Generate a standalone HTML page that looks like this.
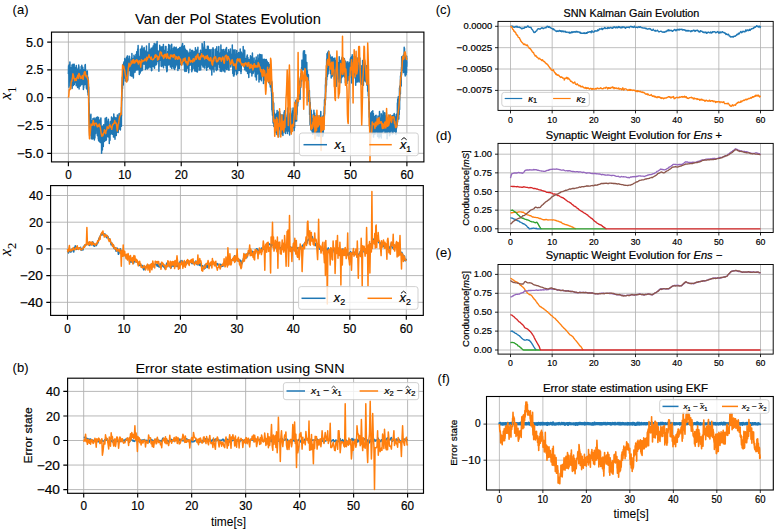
<!DOCTYPE html>
<html><head><meta charset="utf-8"><style>
html,body{margin:0;padding:0;background:#fff;}
svg{display:block;font-family:"Liberation Sans", sans-serif;}
text{stroke:#000;stroke-width:0.2px;}
text.t{stroke-width:0.06px;}
</style></head><body>
<svg width="777" height="531" viewBox="0 0 777 531">
<defs><clipPath id="ca1"><rect x="51.50" y="32.10" width="372.40" height="129.80"/></clipPath><clipPath id="ca2"><rect x="50.60" y="185.60" width="372.70" height="129.80"/></clipPath><clipPath id="cb"><rect x="67.60" y="378.20" width="355.90" height="115.10"/></clipPath><clipPath id="cc"><rect x="498.00" y="21.40" width="275.20" height="89.00"/></clipPath><clipPath id="cd"><rect x="498.00" y="143.40" width="275.20" height="89.10"/></clipPath><clipPath id="ce"><rect x="498.00" y="264.50" width="275.20" height="89.60"/></clipPath><clipPath id="cf"><rect x="486.50" y="396.50" width="286.80" height="93.50"/></clipPath></defs>
<rect width="777" height="531" fill="#fff"/>
<path d="M68.40 32.10V161.90M124.82 32.10V161.90M181.23 32.10V161.90M237.65 32.10V161.90M294.07 32.10V161.90M350.48 32.10V161.90M406.90 32.10V161.90M51.50 42.06H423.90M51.50 69.87H423.90M51.50 97.68H423.90M51.50 125.49H423.90M51.50 153.30H423.90" stroke="#b0b0b0" stroke-width="0.9" fill="none"/>
<polyline clip-path="url(#ca1)" points="68.4,74.1 68.5,70.1 68.6,65.8 68.7,73.3 68.8,72.4 68.9,75.0 69.0,87.2 69.1,71.5 69.2,64.8 69.2,74.9 69.3,76.7 69.4,81.6 69.5,72.1 69.6,80.8 69.7,73.9 69.8,71.1 69.9,61.9 70.0,65.6 70.1,74.4 70.2,71.0 70.3,71.4 70.4,78.2 70.5,76.1 70.6,86.1 70.7,77.0 70.8,68.4 70.8,73.3 70.9,69.9 71.0,70.8 71.1,67.8 71.2,74.1 71.3,75.0 71.4,76.7 71.5,76.7 71.6,73.1 71.7,85.0 71.8,75.7 71.9,78.8 72.0,65.0 72.1,88.5 72.2,87.4 72.3,70.1 72.4,72.0 72.4,78.3 72.5,72.2 72.6,75.0 72.7,73.1 72.8,75.2 72.9,79.8 73.0,64.2 73.1,78.8 73.2,73.1 73.3,85.5 73.4,77.9 73.5,82.8 73.6,83.2 73.7,68.2 73.8,79.8 73.9,65.2 73.9,67.1 74.0,71.9 74.1,79.2 74.2,64.2 74.3,84.5 74.4,78.2 74.5,78.2 74.6,73.8 74.7,81.9 74.8,68.5 74.9,77.1 75.0,72.4 75.1,80.0 75.2,68.6 75.3,72.9 75.4,82.6 75.5,68.0 75.5,67.4 75.6,70.3 75.7,70.2 75.8,74.5 75.9,76.1 76.0,71.1 76.1,68.1 76.2,85.7 76.3,65.5 76.4,74.9 76.5,76.4 76.6,72.0 76.7,74.1 76.8,71.7 76.9,76.4 77.0,75.3 77.1,75.7 77.1,70.1 77.2,83.9 77.3,69.9 77.4,75.1 77.5,80.5 77.6,87.6 77.7,83.0 77.8,69.6 77.9,74.7 78.0,75.2 78.1,68.3 78.2,67.9 78.3,75.0 78.4,78.5 78.5,78.8 78.6,70.5 78.7,77.3 78.7,65.0 78.8,72.1 78.9,79.8 79.0,66.7 79.1,88.9 79.2,76.9 79.3,71.1 79.4,86.6 79.5,79.7 79.6,76.1 79.7,86.2 79.8,75.1 79.9,74.9 80.0,78.5 80.1,72.9 80.2,76.3 80.3,86.0 80.3,70.0 80.4,80.7 80.5,71.6 80.6,76.2 80.7,81.8 80.8,85.1 80.9,73.0 81.0,70.6 81.1,72.0 81.2,66.4 81.3,82.6 81.4,77.4 81.5,72.9 81.6,74.0 81.7,71.4 81.8,84.6 81.8,65.2 81.9,78.1 82.0,72.0 82.1,80.0 82.2,81.2 82.3,73.7 82.4,71.9 82.5,81.2 82.6,76.3 82.7,77.4 82.8,67.2 82.9,73.2 83.0,69.9 83.1,75.2 83.2,72.3 83.3,86.6 83.4,76.7 83.4,89.5 83.5,69.5 83.6,76.6 83.7,88.0 83.8,77.1 83.9,76.9 84.0,78.3 84.1,72.2 84.2,73.9 84.3,75.7 84.4,82.1 84.5,74.3 84.6,77.5 84.7,84.8 84.8,83.5 84.9,75.3 85.0,66.2 85.0,65.3 85.1,67.9 85.2,84.2 85.3,64.6 85.4,68.4 85.5,76.1 85.6,69.3 85.7,74.4 85.8,80.6 85.9,79.8 86.0,76.4 86.1,77.0 86.2,72.3 86.3,87.3 86.4,82.6 86.5,88.7 86.6,74.6 86.6,82.8 86.7,81.2 86.8,89.1 86.9,78.7 87.0,71.7 87.1,73.4 87.2,73.7 87.3,71.0 87.4,73.7 87.5,83.6 87.6,81.7 87.7,92.2 87.8,80.0 87.9,77.1 88.0,79.6 88.1,95.1 88.2,87.7 88.2,93.9 88.3,85.8 88.4,83.7 88.5,89.0 88.6,93.5 88.7,87.1 88.8,93.8 88.9,103.4 89.0,102.5 89.1,106.4 89.2,114.2 89.3,116.5 89.4,115.2 89.5,123.8 89.6,135.4 89.7,129.4 89.8,127.3 89.8,123.1 89.9,124.7 90.0,124.6 90.1,127.1 90.2,125.1 90.3,123.1 90.4,126.8 90.5,127.6 90.6,122.0 90.7,132.0 90.8,121.9 90.9,114.3 91.0,131.4 91.1,128.5 91.2,125.3 91.3,126.5 91.3,138.8 91.4,127.4 91.5,137.9 91.6,126.6 91.7,121.0 91.8,121.5 91.9,133.6 92.0,132.0 92.1,129.1 92.2,122.5 92.3,135.6 92.4,124.9 92.5,139.0 92.6,120.8 92.7,130.2 92.8,126.0 92.9,133.8 92.9,118.8 93.0,135.3 93.1,138.5 93.2,136.5 93.3,136.0 93.4,125.0 93.5,132.9 93.6,127.4 93.7,121.1 93.8,118.8 93.9,130.7 94.0,126.4 94.1,118.0 94.2,124.6 94.3,122.6 94.4,140.1 94.5,123.5 94.5,129.2 94.6,119.7 94.7,129.8 94.8,126.8 94.9,138.1 95.0,120.0 95.1,128.5 95.2,128.4 95.3,125.2 95.4,127.7 95.5,119.0 95.6,121.1 95.7,133.6 95.8,132.9 95.9,127.3 96.0,120.5 96.1,129.0 96.1,122.9 96.2,126.4 96.3,117.5 96.4,122.2 96.5,129.3 96.6,124.3 96.7,128.3 96.8,122.2 96.9,124.0 97.0,127.3 97.1,128.5 97.2,121.2 97.3,127.1 97.4,135.4 97.5,116.9 97.6,133.9 97.7,135.9 97.7,123.4 97.8,117.7 97.9,136.2 98.0,129.8 98.1,129.5 98.2,128.6 98.3,138.9 98.4,122.3 98.5,117.5 98.6,140.6 98.7,119.2 98.8,127.2 98.9,120.9 99.0,136.4 99.1,137.0 99.2,122.6 99.2,141.6 99.3,134.5 99.4,131.3 99.5,131.9 99.6,130.6 99.7,136.4 99.8,120.2 99.9,127.7 100.0,131.2 100.1,130.9 100.2,128.4 100.3,142.5 100.4,139.4 100.5,126.8 100.6,131.3 100.7,136.8 100.8,134.1 100.8,119.1 100.9,117.9 101.0,123.4 101.1,136.5 101.2,134.3 101.3,138.8 101.4,133.9 101.5,131.5 101.6,153.3 101.7,138.9 101.8,139.0 101.9,134.3 102.0,132.2 102.1,132.3 102.2,134.4 102.3,133.4 102.4,126.4 102.4,150.0 102.5,127.2 102.6,128.1 102.7,130.9 102.8,140.1 102.9,132.6 103.0,133.5 103.1,131.6 103.2,134.1 103.3,146.4 103.4,126.5 103.5,132.0 103.6,134.0 103.7,124.7 103.8,129.6 103.9,128.2 104.0,137.2 104.0,126.0 104.1,136.2 104.2,127.1 104.3,130.6 104.4,141.6 104.5,138.1 104.6,135.7 104.7,130.9 104.8,130.3 104.9,130.2 105.0,127.6 105.1,121.8 105.2,118.2 105.3,133.5 105.4,126.0 105.5,131.3 105.6,140.5 105.6,125.8 105.7,139.9 105.8,125.8 105.9,131.8 106.0,128.3 106.1,127.8 106.2,135.2 106.3,129.0 106.4,139.9 106.5,117.5 106.6,133.0 106.7,129.3 106.8,131.4 106.9,126.4 107.0,124.7 107.1,132.5 107.2,128.3 107.2,127.3 107.3,133.4 107.4,121.5 107.5,129.1 107.6,136.1 107.7,122.4 107.8,136.8 107.9,135.7 108.0,130.2 108.1,132.8 108.2,130.9 108.3,136.9 108.4,119.2 108.5,130.4 108.6,128.6 108.7,121.5 108.7,134.0 108.8,122.3 108.9,137.3 109.0,135.0 109.1,135.6 109.2,127.2 109.3,143.4 109.4,127.1 109.5,127.1 109.6,136.0 109.7,131.0 109.8,127.8 109.9,135.9 110.0,140.2 110.1,124.6 110.2,127.8 110.3,128.1 110.3,125.7 110.4,124.3 110.5,127.7 110.6,121.6 110.7,134.3 110.8,132.5 110.9,131.2 111.0,120.9 111.1,132.6 111.2,131.7 111.3,124.2 111.4,128.6 111.5,117.1 111.6,133.2 111.7,133.4 111.8,128.3 111.9,127.3 111.9,132.6 112.0,121.9 112.1,124.6 112.2,123.2 112.3,120.1 112.4,134.3 112.5,121.9 112.6,126.8 112.7,121.4 112.8,119.5 112.9,118.0 113.0,129.1 113.1,127.2 113.2,125.3 113.3,125.7 113.4,124.1 113.5,133.1 113.5,137.0 113.6,127.9 113.7,132.3 113.8,114.1 113.9,133.5 114.0,130.6 114.1,134.3 114.2,128.9 114.3,119.7 114.4,125.8 114.5,137.0 114.6,129.4 114.7,117.2 114.8,133.1 114.9,125.0 115.0,139.3 115.1,128.3 115.1,130.9 115.2,129.0 115.3,124.9 115.4,134.6 115.5,118.8 115.6,118.0 115.7,127.9 115.8,122.2 115.9,130.9 116.0,132.5 116.1,132.5 116.2,124.3 116.3,135.5 116.4,128.4 116.5,118.0 116.6,132.5 116.6,121.1 116.7,122.3 116.8,130.3 116.9,126.5 117.0,127.5 117.1,131.8 117.2,117.7 117.3,127.9 117.4,115.1 117.5,132.0 117.6,123.6 117.7,122.0 117.8,120.8 117.9,123.1 118.0,122.4 118.1,124.7 118.2,120.7 118.2,132.6 118.3,127.9 118.4,123.8 118.5,119.6 118.6,118.4 118.7,124.7 118.8,124.5 118.9,118.2 119.0,115.6 119.1,114.7 119.2,113.4 119.3,122.7 119.4,125.0 119.5,123.6 119.6,120.4 119.7,129.3 119.8,121.5 119.8,118.8 119.9,118.9 120.0,127.3 120.1,120.8 120.2,120.2 120.3,116.6 120.4,129.9 120.5,124.9 120.6,119.6 120.7,114.7 120.8,117.6 120.9,120.5 121.0,122.7 121.1,122.4 121.2,125.7 121.3,114.3 121.4,123.6 121.4,126.2 121.5,107.0 121.6,116.1 121.7,97.7 121.8,100.9 121.9,96.6 122.0,85.4 122.1,91.6 122.2,83.7 122.3,77.6 122.4,81.5 122.5,88.5 122.6,75.8 122.7,77.9 122.8,73.8 122.9,81.8 123.0,64.4 123.0,70.7 123.1,85.1 123.2,76.8 123.3,85.0 123.4,64.5 123.5,69.2 123.6,63.5 123.7,73.8 123.8,68.1 123.9,62.1 124.0,72.1 124.1,63.0 124.2,68.5 124.3,78.0 124.4,76.9 124.5,70.7 124.6,67.0 124.6,62.8 124.7,71.1 124.8,58.6 124.9,69.7 125.0,71.4 125.1,74.2 125.2,70.0 125.3,81.1 125.4,73.8 125.5,70.0 125.6,59.9 125.7,76.9 125.8,61.2 125.9,62.3 126.0,59.6 126.1,73.3 126.1,76.1 126.2,67.0 126.3,74.0 126.4,75.4 126.5,57.6 126.6,72.5 126.7,65.3 126.8,78.5 126.9,67.0 127.0,74.4 127.1,66.6 127.2,66.7 127.3,55.9 127.4,64.5 127.5,67.5 127.6,80.7 127.7,64.2 127.7,55.9 127.8,80.1 127.9,65.9 128.0,70.9 128.1,62.2 128.2,69.4 128.3,58.8 128.4,61.9 128.5,68.1 128.6,70.1 128.7,67.0 128.8,65.4 128.9,69.4 129.0,69.6 129.1,64.2 129.2,70.5 129.3,68.9 129.3,67.9 129.4,66.7 129.5,56.2 129.6,70.2 129.7,66.2 129.8,60.6 129.9,64.5 130.0,58.9 130.1,66.5 130.2,62.2 130.3,73.2 130.4,75.6 130.5,72.7 130.6,75.4 130.7,65.9 130.8,72.0 130.9,64.8 130.9,64.6 131.0,62.1 131.1,63.4 131.2,68.6 131.3,64.0 131.4,68.1 131.5,76.1 131.6,73.5 131.7,57.3 131.8,71.0 131.9,53.4 132.0,76.2 132.1,68.0 132.2,65.7 132.3,60.6 132.4,74.5 132.5,62.3 132.5,62.1 132.6,65.4 132.7,67.0 132.8,70.2 132.9,60.5 133.0,70.1 133.1,59.2 133.2,58.6 133.3,64.3 133.4,78.1 133.5,62.5 133.6,73.4 133.7,71.4 133.8,60.1 133.9,60.7 134.0,61.3 134.0,55.3 134.1,69.3 134.2,61.5 134.3,63.2 134.4,67.0 134.5,58.6 134.6,62.9 134.7,65.5 134.8,56.9 134.9,61.3 135.0,72.3 135.1,63.5 135.2,57.1 135.3,64.9 135.4,61.3 135.5,60.5 135.6,70.5 135.6,61.7 135.7,69.1 135.8,64.1 135.9,54.4 136.0,66.8 136.1,62.7 136.2,62.2 136.3,61.9 136.4,68.3 136.5,61.2 136.6,68.0 136.7,51.7 136.8,56.8 136.9,63.0 137.0,70.0 137.1,68.4 137.2,67.3 137.2,51.7 137.3,68.7 137.4,63.8 137.5,65.0 137.6,57.0 137.7,49.0 137.8,67.2 137.9,67.3 138.0,54.4 138.1,45.4 138.2,50.3 138.3,69.8 138.4,55.0 138.5,69.5 138.6,57.2 138.7,67.2 138.8,59.6 138.8,67.8 138.9,64.2 139.0,66.6 139.1,68.3 139.2,62.5 139.3,74.4 139.4,57.1 139.5,62.3 139.6,58.3 139.7,61.9 139.8,67.9 139.9,67.5 140.0,61.1 140.1,68.2 140.2,72.9 140.3,55.2 140.4,49.2 140.4,60.1 140.5,65.9 140.6,52.5 140.7,57.3 140.8,57.2 140.9,60.0 141.0,68.9 141.1,56.8 141.2,56.9 141.3,70.8 141.4,61.0 141.5,60.3 141.6,48.1 141.7,70.7 141.8,53.1 141.9,60.7 142.0,61.1 142.0,46.1 142.1,50.1 142.2,57.7 142.3,55.3 142.4,68.7 142.5,69.9 142.6,64.2 142.7,56.2 142.8,59.8 142.9,56.8 143.0,59.7 143.1,58.8 143.2,50.8 143.3,49.0 143.4,56.7 143.5,58.9 143.5,48.9 143.6,52.9 143.7,58.0 143.8,58.7 143.9,64.1 144.0,51.0 144.1,47.6 144.2,47.7 144.3,59.5 144.4,57.2 144.5,56.2 144.6,56.6 144.7,60.7 144.8,50.3 144.9,63.6 145.0,64.4 145.1,54.1 145.1,58.7 145.2,61.3 145.3,52.1 145.4,51.5 145.5,69.5 145.6,64.7 145.7,57.6 145.8,59.2 145.9,61.5 146.0,58.4 146.1,68.1 146.2,65.6 146.3,57.8 146.4,65.7 146.5,46.1 146.6,52.5 146.7,62.7 146.7,51.0 146.8,53.2 146.9,66.2 147.0,52.2 147.1,53.1 147.2,62.4 147.3,57.9 147.4,69.1 147.5,55.6 147.6,59.0 147.7,60.3 147.8,52.3 147.9,57.6 148.0,58.7 148.1,55.8 148.2,52.2 148.3,61.9 148.3,53.2 148.4,59.4 148.5,64.3 148.6,62.7 148.7,52.5 148.8,67.9 148.9,51.6 149.0,48.1 149.1,43.4 149.2,66.9 149.3,60.5 149.4,61.9 149.5,56.5 149.6,61.8 149.7,63.7 149.8,66.7 149.9,65.3 149.9,49.8 150.0,62.6 150.1,54.8 150.2,64.2 150.3,65.7 150.4,55.4 150.5,55.7 150.6,63.3 150.7,59.7 150.8,56.0 150.9,67.8 151.0,58.8 151.1,48.2 151.2,55.7 151.3,54.4 151.4,63.7 151.4,54.6 151.5,70.8 151.6,66.6 151.7,63.7 151.8,70.5 151.9,50.8 152.0,57.3 152.1,65.4 152.2,47.9 152.3,64.0 152.4,52.8 152.5,66.6 152.6,58.4 152.7,59.1 152.8,56.1 152.9,60.6 153.0,53.7 153.0,56.3 153.1,52.2 153.2,46.0 153.3,51.7 153.4,46.9 153.5,50.8 153.6,63.5 153.7,52.2 153.8,66.8 153.9,63.0 154.0,54.1 154.1,56.0 154.2,43.4 154.3,58.2 154.4,59.2 154.5,68.2 154.6,48.9 154.6,46.5 154.7,65.7 154.8,43.9 154.9,62.6 155.0,61.6 155.1,52.1 155.2,65.2 155.3,50.5 155.4,63.5 155.5,55.7 155.6,52.9 155.7,45.0 155.8,43.9 155.9,61.7 156.0,58.2 156.1,50.1 156.2,52.5 156.2,64.8 156.3,56.5 156.4,43.9 156.5,58.3 156.6,64.1 156.7,57.5 156.8,48.4 156.9,56.1 157.0,46.3 157.1,41.4 157.2,61.8 157.3,54.1 157.4,60.1 157.5,57.3 157.6,59.6 157.7,50.4 157.8,57.3 157.8,56.5 157.9,50.8 158.0,60.7 158.1,55.6 158.2,60.1 158.3,54.2 158.4,51.9 158.5,57.3 158.6,59.2 158.7,52.8 158.8,57.2 158.9,71.2 159.0,56.6 159.1,66.4 159.2,51.4 159.3,55.8 159.4,61.0 159.4,55.9 159.5,55.7 159.6,60.3 159.7,45.3 159.8,50.3 159.9,52.5 160.0,60.3 160.1,54.5 160.2,59.3 160.3,55.1 160.4,58.8 160.5,54.7 160.6,56.4 160.7,51.3 160.8,50.2 160.9,57.4 160.9,47.0 161.0,50.3 161.1,65.3 161.2,66.2 161.3,61.6 161.4,63.5 161.5,50.3 161.6,66.4 161.7,53.5 161.8,56.8 161.9,50.4 162.0,46.8 162.1,48.8 162.2,65.7 162.3,51.5 162.4,61.7 162.5,54.6 162.5,52.4 162.6,47.9 162.7,50.9 162.8,64.6 162.9,55.2 163.0,54.3 163.1,65.7 163.2,57.2 163.3,48.1 163.4,44.5 163.5,67.8 163.6,56.4 163.7,52.7 163.8,64.9 163.9,58.4 164.0,60.9 164.1,55.9 164.1,54.6 164.2,57.6 164.3,50.5 164.4,64.2 164.5,65.1 164.6,54.1 164.7,59.3 164.8,64.7 164.9,57.4 165.0,55.7 165.1,51.0 165.2,53.2 165.3,54.2 165.4,46.4 165.5,50.5 165.6,57.3 165.7,65.5 165.7,52.0 165.8,62.4 165.9,59.0 166.0,46.4 166.1,60.1 166.2,65.9 166.3,68.3 166.4,60.8 166.5,56.3 166.6,60.3 166.7,67.7 166.8,71.8 166.9,58.1 167.0,57.9 167.1,62.5 167.2,71.0 167.3,63.1 167.3,59.5 167.4,65.4 167.5,56.5 167.6,60.1 167.7,51.6 167.8,57.0 167.9,57.5 168.0,58.6 168.1,55.6 168.2,56.2 168.3,48.8 168.4,51.0 168.5,52.8 168.6,53.0 168.7,44.6 168.8,65.0 168.8,54.5 168.9,57.3 169.0,52.5 169.1,46.1 169.2,57.7 169.3,61.5 169.4,56.9 169.5,52.1 169.6,61.1 169.7,52.2 169.8,48.7 169.9,49.9 170.0,45.2 170.1,64.3 170.2,49.8 170.3,59.5 170.4,67.1 170.4,52.4 170.5,64.5 170.6,59.4 170.7,54.6 170.8,53.1 170.9,62.9 171.0,55.9 171.1,51.4 171.2,55.5 171.3,61.5 171.4,59.9 171.5,60.4 171.6,66.0 171.7,44.2 171.8,68.5 171.9,54.5 172.0,61.8 172.0,54.7 172.1,48.2 172.2,66.7 172.3,50.2 172.4,65.3 172.5,62.2 172.6,54.8 172.7,50.2 172.8,66.2 172.9,51.7 173.0,62.8 173.1,54.1 173.2,54.4 173.3,51.3 173.4,63.1 173.5,53.5 173.6,56.4 173.6,65.0 173.7,48.0 173.8,68.2 173.9,55.8 174.0,62.0 174.1,50.3 174.2,46.9 174.3,54.0 174.4,67.5 174.5,56.8 174.6,69.5 174.7,67.8 174.8,66.8 174.9,58.8 175.0,49.2 175.1,57.4 175.2,64.8 175.2,67.8 175.3,67.3 175.4,48.0 175.5,61.5 175.6,62.5 175.7,48.2 175.8,59.5 175.9,65.9 176.0,57.7 176.1,63.1 176.2,47.3 176.3,59.5 176.4,64.1 176.5,62.4 176.6,62.6 176.7,50.4 176.8,50.3 176.8,55.3 176.9,55.7 177.0,64.6 177.1,59.5 177.2,58.9 177.3,53.3 177.4,55.1 177.5,49.2 177.6,53.9 177.7,52.4 177.8,65.2 177.9,70.5 178.0,53.6 178.1,53.8 178.2,52.7 178.3,53.1 178.3,50.0 178.4,57.0 178.5,48.8 178.6,62.6 178.7,54.6 178.8,49.7 178.9,63.0 179.0,60.7 179.1,56.6 179.2,52.0 179.3,68.4 179.4,53.5 179.5,55.3 179.6,62.9 179.7,48.5 179.8,47.4 179.9,49.7 179.9,64.7 180.0,59.0 180.1,60.4 180.2,49.4 180.3,61.0 180.4,53.8 180.5,47.8 180.6,61.6 180.7,63.9 180.8,53.6 180.9,53.7 181.0,55.5 181.1,64.5 181.2,64.6 181.3,56.6 181.4,61.5 181.5,54.5 181.5,46.6 181.6,54.7 181.7,48.7 181.8,64.7 181.9,64.1 182.0,61.2 182.1,45.0 182.2,54.4 182.3,59.6 182.4,54.0 182.5,53.7 182.6,43.5 182.7,59.0 182.8,46.2 182.9,46.3 183.0,54.9 183.1,62.8 183.1,53.6 183.2,58.2 183.3,62.4 183.4,47.4 183.5,54.0 183.6,52.9 183.7,52.0 183.8,58.1 183.9,56.5 184.0,58.0 184.1,65.0 184.2,55.1 184.3,64.9 184.4,45.8 184.5,69.1 184.6,70.6 184.7,48.1 184.7,58.6 184.8,61.0 184.9,52.9 185.0,71.4 185.1,59.4 185.2,63.3 185.3,60.7 185.4,59.5 185.5,49.4 185.6,60.5 185.7,52.6 185.8,70.6 185.9,64.9 186.0,51.8 186.1,63.5 186.2,55.8 186.2,63.7 186.3,56.3 186.4,71.2 186.5,57.6 186.6,58.4 186.7,56.2 186.8,53.5 186.9,50.6 187.0,66.0 187.1,61.2 187.2,63.5 187.3,52.2 187.4,62.5 187.5,63.0 187.6,62.9 187.7,67.3 187.8,68.3 187.8,61.7 187.9,51.9 188.0,63.1 188.1,57.0 188.2,67.1 188.3,66.5 188.4,66.1 188.5,65.6 188.6,65.2 188.7,72.8 188.8,70.5 188.9,69.7 189.0,60.0 189.1,66.3 189.2,53.2 189.3,57.0 189.4,65.6 189.4,64.1 189.5,58.6 189.6,56.5 189.7,60.6 189.8,64.5 189.9,63.7 190.0,49.3 190.1,64.5 190.2,52.2 190.3,54.5 190.4,60.7 190.5,55.4 190.6,61.2 190.7,61.8 190.8,60.9 190.9,62.4 191.0,65.3 191.0,61.4 191.1,63.5 191.2,60.8 191.3,58.3 191.4,60.7 191.5,63.2 191.6,59.8 191.7,50.5 191.8,71.8 191.9,58.4 192.0,62.5 192.1,50.2 192.2,65.2 192.3,70.0 192.4,51.7 192.5,52.8 192.6,52.5 192.6,68.0 192.7,68.1 192.8,59.7 192.9,54.0 193.0,51.1 193.1,62.0 193.2,68.6 193.3,52.6 193.4,63.7 193.5,55.7 193.6,54.8 193.7,55.8 193.8,54.9 193.9,57.3 194.0,59.3 194.1,62.4 194.2,62.3 194.2,59.1 194.3,52.9 194.4,57.3 194.5,51.8 194.6,63.0 194.7,61.4 194.8,71.0 194.9,58.6 195.0,55.3 195.1,55.0 195.2,65.1 195.3,60.9 195.4,47.8 195.5,55.1 195.6,60.9 195.7,60.0 195.7,66.1 195.8,52.6 195.9,59.6 196.0,65.4 196.1,60.2 196.2,71.4 196.3,69.4 196.4,66.7 196.5,51.6 196.6,50.5 196.7,62.3 196.8,57.3 196.9,69.1 197.0,56.3 197.1,62.4 197.2,70.0 197.3,54.8 197.3,49.4 197.4,72.1 197.5,56.2 197.6,62.6 197.7,56.1 197.8,51.5 197.9,47.3 198.0,57.5 198.1,53.6 198.2,56.0 198.3,66.1 198.4,57.4 198.5,56.8 198.6,58.7 198.7,64.7 198.8,59.0 198.9,66.8 198.9,58.2 199.0,58.4 199.1,61.8 199.2,70.2 199.3,62.9 199.4,53.5 199.5,59.1 199.6,58.4 199.7,53.6 199.8,61.4 199.9,65.8 200.0,67.3 200.1,60.2 200.2,58.4 200.3,53.7 200.4,57.5 200.5,50.2 200.5,56.9 200.6,56.0 200.7,70.1 200.8,53.5 200.9,57.0 201.0,53.6 201.1,54.8 201.2,52.4 201.3,57.6 201.4,60.7 201.5,52.6 201.6,57.2 201.7,57.2 201.8,64.7 201.9,63.9 202.0,52.5 202.1,52.7 202.1,43.6 202.2,53.9 202.3,48.5 202.4,44.5 202.5,61.8 202.6,52.2 202.7,60.3 202.8,66.2 202.9,57.3 203.0,67.0 203.1,54.4 203.2,50.3 203.3,57.6 203.4,48.2 203.5,54.1 203.6,65.9 203.6,59.4 203.7,55.7 203.8,55.3 203.9,66.4 204.0,47.1 204.1,64.2 204.2,59.8 204.3,41.7 204.4,67.9 204.5,44.7 204.6,51.8 204.7,47.8 204.8,52.7 204.9,68.0 205.0,60.7 205.1,57.5 205.2,62.5 205.2,54.3 205.3,52.8 205.4,59.8 205.5,51.0 205.6,55.9 205.7,54.7 205.8,59.7 205.9,63.2 206.0,64.9 206.1,49.5 206.2,54.1 206.3,60.9 206.4,59.0 206.5,61.2 206.6,56.3 206.7,70.2 206.8,49.5 206.8,60.6 206.9,59.6 207.0,54.5 207.1,58.3 207.2,60.0 207.3,64.0 207.4,46.2 207.5,54.8 207.6,60.2 207.7,65.3 207.8,60.2 207.9,67.3 208.0,63.5 208.1,61.5 208.2,46.3 208.3,47.0 208.4,57.1 208.4,49.3 208.5,66.0 208.6,66.2 208.7,61.5 208.8,64.6 208.9,54.2 209.0,51.6 209.1,65.6 209.2,57.6 209.3,52.8 209.4,54.0 209.5,53.9 209.6,49.7 209.7,68.4 209.8,56.5 209.9,66.4 210.0,68.7 210.0,50.2 210.1,55.9 210.2,58.2 210.3,65.9 210.4,67.8 210.5,56.2 210.6,54.7 210.7,63.3 210.8,59.8 210.9,61.8 211.0,61.2 211.1,49.6 211.2,63.1 211.3,70.1 211.4,60.9 211.5,66.0 211.6,60.8 211.6,61.1 211.7,57.3 211.8,75.0 211.9,66.2 212.0,61.8 212.1,62.7 212.2,64.2 212.3,66.1 212.4,64.1 212.5,60.5 212.6,62.9 212.7,68.9 212.8,48.8 212.9,50.9 213.0,47.7 213.1,55.7 213.1,57.5 213.2,55.6 213.3,59.7 213.4,55.9 213.5,62.4 213.6,52.7 213.7,59.0 213.8,55.2 213.9,49.6 214.0,72.1 214.1,59.4 214.2,61.1 214.3,59.2 214.4,58.7 214.5,57.8 214.6,65.8 214.7,61.6 214.7,57.6 214.8,62.1 214.9,65.9 215.0,65.2 215.1,60.7 215.2,58.1 215.3,64.0 215.4,57.9 215.5,58.5 215.6,61.1 215.7,55.3 215.8,48.9 215.9,55.6 216.0,69.7 216.1,56.6 216.2,66.1 216.3,59.0 216.3,52.1 216.4,70.3 216.5,70.4 216.6,53.6 216.7,61.6 216.8,46.8 216.9,52.7 217.0,57.3 217.1,55.3 217.2,61.4 217.3,69.0 217.4,68.9 217.5,69.5 217.6,59.1 217.7,65.1 217.8,57.6 217.9,56.2 217.9,57.8 218.0,58.5 218.1,60.9 218.2,58.3 218.3,51.2 218.4,56.5 218.5,59.8 218.6,56.3 218.7,64.1 218.8,46.5 218.9,54.1 219.0,54.8 219.1,56.8 219.2,59.5 219.3,64.0 219.4,63.3 219.5,59.4 219.5,67.4 219.6,64.7 219.7,60.9 219.8,56.5 219.9,57.8 220.0,59.2 220.1,55.9 220.2,62.7 220.3,71.3 220.4,52.7 220.5,65.4 220.6,55.8 220.7,60.7 220.8,61.5 220.9,45.1 221.0,57.8 221.0,52.9 221.1,59.5 221.2,54.0 221.3,60.1 221.4,57.4 221.5,55.6 221.6,66.0 221.7,66.2 221.8,71.5 221.9,61.5 222.0,49.8 222.1,53.1 222.2,58.3 222.3,54.0 222.4,51.3 222.5,69.8 222.6,66.8 222.6,54.1 222.7,51.5 222.8,64.7 222.9,54.5 223.0,58.7 223.1,59.6 223.2,63.1 223.3,52.6 223.4,56.5 223.5,49.4 223.6,58.0 223.7,63.6 223.8,71.0 223.9,60.8 224.0,52.3 224.1,67.1 224.2,55.7 224.2,62.7 224.3,53.1 224.4,64.1 224.5,57.8 224.6,60.1 224.7,51.3 224.8,66.2 224.9,72.0 225.0,62.3 225.1,58.5 225.2,61.5 225.3,49.4 225.4,62.1 225.5,65.9 225.6,56.1 225.7,64.4 225.8,53.0 225.8,49.0 225.9,68.4 226.0,58.3 226.1,57.2 226.2,59.2 226.3,61.6 226.4,50.2 226.5,47.6 226.6,53.3 226.7,69.5 226.8,55.0 226.9,62.4 227.0,57.6 227.1,52.8 227.2,56.5 227.3,54.8 227.4,61.0 227.4,59.9 227.5,67.6 227.6,54.9 227.7,58.5 227.8,59.4 227.9,65.1 228.0,54.4 228.1,58.6 228.2,55.8 228.3,69.7 228.4,56.0 228.5,57.9 228.6,49.8 228.7,68.4 228.8,51.2 228.9,52.1 229.0,67.6 229.0,70.2 229.1,64.5 229.2,62.7 229.3,63.1 229.4,57.6 229.5,53.5 229.6,54.5 229.7,58.9 229.8,53.0 229.9,58.0 230.0,56.7 230.1,56.7 230.2,59.7 230.3,59.5 230.4,48.9 230.5,60.6 230.5,57.3 230.6,60.4 230.7,63.4 230.8,67.1 230.9,55.8 231.0,54.4 231.1,58.7 231.2,55.6 231.3,62.1 231.4,55.4 231.5,59.0 231.6,55.5 231.7,63.6 231.8,55.1 231.9,63.3 232.0,59.0 232.1,52.9 232.1,61.0 232.2,62.0 232.3,45.1 232.4,60.7 232.5,53.7 232.6,65.8 232.7,49.5 232.8,73.6 232.9,70.5 233.0,62.4 233.1,56.0 233.2,57.6 233.3,50.6 233.4,59.8 233.5,75.9 233.6,58.5 233.7,68.7 233.7,50.2 233.8,73.4 233.9,62.6 234.0,76.1 234.1,71.9 234.2,67.1 234.3,74.5 234.4,61.5 234.5,61.0 234.6,64.1 234.7,56.6 234.8,54.0 234.9,59.7 235.0,49.7 235.1,53.0 235.2,63.8 235.3,62.3 235.3,55.7 235.4,58.0 235.5,64.7 235.6,70.2 235.7,54.5 235.8,65.7 235.9,65.4 236.0,62.3 236.1,72.0 236.2,58.1 236.3,56.7 236.4,65.2 236.5,74.7 236.6,61.8 236.7,50.5 236.8,70.5 236.9,62.1 236.9,57.2 237.0,66.9 237.1,59.7 237.2,59.7 237.3,71.8 237.4,59.3 237.5,53.9 237.6,73.3 237.7,59.7 237.8,56.0 237.9,53.9 238.0,61.9 238.1,69.8 238.2,65.7 238.3,67.1 238.4,65.4 238.4,59.8 238.5,59.6 238.6,55.3 238.7,52.4 238.8,67.4 238.9,59.3 239.0,70.5 239.1,58.0 239.2,57.2 239.3,54.9 239.4,56.0 239.5,62.8 239.6,60.8 239.7,64.4 239.8,62.0 239.9,62.9 240.0,63.2 240.0,53.5 240.1,59.0 240.2,49.0 240.3,70.6 240.4,56.7 240.5,60.2 240.6,66.0 240.7,71.5 240.8,66.5 240.9,66.4 241.0,73.4 241.1,52.0 241.2,71.7 241.3,66.5 241.4,64.0 241.5,52.6 241.6,64.1 241.6,59.4 241.7,60.3 241.8,61.2 241.9,60.2 242.0,59.2 242.1,57.5 242.2,61.3 242.3,59.1 242.4,64.7 242.5,53.7 242.6,53.8 242.7,58.9 242.8,59.6 242.9,53.7 243.0,64.9 243.1,58.0 243.2,58.5 243.2,46.4 243.3,62.1 243.4,55.1 243.5,53.8 243.6,57.8 243.7,59.3 243.8,57.3 243.9,63.9 244.0,53.0 244.1,66.8 244.2,65.8 244.3,64.6 244.4,61.2 244.5,50.2 244.6,67.9 244.7,50.2 244.8,56.5 244.8,69.7 244.9,57.1 245.0,69.8 245.1,68.8 245.2,60.0 245.3,58.7 245.4,68.2 245.5,64.0 245.6,65.1 245.7,66.6 245.8,70.1 245.9,68.6 246.0,64.2 246.1,71.0 246.2,58.6 246.3,71.1 246.3,61.8 246.4,59.1 246.5,64.1 246.6,61.4 246.7,60.8 246.8,65.5 246.9,56.2 247.0,59.0 247.1,67.5 247.2,56.2 247.3,54.9 247.4,59.3 247.5,62.7 247.6,73.4 247.7,72.5 247.8,59.2 247.9,57.5 247.9,58.7 248.0,69.7 248.1,71.7 248.2,60.2 248.3,59.2 248.4,63.5 248.5,66.4 248.6,63.5 248.7,61.2 248.8,77.5 248.9,65.0 249.0,67.9 249.1,67.3 249.2,72.3 249.3,71.7 249.4,61.1 249.5,66.7 249.5,63.8 249.6,63.4 249.7,59.2 249.8,72.5 249.9,66.7 250.0,72.5 250.1,60.5 250.2,59.6 250.3,62.5 250.4,58.4 250.5,55.8 250.6,63.2 250.7,64.7 250.8,58.3 250.9,63.4 251.0,63.5 251.1,60.8 251.1,68.9 251.2,56.7 251.3,62.5 251.4,64.6 251.5,65.4 251.6,73.5 251.7,67.0 251.8,70.5 251.9,76.0 252.0,58.0 252.1,64.6 252.2,69.9 252.3,72.1 252.4,52.9 252.5,57.3 252.6,65.1 252.7,61.3 252.7,70.3 252.8,66.8 252.9,73.5 253.0,65.9 253.1,72.5 253.2,73.2 253.3,72.1 253.4,65.9 253.5,71.7 253.6,68.6 253.7,66.7 253.8,65.4 253.9,64.3 254.0,65.3 254.1,58.1 254.2,65.7 254.3,63.0 254.3,67.1 254.4,62.9 254.5,63.6 254.6,69.1 254.7,63.7 254.8,63.0 254.9,63.7 255.0,68.1 255.1,72.9 255.2,73.5 255.3,76.8 255.4,66.5 255.5,66.0 255.6,71.1 255.7,66.0 255.8,60.1 255.8,70.5 255.9,69.3 256.0,75.6 256.1,75.4 256.2,56.9 256.3,71.4 256.4,80.0 256.5,79.0 256.6,64.8 256.7,60.2 256.8,72.1 256.9,65.3 257.0,71.8 257.1,67.7 257.2,71.0 257.3,61.8 257.4,74.0 257.4,69.9 257.5,67.1 257.6,66.6 257.7,60.1 257.8,70.0 257.9,54.9 258.0,73.1 258.1,65.9 258.2,67.7 258.3,70.2 258.4,58.2 258.5,68.7 258.6,67.7 258.7,74.0 258.8,64.5 258.9,72.0 259.0,82.0 259.0,69.6 259.1,73.1 259.2,66.5 259.3,67.9 259.4,76.9 259.5,75.1 259.6,54.3 259.7,72.8 259.8,68.9 259.9,74.5 260.0,79.2 260.1,74.4 260.2,57.7 260.3,68.8 260.4,67.5 260.5,54.7 260.6,74.8 260.6,66.4 260.7,79.0 260.8,73.6 260.9,71.7 261.0,63.4 261.1,68.7 261.2,65.9 261.3,71.8 261.4,80.7 261.5,70.8 261.6,70.4 261.7,72.1 261.8,75.3 261.9,54.8 262.0,73.5 262.1,74.6 262.2,71.8 262.2,68.3 262.3,74.0 262.4,67.1 262.5,62.5 262.6,68.9 262.7,60.3 262.8,66.6 262.9,68.3 263.0,68.7 263.1,59.2 263.2,71.7 263.3,75.2 263.4,72.4 263.5,83.5 263.6,79.3 263.7,62.6 263.7,66.0 263.8,65.5 263.9,68.2 264.0,72.9 264.1,64.4 264.2,68.7 264.3,61.7 264.4,77.0 264.5,67.0 264.6,59.2 264.7,80.1 264.8,60.7 264.9,59.4 265.0,64.1 265.1,76.1 265.2,71.2 265.3,67.9 265.3,78.9 265.4,76.7 265.5,74.2 265.6,60.9 265.7,67.3 265.8,73.5 265.9,71.1 266.0,62.9 266.1,68.3 266.2,66.4 266.3,59.5 266.4,67.7 266.5,66.5 266.6,62.3 266.7,74.2 266.8,75.8 266.9,71.3 266.9,80.2 267.0,61.1 267.1,71.7 267.2,61.4 267.3,62.7 267.4,68.1 267.5,78.7 267.6,64.6 267.7,74.5 267.8,66.8 267.9,78.8 268.0,74.4 268.1,70.6 268.2,74.7 268.3,72.9 268.4,77.1 268.5,64.6 268.5,62.7 268.6,66.0 268.7,79.1 268.8,82.8 268.9,80.5 269.0,72.9 269.1,79.8 269.2,72.6 269.3,73.1 269.4,73.2 269.5,73.1 269.6,78.4 269.7,69.7 269.8,71.6 269.9,64.4 270.0,85.0 270.1,74.0 270.1,79.2 270.2,74.9 270.3,87.0 270.4,75.0 270.5,74.7 270.6,86.5 270.7,83.0 270.8,85.4 270.9,86.7 271.0,85.8 271.1,85.9 271.2,84.0 271.3,90.8 271.4,91.5 271.5,86.5 271.6,92.4 271.7,96.2 271.7,81.8 271.8,94.8 271.9,110.1 272.0,101.4 272.1,102.6 272.2,91.3 272.3,112.0 272.4,93.4 272.5,115.2 272.6,102.8 272.7,108.5 272.8,103.2 272.9,109.3 273.0,113.7 273.1,123.1 273.2,111.7 273.2,101.8 273.3,105.0 273.4,112.4 273.5,107.9 273.6,121.6 273.7,103.0 273.8,113.4 273.9,126.6 274.0,109.9 274.1,121.7 274.2,112.9 274.3,112.8 274.4,122.4 274.5,120.5 274.6,123.0 274.7,121.3 274.8,120.7 274.8,128.5 274.9,123.7 275.0,127.9 275.1,127.2 275.2,122.2 275.3,118.1 275.4,127.8 275.5,118.7 275.6,122.1 275.7,121.7 275.8,114.2 275.9,132.2 276.0,117.1 276.1,118.3 276.2,132.5 276.3,122.1 276.4,114.1 276.4,113.2 276.5,115.9 276.6,122.9 276.7,114.4 276.8,121.5 276.9,134.6 277.0,127.4 277.1,110.4 277.2,119.9 277.3,122.6 277.4,134.7 277.5,115.1 277.6,112.9 277.7,117.6 277.8,118.4 277.9,122.1 278.0,122.2 278.0,127.3 278.1,127.1 278.2,127.3 278.3,118.1 278.4,127.8 278.5,122.8 278.6,112.0 278.7,136.7 278.8,122.5 278.9,117.5 279.0,130.2 279.1,125.7 279.2,122.4 279.3,115.3 279.4,122.2 279.5,122.0 279.6,114.5 279.6,111.6 279.7,115.4 279.8,114.7 279.9,114.0 280.0,115.6 280.1,119.7 280.2,114.3 280.3,115.4 280.4,128.0 280.5,114.3 280.6,134.4 280.7,127.6 280.8,133.8 280.9,124.0 281.0,115.1 281.1,134.1 281.1,127.4 281.2,124.4 281.3,120.8 281.4,132.5 281.5,120.1 281.6,118.5 281.7,122.4 281.8,121.1 281.9,125.0 282.0,133.7 282.1,118.3 282.2,118.9 282.3,115.0 282.4,124.6 282.5,132.1 282.6,134.3 282.7,125.2 282.7,128.3 282.8,131.9 282.9,135.4 283.0,123.8 283.1,130.6 283.2,115.2 283.3,121.3 283.4,117.7 283.5,127.1 283.6,124.0 283.7,132.5 283.8,118.9 283.9,120.3 284.0,121.1 284.1,112.3 284.2,127.7 284.3,124.7 284.3,124.2 284.4,123.1 284.5,110.7 284.6,123.1 284.7,121.6 284.8,130.3 284.9,124.4 285.0,123.7 285.1,120.9 285.2,117.5 285.3,131.9 285.4,126.2 285.5,133.5 285.6,113.7 285.7,121.9 285.8,130.4 285.9,125.1 285.9,125.2 286.0,121.2 286.1,130.8 286.2,130.9 286.3,119.2 286.4,126.9 286.5,129.2 286.6,124.5 286.7,129.8 286.8,124.0 286.9,130.8 287.0,117.7 287.1,119.7 287.2,124.6 287.3,121.0 287.4,115.6 287.5,123.4 287.5,133.4 287.6,114.8 287.7,108.1 287.8,109.7 287.9,124.0 288.0,122.9 288.1,125.2 288.2,120.7 288.3,131.0 288.4,122.8 288.5,126.4 288.6,124.1 288.7,113.1 288.8,118.9 288.9,114.8 289.0,123.5 289.1,120.7 289.1,121.1 289.2,118.8 289.3,119.9 289.4,115.3 289.5,116.4 289.6,134.9 289.7,117.7 289.8,114.7 289.9,122.9 290.0,128.3 290.1,114.3 290.2,119.5 290.3,121.7 290.4,112.3 290.5,119.8 290.6,114.2 290.6,108.2 290.7,118.8 290.8,118.3 290.9,116.4 291.0,126.1 291.1,117.7 291.2,121.7 291.3,132.7 291.4,121.7 291.5,117.3 291.6,114.9 291.7,119.4 291.8,124.6 291.9,129.2 292.0,118.2 292.1,118.8 292.2,115.5 292.2,117.7 292.3,113.1 292.4,119.8 292.5,120.6 292.6,110.9 292.7,114.7 292.8,118.1 292.9,109.9 293.0,113.8 293.1,108.1 293.2,122.3 293.3,117.2 293.4,120.4 293.5,126.2 293.6,125.0 293.7,128.0 293.8,125.7 293.8,112.7 293.9,114.4 294.0,119.7 294.1,128.8 294.2,130.6 294.3,116.4 294.4,113.9 294.5,123.0 294.6,127.7 294.7,110.4 294.8,112.5 294.9,105.3 295.0,114.5 295.1,121.8 295.2,116.7 295.3,103.6 295.4,116.1 295.4,103.6 295.5,114.8 295.6,110.7 295.7,110.7 295.8,109.1 295.9,100.2 296.0,119.2 296.1,107.0 296.2,113.1 296.3,114.3 296.4,110.2 296.5,111.2 296.6,120.9 296.7,115.0 296.8,113.5 296.9,114.9 297.0,114.4 297.0,109.1 297.1,112.9 297.2,107.1 297.3,100.7 297.4,104.5 297.5,99.0 297.6,102.8 297.7,106.1 297.8,101.3 297.9,94.0 298.0,103.2 298.1,90.7 298.2,94.0 298.3,96.1 298.4,98.8 298.5,98.0 298.5,94.2 298.6,88.3 298.7,91.8 298.8,99.5 298.9,86.2 299.0,98.4 299.1,90.6 299.2,94.7 299.3,97.3 299.4,82.6 299.5,81.0 299.6,81.4 299.7,90.0 299.8,85.3 299.9,88.2 300.0,82.1 300.1,85.3 300.1,99.3 300.2,78.7 300.3,78.8 300.4,88.2 300.5,76.7 300.6,80.8 300.7,82.2 300.8,87.5 300.9,73.4 301.0,85.4 301.1,78.0 301.2,79.6 301.3,73.3 301.4,80.0 301.5,74.7 301.6,67.5 301.7,73.7 301.7,69.7 301.8,81.1 301.9,60.2 302.0,64.7 302.1,60.3 302.2,65.6 302.3,67.5 302.4,61.6 302.5,62.1 302.6,68.2 302.7,63.6 302.8,63.9 302.9,66.9 303.0,64.7 303.1,68.5 303.2,67.0 303.3,69.7 303.3,52.7 303.4,61.6 303.5,51.1 303.6,52.5 303.7,59.0 303.8,58.3 303.9,68.3 304.0,53.8 304.1,55.0 304.2,67.8 304.3,62.5 304.4,61.3 304.5,50.8 304.6,67.4 304.7,55.8 304.8,66.1 304.9,57.0 304.9,62.3 305.0,60.7 305.1,68.8 305.2,72.8 305.3,63.2 305.4,67.3 305.5,71.2 305.6,57.0 305.7,63.8 305.8,54.7 305.9,70.7 306.0,68.5 306.1,70.9 306.2,75.2 306.3,70.8 306.4,71.4 306.5,73.1 306.5,63.3 306.6,76.1 306.7,70.6 306.8,62.4 306.9,72.0 307.0,75.9 307.1,74.2 307.2,81.1 307.3,76.6 307.4,70.7 307.5,79.1 307.6,87.1 307.7,88.9 307.8,78.7 307.9,74.3 308.0,93.6 308.0,91.6 308.1,89.2 308.2,91.6 308.3,77.3 308.4,74.7 308.5,87.9 308.6,80.2 308.7,86.7 308.8,96.0 308.9,101.4 309.0,93.1 309.1,94.7 309.2,95.9 309.3,98.4 309.4,90.4 309.5,105.1 309.6,107.1 309.6,114.5 309.7,98.0 309.8,103.5 309.9,104.0 310.0,120.7 310.1,124.8 310.2,102.5 310.3,110.3 310.4,120.7 310.5,108.7 310.6,125.6 310.7,123.5 310.8,119.4 310.9,122.9 311.0,130.1 311.1,119.4 311.2,116.3 311.2,110.3 311.3,116.0 311.4,129.1 311.5,113.9 311.6,118.6 311.7,117.7 311.8,122.6 311.9,123.4 312.0,118.6 312.1,127.4 312.2,132.1 312.3,124.5 312.4,132.4 312.5,128.1 312.6,120.7 312.7,132.9 312.8,134.2 312.8,128.2 312.9,130.3 313.0,133.7 313.1,121.6 313.2,123.2 313.3,121.1 313.4,114.2 313.5,119.1 313.6,122.5 313.7,133.5 313.8,124.5 313.9,110.2 314.0,121.0 314.1,112.7 314.2,126.1 314.3,132.1 314.4,115.4 314.4,132.3 314.5,125.0 314.6,113.1 314.7,133.3 314.8,115.2 314.9,123.3 315.0,133.5 315.1,123.2 315.2,127.7 315.3,117.3 315.4,119.6 315.5,128.0 315.6,122.8 315.7,123.5 315.8,121.5 315.9,124.0 315.9,122.5 316.0,120.5 316.1,128.1 316.2,132.6 316.3,121.8 316.4,115.7 316.5,131.4 316.6,115.1 316.7,124.9 316.8,121.5 316.9,131.6 317.0,136.0 317.1,133.5 317.2,131.6 317.3,120.5 317.4,127.4 317.5,127.7 317.5,126.2 317.6,134.9 317.7,117.8 317.8,126.1 317.9,115.8 318.0,130.7 318.1,122.2 318.2,130.8 318.3,122.6 318.4,127.0 318.5,123.0 318.6,130.6 318.7,136.3 318.8,128.7 318.9,122.8 319.0,129.8 319.1,134.9 319.1,125.7 319.2,123.3 319.3,126.8 319.4,128.5 319.5,132.5 319.6,125.6 319.7,134.3 319.8,123.0 319.9,130.0 320.0,124.5 320.1,125.9 320.2,121.4 320.3,115.9 320.4,136.6 320.5,134.4 320.6,129.4 320.7,120.2 320.7,125.8 320.8,111.5 320.9,125.7 321.0,127.5 321.1,120.9 321.2,131.1 321.3,125.3 321.4,133.4 321.5,135.6 321.6,123.4 321.7,130.6 321.8,127.0 321.9,121.5 322.0,125.9 322.1,136.4 322.2,130.1 322.3,118.4 322.3,123.7 322.4,120.7 322.5,120.9 322.6,119.9 322.7,116.2 322.8,127.7 322.9,136.0 323.0,116.0 323.1,135.2 323.2,117.5 323.3,133.8 323.4,120.3 323.5,115.5 323.6,125.9 323.7,117.8 323.8,123.8 323.9,122.5 323.9,113.3 324.0,119.4 324.1,113.3 324.2,106.7 324.3,112.1 324.4,115.4 324.5,99.8 324.6,114.2 324.7,99.6 324.8,105.4 324.9,105.5 325.0,104.7 325.1,98.0 325.2,104.8 325.3,94.5 325.4,92.5 325.4,84.7 325.5,100.1 325.6,85.2 325.7,77.7 325.8,92.3 325.9,84.6 326.0,87.2 326.1,80.5 326.2,84.2 326.3,86.0 326.4,74.5 326.5,85.3 326.6,64.4 326.7,59.0 326.8,79.9 326.9,73.8 327.0,73.7 327.0,53.8 327.1,76.6 327.2,64.0 327.3,63.3 327.4,76.4 327.5,63.8 327.6,65.3 327.7,74.3 327.8,52.3 327.9,65.5 328.0,72.2 328.1,74.1 328.2,60.5 328.3,61.8 328.4,71.3 328.5,66.2 328.6,66.6 328.6,51.0 328.7,64.7 328.8,55.7 328.9,54.0 329.0,64.1 329.1,53.7 329.2,56.7 329.3,57.1 329.4,59.0 329.5,61.8 329.6,59.5 329.7,54.2 329.8,57.0 329.9,57.1 330.0,62.8 330.1,55.4 330.2,68.1 330.2,57.4 330.3,59.5 330.4,73.4 330.5,61.9 330.6,69.8 330.7,68.3 330.8,64.6 330.9,64.0 331.0,57.7 331.1,62.6 331.2,78.1 331.3,72.9 331.4,68.0 331.5,69.0 331.6,70.1 331.7,65.1 331.8,56.9 331.8,57.1 331.9,58.5 332.0,68.8 332.1,76.6 332.2,59.4 332.3,57.0 332.4,71.9 332.5,58.7 332.6,67.0 332.7,74.6 332.8,75.1 332.9,72.2 333.0,68.2 333.1,72.0 333.2,63.8 333.3,74.8 333.3,66.9 333.4,64.1 333.5,58.5 333.6,71.2 333.7,66.2 333.8,72.9 333.9,62.3 334.0,60.7 334.1,73.9 334.2,62.3 334.3,73.4 334.4,79.2 334.5,71.2 334.6,72.0 334.7,74.1 334.8,66.9 334.9,57.9 334.9,67.4 335.0,81.6 335.1,81.5 335.2,73.8 335.3,81.9 335.4,83.1 335.5,66.7 335.6,63.9 335.7,67.0 335.8,74.1 335.9,74.2 336.0,67.4 336.1,61.6 336.2,69.4 336.3,60.2 336.4,67.3 336.5,86.3 336.5,74.8 336.6,77.1 336.7,76.2 336.8,70.0 336.9,73.6 337.0,78.9 337.1,71.4 337.2,76.9 337.3,74.2 337.4,76.9 337.5,68.8 337.6,75.2 337.7,76.1 337.8,62.5 337.9,78.4 338.0,74.5 338.1,73.6 338.1,78.8 338.2,74.1 338.3,78.5 338.4,71.1 338.5,73.3 338.6,73.6 338.7,72.6 338.8,68.1 338.9,82.1 339.0,80.5 339.1,70.3 339.2,56.8 339.3,82.2 339.4,65.2 339.5,75.1 339.6,63.7 339.7,67.7 339.7,71.5 339.8,64.0 339.9,61.1 340.0,76.4 340.1,64.4 340.2,68.2 340.3,68.8 340.4,68.1 340.5,67.4 340.6,60.7 340.7,67.7 340.8,60.5 340.9,72.4 341.0,82.8 341.1,70.9 341.2,70.8 341.3,59.8 341.3,66.3 341.4,74.7 341.5,68.0 341.6,67.6 341.7,77.7 341.8,58.3 341.9,61.5 342.0,65.5 342.1,57.3 342.2,63.0 342.3,76.7 342.4,61.3 342.5,74.8 342.6,73.5 342.7,73.9 342.8,66.9 342.8,72.7 342.9,75.2 343.0,58.0 343.1,66.4 343.2,59.5 343.3,62.4 343.4,65.3 343.5,73.3 343.6,66.4 343.7,71.1 343.8,68.7 343.9,69.6 344.0,76.4 344.1,68.7 344.2,71.9 344.3,64.6 344.4,67.6 344.4,58.7 344.5,71.4 344.6,64.0 344.7,60.5 344.8,68.8 344.9,77.6 345.0,67.8 345.1,75.3 345.2,77.7 345.3,67.7 345.4,82.8 345.5,67.3 345.6,66.5 345.7,81.0 345.8,61.6 345.9,76.3 346.0,81.5 346.0,75.6 346.1,71.2 346.2,64.8 346.3,62.8 346.4,72.2 346.5,74.9 346.6,64.3 346.7,78.3 346.8,72.8 346.9,75.7 347.0,83.6 347.1,69.3 347.2,69.9 347.3,74.3 347.4,75.2 347.5,72.1 347.6,74.7 347.6,74.4 347.7,75.8 347.8,61.7 347.9,80.8 348.0,70.2 348.1,76.0 348.2,71.8 348.3,78.8 348.4,70.6 348.5,80.1 348.6,74.9 348.7,72.1 348.8,71.7 348.9,74.4 349.0,63.1 349.1,76.3 349.2,66.7 349.2,67.4 349.3,72.0 349.4,69.7 349.5,67.3 349.6,71.4 349.7,62.3 349.8,64.1 349.9,66.7 350.0,71.2 350.1,72.2 350.2,69.7 350.3,59.1 350.4,66.0 350.5,61.9 350.6,69.5 350.7,59.5 350.7,57.7 350.8,59.3 350.9,61.2 351.0,73.8 351.1,62.6 351.2,73.9 351.3,64.9 351.4,57.0 351.5,65.7 351.6,72.1 351.7,82.9 351.8,61.6 351.9,76.2 352.0,68.0 352.1,64.1 352.2,54.8 352.3,65.8 352.3,59.9 352.4,75.2 352.5,65.5 352.6,61.2 352.7,80.4 352.8,56.5 352.9,75.0 353.0,63.4 353.1,76.0 353.2,67.0 353.3,76.8 353.4,71.1 353.5,68.9 353.6,67.6 353.7,78.6 353.8,67.7 353.9,69.3 353.9,77.7 354.0,67.5 354.1,72.9 354.2,72.1 354.3,66.5 354.4,72.3 354.5,68.1 354.6,66.2 354.7,70.5 354.8,70.7 354.9,74.6 355.0,70.7 355.1,72.6 355.2,62.1 355.3,56.8 355.4,69.6 355.5,70.4 355.5,63.9 355.6,67.4 355.7,85.2 355.8,69.6 355.9,62.8 356.0,65.9 356.1,71.0 356.2,68.3 356.3,66.3 356.4,75.6 356.5,71.1 356.6,73.0 356.7,73.0 356.8,82.1 356.9,66.3 357.0,70.9 357.1,60.0 357.1,76.9 357.2,58.1 357.3,65.7 357.4,69.9 357.5,72.6 357.6,68.6 357.7,79.4 357.8,77.5 357.9,65.6 358.0,81.9 358.1,71.2 358.2,66.3 358.3,70.4 358.4,70.7 358.5,67.9 358.6,66.1 358.7,81.0 358.7,67.6 358.8,74.8 358.9,60.3 359.0,65.7 359.1,62.5 359.2,73.1 359.3,69.4 359.4,63.5 359.5,69.5 359.6,70.7 359.7,71.9 359.8,74.2 359.9,57.9 360.0,82.2 360.1,76.4 360.2,77.5 360.2,69.7 360.3,70.9 360.4,72.5 360.5,69.7 360.6,72.5 360.7,68.7 360.8,81.7 360.9,80.6 361.0,72.5 361.1,79.9 361.2,78.4 361.3,83.2 361.4,77.6 361.5,73.2 361.6,69.8 361.7,84.6 361.8,65.7 361.8,71.0 361.9,79.8 362.0,74.4 362.1,69.7 362.2,81.4 362.3,66.5 362.4,75.0 362.5,80.1 362.6,60.6 362.7,75.7 362.8,74.1 362.9,73.0 363.0,69.6 363.1,74.1 363.2,71.6 363.3,70.3 363.4,66.7 363.4,85.3 363.5,78.2 363.6,75.6 363.7,78.8 363.8,76.2 363.9,69.7 364.0,65.2 364.1,71.4 364.2,61.6 364.3,69.4 364.4,66.5 364.5,74.4 364.6,65.1 364.7,77.5 364.8,66.1 364.9,73.0 365.0,80.9 365.0,71.2 365.1,74.2 365.2,68.2 365.3,69.8 365.4,73.7 365.5,71.0 365.6,66.3 365.7,80.1 365.8,77.1 365.9,66.1 366.0,73.4 366.1,76.6 366.2,67.0 366.3,82.5 366.4,72.5 366.5,65.8 366.6,75.2 366.6,80.9 366.7,74.3 366.8,77.5 366.9,69.5 367.0,85.2 367.1,81.1 367.2,79.1 367.3,80.8 367.4,77.5 367.5,79.8 367.6,76.8 367.7,91.2 367.8,89.1 367.9,81.4 368.0,89.4 368.1,80.5 368.1,82.8 368.2,85.9 368.3,96.1 368.4,87.7 368.5,84.6 368.6,96.5 368.7,93.6 368.8,101.0 368.9,105.3 369.0,109.6 369.1,107.5 369.2,101.8 369.3,117.2 369.4,116.6 369.5,117.0 369.6,114.3 369.7,122.0 369.7,128.4 369.8,130.6 369.9,115.2 370.0,119.3 370.1,114.0 370.2,114.5 370.3,116.8 370.4,117.5 370.5,117.1 370.6,120.9 370.7,117.6 370.8,134.0 370.9,113.4 371.0,112.7 371.1,129.8 371.2,124.3 371.3,121.0 371.3,125.4 371.4,126.6 371.5,131.9 371.6,115.9 371.7,111.7 371.8,115.4 371.9,124.8 372.0,119.8 372.1,121.5 372.2,128.4 372.3,126.3 372.4,129.1 372.5,133.6 372.6,125.0 372.7,120.0 372.8,110.7 372.9,127.0 372.9,124.7 373.0,126.2 373.1,129.6 373.2,128.4 373.3,131.4 373.4,113.5 373.5,137.1 373.6,136.0 373.7,123.4 373.8,128.0 373.9,128.4 374.0,122.4 374.1,124.5 374.2,125.1 374.3,116.6 374.4,122.0 374.5,125.4 374.5,131.6 374.6,128.5 374.7,132.8 374.8,124.2 374.9,128.0 375.0,134.3 375.1,131.6 375.2,131.0 375.3,122.3 375.4,132.2 375.5,119.9 375.6,115.6 375.7,127.1 375.8,115.6 375.9,124.1 376.0,129.6 376.1,115.2 376.1,118.2 376.2,125.2 376.3,123.9 376.4,126.1 376.5,131.1 376.6,126.6 376.7,131.9 376.8,132.0 376.9,132.1 377.0,130.1 377.1,121.5 377.2,118.9 377.3,128.9 377.4,135.0 377.5,128.7 377.6,136.4 377.6,132.6 377.7,123.4 377.8,130.1 377.9,126.1 378.0,116.1 378.1,119.3 378.2,126.3 378.3,131.7 378.4,133.3 378.5,120.6 378.6,117.1 378.7,120.7 378.8,117.7 378.9,118.4 379.0,138.1 379.1,128.0 379.2,127.2 379.2,124.4 379.3,128.2 379.4,127.1 379.5,111.5 379.6,132.6 379.7,122.7 379.8,136.4 379.9,132.4 380.0,134.5 380.1,123.2 380.2,117.9 380.3,131.5 380.4,131.5 380.5,130.6 380.6,134.0 380.7,128.4 380.8,118.8 380.8,129.1 380.9,132.2 381.0,126.4 381.1,137.1 381.2,113.7 381.3,138.0 381.4,123.9 381.5,120.9 381.6,128.8 381.7,128.8 381.8,131.9 381.9,119.8 382.0,119.6 382.1,128.6 382.2,121.0 382.3,125.9 382.4,132.0 382.4,119.5 382.5,114.9 382.6,128.4 382.7,131.0 382.8,124.1 382.9,122.0 383.0,132.1 383.1,111.0 383.2,124.6 383.3,113.5 383.4,122.0 383.5,115.2 383.6,116.0 383.7,124.4 383.8,121.1 383.9,130.4 384.0,114.3 384.0,122.5 384.1,120.0 384.2,119.7 384.3,118.5 384.4,115.7 384.5,123.7 384.6,112.7 384.7,121.4 384.8,115.9 384.9,132.5 385.0,131.7 385.1,117.5 385.2,115.7 385.3,123.8 385.4,127.5 385.5,116.4 385.5,119.7 385.6,132.4 385.7,132.3 385.8,120.4 385.9,132.1 386.0,120.9 386.1,119.0 386.2,126.9 386.3,124.9 386.4,112.7 386.5,126.1 386.6,131.9 386.7,122.1 386.8,118.9 386.9,118.3 387.0,117.9 387.1,136.5 387.1,138.7 387.2,120.3 387.3,118.2 387.4,121.0 387.5,124.6 387.6,131.0 387.7,127.5 387.8,130.4 387.9,127.3 388.0,126.7 388.1,130.7 388.2,124.2 388.3,131.8 388.4,117.3 388.5,125.4 388.6,121.5 388.7,116.1 388.7,127.6 388.8,116.4 388.9,117.3 389.0,116.2 389.1,129.3 389.2,116.1 389.3,126.8 389.4,116.6 389.5,135.7 389.6,135.6 389.7,115.3 389.8,130.6 389.9,130.1 390.0,135.1 390.1,122.0 390.2,131.8 390.3,121.6 390.3,115.2 390.4,131.2 390.5,118.3 390.6,120.4 390.7,122.7 390.8,117.8 390.9,128.3 391.0,130.6 391.1,117.6 391.2,118.5 391.3,120.8 391.4,119.2 391.5,126.7 391.6,115.9 391.7,123.0 391.8,122.1 391.9,117.0 391.9,118.9 392.0,131.9 392.1,120.5 392.2,118.5 392.3,121.8 392.4,122.8 392.5,134.1 392.6,121.1 392.7,115.5 392.8,132.4 392.9,116.0 393.0,133.2 393.1,126.9 393.2,118.7 393.3,117.6 393.4,121.7 393.5,120.9 393.5,130.9 393.6,115.0 393.7,116.9 393.8,130.8 393.9,129.9 394.0,123.7 394.1,117.4 394.2,113.4 394.3,125.7 394.4,124.1 394.5,115.7 394.6,122.8 394.7,114.5 394.8,131.5 394.9,125.1 395.0,129.1 395.0,116.7 395.1,127.0 395.2,117.0 395.3,126.4 395.4,125.2 395.5,122.6 395.6,121.3 395.7,133.3 395.8,129.7 395.9,134.6 396.0,116.9 396.1,116.8 396.2,131.9 396.3,121.5 396.4,121.8 396.5,125.8 396.6,114.4 396.6,127.9 396.7,124.5 396.8,114.0 396.9,120.2 397.0,125.7 397.1,113.5 397.2,124.8 397.3,122.4 397.4,102.9 397.5,114.6 397.6,121.9 397.7,98.9 397.8,104.1 397.9,103.9 398.0,105.3 398.1,104.9 398.2,108.4 398.2,115.1 398.3,96.8 398.4,114.6 398.5,110.0 398.6,113.4 398.7,118.7 398.8,119.1 398.9,104.7 399.0,111.0 399.1,101.1 399.2,114.4 399.3,101.7 399.4,104.0 399.5,88.0 399.6,109.5 399.7,88.5 399.8,100.2 399.8,85.9 399.9,89.0 400.0,93.4 400.1,89.3 400.2,86.6 400.3,85.9 400.4,94.0 400.5,75.9 400.6,84.0 400.7,78.5 400.8,83.3 400.9,72.6 401.0,76.1 401.1,82.4 401.2,86.1 401.3,76.1 401.4,72.1 401.4,67.6 401.5,74.9 401.6,70.8 401.7,56.7 401.8,63.5 401.9,66.2 402.0,69.6 402.1,69.4 402.2,57.3 402.3,64.6 402.4,60.1 402.5,67.5 402.6,70.2 402.7,60.3 402.8,60.7 402.9,57.0 402.9,61.9 403.0,58.1 403.1,64.0 403.2,58.3 403.3,55.2 403.4,70.2 403.5,72.6 403.6,59.3 403.7,67.6 403.8,70.4 403.9,59.7 404.0,56.5 404.1,55.3 404.2,47.3 404.3,66.3 404.4,64.5 404.5,48.6 404.5,52.7 404.6,51.0 404.7,65.3 404.8,58.9 404.9,66.3 405.0,75.1 405.1,60.3 405.2,76.0 405.3,61.9 405.4,61.4 405.5,58.0 405.6,65.3 405.7,72.3 405.8,65.1 405.9,57.1 406.0,71.1 406.1,74.8 406.1,56.5 406.2,63.2 406.3,67.3 406.4,69.2 406.5,72.8 406.6,59.3 406.7,56.3 406.8,66.5 406.9,61.5" fill="none" stroke="#1f77b4" stroke-width="1.5" stroke-linejoin="round" stroke-linecap="butt"/>
<polyline clip-path="url(#ca1)" points="68.4,97.7 68.8,96.0 69.2,90.0 69.5,89.2 69.9,89.6 70.3,87.3 70.7,88.9 71.0,84.0 71.4,81.1 71.8,81.2 72.2,79.2 72.5,77.6 72.9,73.8 73.3,74.8 73.7,76.5 74.0,78.7 74.4,78.6 74.8,80.7 75.2,80.1 75.6,78.7 75.9,79.1 76.3,80.4 76.7,77.8 77.1,78.0 77.4,77.1 77.8,75.2 78.2,77.4 78.6,78.4 78.9,73.4 79.3,73.9 79.7,75.8 80.1,76.0 80.4,76.8 80.8,78.4 81.2,78.3 81.6,77.5 82.0,77.0 82.3,75.6 82.7,78.1 83.1,79.3 83.5,76.2 83.8,75.8 84.2,72.7 84.6,71.7 85.0,73.7 85.3,71.9 85.7,75.6 86.1,76.7 86.5,76.5 86.8,75.4 87.2,78.0 87.6,78.5 88.0,79.8 88.4,80.2 88.7,105.6 89.1,130.6 89.5,138.8 89.9,134.9 90.2,133.2 90.6,128.6 91.0,124.1 91.4,124.2 91.7,124.8 92.1,125.3 92.5,124.8 92.9,122.6 93.3,120.4 93.6,121.9 94.0,124.0 94.4,125.5 94.8,123.7 95.1,123.7 95.5,123.6 95.9,123.2 96.3,123.2 96.6,124.0 97.0,126.0 97.4,126.9 97.8,126.2 98.1,125.3 98.5,125.9 98.9,126.4 99.3,123.9 99.7,125.6 100.0,126.3 100.4,128.0 100.8,130.5 101.2,133.6 101.5,134.7 101.9,136.2 102.3,134.6 102.7,135.8 103.0,135.4 103.4,133.3 103.8,132.9 104.2,131.5 104.5,129.8 104.9,132.6 105.3,132.7 105.7,133.6 106.1,130.5 106.4,130.5 106.8,129.5 107.2,126.7 107.6,127.9 107.9,128.1 108.3,127.7 108.7,128.4 109.1,126.4 109.4,125.6 109.8,124.7 110.2,125.5 110.6,126.7 110.9,127.3 111.3,127.3 111.7,129.3 112.1,127.3 112.5,124.9 112.8,124.2 113.2,124.3 113.6,123.5 114.0,123.3 114.3,123.1 114.7,120.5 115.1,123.1 115.5,123.1 115.8,122.6 116.2,123.3 116.6,125.2 117.0,128.6 117.3,130.9 117.7,128.5 118.1,124.1 118.5,123.8 118.9,121.2 119.2,118.8 119.6,116.6 120.0,115.8 120.4,114.7 120.7,112.9 121.1,114.6 121.5,101.2 121.9,89.4 122.2,77.1 122.6,65.0 123.0,67.9 123.4,67.2 123.7,66.2 124.1,68.1 124.5,69.6 124.9,71.5 125.3,74.3 125.6,76.4 126.0,78.3 126.4,81.8 126.8,82.0 127.1,79.8 127.5,75.3 127.9,73.3 128.3,68.1 128.6,66.3 129.0,63.3 129.4,65.7 129.8,66.6 130.2,65.4 130.5,64.3 130.9,64.6 131.3,61.1 131.7,61.7 132.0,61.7 132.4,63.0 132.8,60.4 133.2,59.6 133.5,59.7 133.9,63.1 134.3,62.3 134.7,63.0 135.0,62.0 135.4,60.4 135.8,61.9 136.2,61.4 136.6,59.8 136.9,59.8 137.3,60.5 137.7,62.2 138.1,62.7 138.4,64.1 138.8,61.3 139.2,60.7 139.6,62.3 139.9,61.4 140.3,62.9 140.7,67.1 141.1,62.9 141.4,59.8 141.8,61.7 142.2,61.9 142.6,60.6 143.0,60.4 143.3,61.1 143.7,61.0 144.1,60.4 144.5,60.5 144.8,59.2 145.2,59.0 145.6,59.6 146.0,58.8 146.3,60.9 146.7,57.3 147.1,59.8 147.5,59.0 147.8,58.0 148.2,57.1 148.6,56.7 149.0,54.8 149.4,57.3 149.7,57.5 150.1,57.4 150.5,58.3 150.9,59.3 151.2,56.9 151.6,58.5 152.0,59.3 152.4,59.6 152.7,59.8 153.1,59.3 153.5,59.3 153.9,58.5 154.2,58.1 154.6,57.3 155.0,55.3 155.4,57.3 155.8,54.8 156.1,56.2 156.5,55.5 156.9,55.8 157.3,56.7 157.6,60.1 158.0,56.8 158.4,58.1 158.8,59.2 159.1,57.0 159.5,56.9 159.9,53.8 160.3,51.9 160.6,52.0 161.0,52.8 161.4,52.5 161.8,55.7 162.2,55.6 162.5,55.6 162.9,56.6 163.3,56.1 163.7,58.5 164.0,56.5 164.4,54.4 164.8,57.0 165.2,56.7 165.5,54.3 165.9,54.3 166.3,56.6 166.7,58.3 167.1,56.6 167.4,53.8 167.8,56.4 168.2,56.6 168.6,58.1 168.9,58.4 169.3,57.7 169.7,57.8 170.1,58.8 170.4,55.1 170.8,56.0 171.2,56.6 171.6,55.1 171.9,55.7 172.3,56.4 172.7,55.2 173.1,57.4 173.5,56.2 173.8,54.9 174.2,54.5 174.6,55.5 175.0,56.0 175.3,59.2 175.7,59.0 176.1,58.2 176.5,56.8 176.8,56.8 177.2,57.8 177.6,59.2 178.0,59.0 178.3,58.6 178.7,56.6 179.1,57.0 179.5,58.2 179.9,58.5 180.2,59.3 180.6,59.5 181.0,62.9 181.4,64.5 181.7,65.1 182.1,62.9 182.5,62.2 182.9,61.3 183.2,59.1 183.6,61.0 184.0,59.0 184.4,58.7 184.7,60.3 185.1,58.0 185.5,61.0 185.9,62.7 186.3,62.7 186.6,61.6 187.0,61.8 187.4,65.0 187.8,64.4 188.1,63.7 188.5,58.9 188.9,57.2 189.3,57.9 189.6,60.4 190.0,60.0 190.4,62.1 190.8,61.4 191.1,60.7 191.5,61.4 191.9,60.9 192.3,61.4 192.7,62.1 193.0,59.3 193.4,58.7 193.8,59.6 194.2,61.0 194.5,60.5 194.9,59.5 195.3,58.3 195.7,56.4 196.0,56.5 196.4,59.2 196.8,56.1 197.2,55.1 197.5,54.9 197.9,54.0 198.3,57.7 198.7,58.5 199.1,59.4 199.4,57.2 199.8,59.3 200.2,59.5 200.6,56.6 200.9,55.8 201.3,56.8 201.7,53.8 202.1,56.7 202.4,55.9 202.8,56.4 203.2,55.5 203.6,56.0 204.0,57.4 204.3,56.9 204.7,59.0 205.1,57.6 205.5,58.0 205.8,56.3 206.2,57.2 206.6,58.3 207.0,57.4 207.3,55.4 207.7,59.2 208.1,58.6 208.5,57.4 208.8,59.7 209.2,60.6 209.6,58.9 210.0,60.1 210.4,60.7 210.7,57.4 211.1,59.2 211.5,60.5 211.9,63.8 212.2,64.4 212.6,65.1 213.0,60.9 213.4,58.6 213.7,60.9 214.1,57.5 214.5,56.9 214.9,58.0 215.2,57.1 215.6,56.9 216.0,58.6 216.4,61.3 216.8,62.0 217.1,61.0 217.5,60.7 217.9,61.1 218.3,58.6 218.6,59.9 219.0,57.7 219.4,58.2 219.8,57.6 220.1,59.0 220.5,58.2 220.9,59.0 221.3,61.2 221.6,60.2 222.0,59.4 222.4,57.5 222.8,57.0 223.2,58.6 223.5,59.3 223.9,62.7 224.3,63.2 224.7,59.7 225.0,56.7 225.4,55.7 225.8,55.7 226.2,55.3 226.5,55.2 226.9,58.8 227.3,60.2 227.7,58.0 228.0,56.5 228.4,56.8 228.8,58.0 229.2,59.1 229.6,60.3 229.9,61.8 230.3,64.5 230.7,63.4 231.1,63.5 231.4,63.3 231.8,60.1 232.2,59.8 232.6,62.0 232.9,61.9 233.3,65.2 233.7,63.9 234.1,64.3 234.4,65.5 234.8,65.4 235.2,64.1 235.6,66.4 236.0,69.1 236.3,63.9 236.7,62.9 237.1,59.4 237.5,59.8 237.8,58.8 238.2,60.4 238.6,59.5 239.0,60.3 239.3,61.5 239.7,58.9 240.1,58.9 240.5,62.6 240.9,62.6 241.2,63.6 241.6,64.9 242.0,64.9 242.4,64.6 242.7,63.7 243.1,64.3 243.5,66.5 243.9,66.2 244.2,63.8 244.6,65.7 245.0,63.9 245.4,62.9 245.7,63.7 246.1,63.1 246.5,64.4 246.9,64.9 247.3,66.3 247.6,65.0 248.0,62.7 248.4,64.2 248.8,62.5 249.1,66.5 249.5,67.4 249.9,68.4 250.3,64.7 250.6,65.7 251.0,64.3 251.4,67.7 251.8,66.9 252.1,65.5 252.5,65.5 252.9,69.9 253.3,68.5 253.7,66.4 254.0,64.1 254.4,63.8 254.8,67.0 255.2,67.1 255.5,65.5 255.9,67.0 256.3,66.0 256.7,66.9 257.0,66.8 257.4,65.6 257.8,67.1 258.2,62.5 258.5,63.5 258.9,64.0 259.3,66.1 259.7,66.5 260.1,67.3 260.4,69.9 260.8,71.8 261.2,71.3 261.6,69.8 261.9,74.3 262.3,76.6 262.7,76.5 263.1,72.7 263.4,69.4 263.8,75.6 264.2,71.4 264.6,70.6 264.9,72.3 265.3,86.3 265.7,94.2 266.1,89.7 266.5,74.6 266.8,73.6 267.2,76.9 267.6,67.2 268.0,81.2 268.3,81.9 268.7,80.2 269.1,69.4 269.5,77.7 269.8,68.1 270.2,84.5 270.6,58.3 271.0,60.4 271.3,67.3 271.7,79.2 272.1,83.4 272.5,92.8 272.9,92.6 273.2,107.2 273.6,121.7 274.0,118.9 274.4,121.5 274.7,136.3 275.1,132.4 275.5,126.8 275.9,119.4 276.2,125.9 276.6,117.6 277.0,131.0 277.4,119.3 277.8,134.3 278.1,137.3 278.5,123.9 278.9,125.7 279.3,126.1 279.6,108.7 280.0,123.1 280.4,126.4 280.8,137.0 281.1,127.4 281.5,124.1 281.9,115.0 282.3,129.7 282.6,123.2 283.0,121.5 283.4,126.5 283.8,132.1 284.2,127.9 284.5,120.1 284.9,127.5 285.3,114.6 285.7,111.6 286.0,98.5 286.4,93.0 286.8,82.8 287.2,69.9 287.5,83.3 287.9,100.4 288.3,125.5 288.7,99.2 289.0,77.6 289.4,65.0 289.8,80.9 290.2,110.1 290.6,126.4 290.9,129.1 291.3,134.1 291.7,129.9 292.1,125.1 292.4,131.3 292.8,125.0 293.2,124.0 293.6,126.1 293.9,118.9 294.3,114.4 294.7,102.3 295.1,109.5 295.4,111.5 295.8,104.5 296.2,119.6 296.6,106.6 297.0,99.9 297.3,98.3 297.7,97.2 298.1,52.6 298.5,101.4 298.8,92.4 299.2,93.7 299.6,87.5 300.0,85.6 300.3,78.0 300.7,86.8 301.1,69.6 301.5,75.9 301.8,78.9 302.2,74.0 302.6,71.8 303.0,76.4 303.4,93.0 303.7,109.2 304.1,87.4 304.5,72.2 304.9,68.6 305.2,69.7 305.6,80.7 306.0,75.8 306.4,88.1 306.7,82.1 307.1,105.1 307.5,77.7 307.9,89.8 308.2,81.0 308.6,88.7 309.0,91.6 309.4,97.7 309.8,103.7 310.1,107.6 310.5,121.9 310.9,128.9 311.3,129.7 311.6,127.0 312.0,125.0 312.4,128.2 312.8,122.2 313.1,124.3 313.5,115.2 313.9,118.3 314.3,126.9 314.7,120.3 315.0,138.9 315.4,116.4 315.8,118.0 316.2,119.1 316.5,130.7 316.9,110.3 317.3,126.0 317.7,126.9 318.0,117.6 318.4,126.2 318.8,125.5 319.2,115.4 319.5,124.2 319.9,118.2 320.3,121.8 320.7,117.4 321.1,150.4 321.4,118.3 321.8,124.7 322.2,117.0 322.6,130.2 322.9,117.1 323.3,124.4 323.7,124.6 324.1,129.5 324.4,115.1 324.8,105.0 325.2,101.7 325.6,94.4 325.9,86.1 326.3,65.8 326.7,67.4 327.1,61.8 327.5,59.5 327.8,61.1 328.2,59.3 328.6,65.2 329.0,51.8 329.3,59.6 329.7,59.0 330.1,69.2 330.5,63.5 330.8,68.5 331.2,67.8 331.6,62.3 332.0,74.7 332.3,71.3 332.7,65.2 333.1,62.1 333.5,70.9 333.9,69.9 334.2,86.2 334.6,87.5 335.0,98.8 335.4,100.4 335.7,78.1 336.1,69.7 336.5,66.6 336.9,51.0 337.2,60.7 337.6,72.9 338.0,82.7 338.4,98.0 338.7,96.1 339.1,94.1 339.5,92.5 339.9,81.6 340.3,77.3 340.6,63.5 341.0,71.5 341.4,67.6 341.8,68.6 342.1,74.1 342.5,36.3 342.9,74.5 343.3,69.9 343.6,58.1 344.0,71.8 344.4,59.9 344.8,62.3 345.1,72.8 345.5,85.3 345.9,69.1 346.3,75.9 346.7,85.1 347.0,89.9 347.4,114.0 347.8,121.6 348.2,123.6 348.5,104.8 348.9,97.1 349.3,76.5 349.7,77.6 350.0,75.7 350.4,67.6 350.8,69.8 351.2,65.9 351.6,59.7 351.9,67.3 352.3,75.9 352.7,69.2 353.1,103.0 353.4,62.6 353.8,63.0 354.2,49.7 354.6,72.3 354.9,67.9 355.3,76.7 355.7,61.9 356.1,51.3 356.4,67.9 356.8,73.9 357.2,71.1 357.6,68.6 358.0,58.2 358.3,61.7 358.7,46.6 359.1,46.4 359.5,46.8 359.8,62.7 360.2,70.5 360.6,80.0 361.0,86.7 361.3,104.2 361.7,125.1 362.1,113.3 362.5,96.1 362.8,78.9 363.2,73.9 363.6,62.4 364.0,46.2 364.4,46.8 364.7,58.8 365.1,60.8 365.5,67.0 365.9,73.3 366.2,79.6 366.6,81.1 367.0,84.6 367.4,65.5 367.7,43.0 368.1,54.2 368.5,68.7 368.9,97.2 369.2,126.1 369.6,125.2 370.0,161.6 370.4,143.0 370.8,136.1 371.1,133.4 371.5,134.0 371.9,129.7 372.3,122.1 372.6,123.4 373.0,123.6 373.4,124.3 373.8,123.9 374.1,125.0 374.5,125.4 374.9,128.5 375.3,122.2 375.6,124.1 376.0,126.4 376.4,122.0 376.8,124.6 377.2,118.7 377.5,124.0 377.9,124.8 378.3,120.0 378.7,118.8 379.0,117.6 379.4,123.4 379.8,122.2 380.2,122.6 380.5,121.9 380.9,122.9 381.3,121.8 381.7,122.8 382.0,126.0 382.4,128.5 382.8,123.8 383.2,124.6 383.6,126.1 383.9,128.3 384.3,125.3 384.7,122.3 385.1,126.4 385.4,121.9 385.8,128.0 386.2,125.2 386.6,108.4 386.9,125.9 387.3,124.1 387.7,126.3 388.1,122.8 388.5,115.0 388.8,125.2 389.2,123.2 389.6,121.3 390.0,120.1 390.3,115.0 390.7,117.7 391.1,116.4 391.5,122.5 391.8,120.7 392.2,116.9 392.6,117.4 393.0,117.8 393.3,116.7 393.7,116.9 394.1,118.4 394.5,123.4 394.9,121.4 395.2,125.1 395.6,127.6 396.0,127.3 396.4,126.4 396.7,126.7 397.1,124.7 397.5,120.1 397.9,116.8 398.2,111.7 398.6,109.4 399.0,105.6 399.4,100.5 399.7,94.5 400.1,89.4 400.5,80.7 400.9,77.2 401.3,76.0 401.6,71.3 402.0,67.8 402.4,59.6 402.8,56.5 403.1,59.6 403.5,56.7 403.9,58.9 404.3,53.3 404.6,52.4 405.0,51.8 405.4,53.3 405.8,55.9 406.1,56.6 406.5,59.4 406.9,58.1" fill="none" stroke="#ff7f0e" stroke-width="1.5" stroke-linejoin="round" stroke-linecap="butt"/>
<path d="M68.40 161.90v4.30M124.82 161.90v4.30M181.23 161.90v4.30M237.65 161.90v4.30M294.07 161.90v4.30M350.48 161.90v4.30M406.90 161.90v4.30M51.50 42.06h-4.30M51.50 69.87h-4.30M51.50 97.68h-4.30M51.50 125.49h-4.30M51.50 153.30h-4.30" stroke="#000" stroke-width="1.15" fill="none"/>
<rect x="51.50" y="32.10" width="372.40" height="129.80" fill="none" stroke="#000" stroke-width="1.15"/>
<text x="68.40" y="178.60" font-size="12.35" text-anchor="middle" textLength="6.51" lengthAdjust="spacingAndGlyphs">0</text>
<text x="124.82" y="178.60" font-size="12.35" text-anchor="middle" textLength="13.02" lengthAdjust="spacingAndGlyphs">10</text>
<text x="181.23" y="178.60" font-size="12.35" text-anchor="middle" textLength="13.02" lengthAdjust="spacingAndGlyphs">20</text>
<text x="237.65" y="178.60" font-size="12.35" text-anchor="middle" textLength="13.02" lengthAdjust="spacingAndGlyphs">30</text>
<text x="294.07" y="178.60" font-size="12.35" text-anchor="middle" textLength="13.02" lengthAdjust="spacingAndGlyphs">40</text>
<text x="350.48" y="178.60" font-size="12.35" text-anchor="middle" textLength="13.02" lengthAdjust="spacingAndGlyphs">50</text>
<text x="406.90" y="178.60" font-size="12.35" text-anchor="middle" textLength="13.02" lengthAdjust="spacingAndGlyphs">60</text>
<text x="43.60" y="46.66" font-size="12.35" text-anchor="end" textLength="17.49" lengthAdjust="spacingAndGlyphs">5.0</text>
<text x="43.60" y="74.47" font-size="12.35" text-anchor="end" textLength="17.49" lengthAdjust="spacingAndGlyphs">2.5</text>
<text x="43.60" y="102.28" font-size="12.35" text-anchor="end" textLength="17.49" lengthAdjust="spacingAndGlyphs">0.0</text>
<text x="43.60" y="130.09" font-size="12.35" text-anchor="end" textLength="26.71" lengthAdjust="spacingAndGlyphs">−2.5</text>
<text x="43.60" y="157.90" font-size="12.35" text-anchor="end" textLength="26.71" lengthAdjust="spacingAndGlyphs">−5.0</text>
<rect x="299.40" y="133.00" width="118.90" height="22.70" rx="2.5" fill="#fff" fill-opacity="0.8" stroke="#cccccc" stroke-width="0.9"/>
<path d="M303.5 144.7H327" stroke="#1f77b4" stroke-width="1.5"/><path d="M369.3 144.7H391.8" stroke="#ff7f0e" stroke-width="1.5"/>
<text x="334.50" y="148.80" font-size="12.72" font-style="italic">x<tspan font-size="8.90" font-style="normal" dy="2.80">1</tspan></text>
<text x="400.00" y="148.80" font-size="12.72" font-style="italic">x<tspan font-size="8.90" font-style="normal" dy="2.80">1</tspan></text>
<path d="M401.36 139.76L404.00 137.60L406.64 139.76" stroke="#000" stroke-width="0.96" fill="none"/>
<text x="135.10" y="23.60" font-size="13.99" text-anchor="start" textLength="185.80" lengthAdjust="spacingAndGlyphs" class="t">Van der Pol States Evolution</text>
<text x="12.60" y="14.00" font-size="13.00" text-anchor="start" class="t">(a)</text>
<path d="M67.50 185.60V315.40M123.97 185.60V315.40M180.43 185.60V315.40M236.90 185.60V315.40M293.37 185.60V315.40M349.83 185.60V315.40M406.30 185.60V315.40M50.60 195.50H423.30M50.60 222.20H423.30M50.60 248.90H423.30M50.60 275.60H423.30M50.60 302.30H423.30" stroke="#b0b0b0" stroke-width="0.9" fill="none"/>
<polyline clip-path="url(#ca2)" points="67.5,251.6 68.0,249.5 68.5,252.9 69.0,249.4 69.4,250.5 69.9,251.6 70.4,251.8 70.9,252.1 71.4,251.0 71.9,249.2 72.3,248.9 72.8,248.6 73.3,251.4 73.8,252.0 74.3,248.1 74.8,247.6 75.3,245.8 75.7,246.4 76.2,249.4 76.7,247.3 77.2,247.4 77.7,247.8 78.2,249.2 78.6,248.5 79.1,248.7 79.6,247.8 80.1,248.7 80.6,247.3 81.1,250.2 81.6,249.7 82.0,248.8 82.5,249.8 83.0,250.0 83.5,246.8 84.0,246.0 84.5,246.1 84.9,245.1 85.4,245.8 85.9,244.4 86.4,244.7 86.9,243.5 87.4,242.3 87.9,243.6 88.3,242.5 88.8,244.6 89.3,244.2 89.8,245.5 90.3,244.3 90.8,243.8 91.2,244.1 91.7,244.4 92.2,242.5 92.7,241.9 93.2,245.2 93.7,243.2 94.2,246.3 94.6,246.1 95.1,245.4 95.6,244.9 96.1,245.7 96.6,245.0 97.1,243.3 97.6,243.3 98.0,242.7 98.5,240.4 99.0,238.3 99.5,237.9 100.0,236.7 100.5,235.5 100.9,234.7 101.4,233.7 101.9,235.0 102.4,233.5 102.9,234.3 103.4,234.9 103.9,235.0 104.3,234.9 104.8,233.8 105.3,235.8 105.8,236.7 106.3,236.4 106.8,237.8 107.2,235.9 107.7,236.3 108.2,237.2 108.7,239.0 109.2,238.9 109.7,239.0 110.2,240.2 110.6,242.0 111.1,244.8 111.6,242.8 112.1,244.4 112.6,245.9 113.1,244.7 113.5,245.5 114.0,248.4 114.5,248.1 115.0,248.7 115.5,247.8 116.0,251.2 116.5,250.5 116.9,250.1 117.4,248.2 117.9,250.9 118.4,254.3 118.9,253.5 119.4,251.3 119.8,250.1 120.3,248.7 120.8,250.2 121.3,252.3 121.8,250.9 122.3,251.8 122.8,252.5 123.2,252.6 123.7,251.2 124.2,253.9 124.7,255.4 125.2,255.2 125.7,255.6 126.1,257.1 126.6,258.1 127.1,257.2 127.6,256.0 128.1,256.7 128.6,257.3 129.1,257.1 129.5,261.5 130.0,262.2 130.5,261.4 131.0,261.9 131.5,261.9 132.0,260.6 132.4,262.0 132.9,261.5 133.4,263.4 133.9,262.7 134.4,259.6 134.9,261.2 135.4,260.7 135.8,260.3 136.3,262.0 136.8,261.4 137.3,261.9 137.8,261.7 138.3,263.5 138.7,265.4 139.2,265.6 139.7,265.4 140.2,264.1 140.7,264.9 141.2,265.9 141.7,266.4 142.1,265.4 142.6,267.7 143.1,266.2 143.6,269.8 144.1,269.7 144.6,267.4 145.1,266.8 145.5,268.0 146.0,267.1 146.5,267.3 147.0,265.4 147.5,265.1 148.0,266.6 148.4,265.5 148.9,266.1 149.4,265.8 149.9,265.4 150.4,266.1 150.9,264.9 151.4,264.4 151.8,264.3 152.3,263.3 152.8,264.8 153.3,266.8 153.8,266.1 154.3,265.0 154.7,264.9 155.2,264.2 155.7,263.7 156.2,264.7 156.7,265.0 157.2,266.2 157.7,264.0 158.1,265.0 158.6,266.5 159.1,267.1 159.6,266.4 160.1,263.8 160.6,264.1 161.0,267.4 161.5,266.5 162.0,265.8 162.5,265.2 163.0,265.4 163.5,266.9 164.0,265.7 164.4,266.4 164.9,268.6 165.4,267.2 165.9,266.5 166.4,264.1 166.9,263.1 167.3,265.3 167.8,264.2 168.3,263.9 168.8,265.5 169.3,266.8 169.8,264.8 170.3,264.0 170.7,264.8 171.2,267.8 171.7,265.3 172.2,265.4 172.7,265.9 173.2,265.4 173.6,266.3 174.1,264.6 174.6,264.8 175.1,265.5 175.6,264.6 176.1,264.6 176.6,266.4 177.0,265.2 177.5,265.1 178.0,266.6 178.5,265.6 179.0,263.9 179.5,264.6 179.9,262.1 180.4,261.0 180.9,263.1 181.4,262.5 181.9,260.5 182.4,262.7 182.9,264.0 183.3,263.7 183.8,264.8 184.3,265.0 184.8,263.0 185.3,263.1 185.8,262.2 186.2,261.6 186.7,263.0 187.2,262.7 187.7,262.7 188.2,263.2 188.7,263.6 189.2,262.3 189.6,262.4 190.1,261.9 190.6,260.9 191.1,260.5 191.6,263.2 192.1,263.7 192.6,263.2 193.0,262.6 193.5,261.5 194.0,263.7 194.5,263.7 195.0,262.9 195.5,261.5 195.9,261.0 196.4,264.0 196.9,263.9 197.4,264.8 197.9,263.1 198.4,263.3 198.9,264.5 199.3,265.4 199.8,264.6 200.3,263.7 200.8,265.8 201.3,266.0 201.8,265.7 202.2,265.9 202.7,265.7 203.2,267.4 203.7,267.2 204.2,269.0 204.7,266.7 205.2,264.6 205.6,267.9 206.1,267.0 206.6,264.7 207.1,265.3 207.6,267.6 208.1,264.3 208.5,266.5 209.0,263.6 209.5,265.1 210.0,265.6 210.5,264.8 211.0,264.5 211.5,263.5 211.9,263.3 212.4,264.0 212.9,262.2 213.4,262.4 213.9,262.9 214.4,263.2 214.8,263.8 215.3,264.2 215.8,263.5 216.3,263.7 216.8,264.4 217.3,263.6 217.8,265.1 218.2,264.9 218.7,264.4 219.2,266.9 219.7,266.8 220.2,264.2 220.7,266.6 221.1,264.4 221.6,266.4 222.1,265.0 222.6,266.3 223.1,265.9 223.6,265.4 224.1,265.3 224.5,263.1 225.0,262.5 225.5,262.1 226.0,262.7 226.5,260.9 227.0,260.9 227.4,261.7 227.9,263.5 228.4,261.7 228.9,261.0 229.4,261.4 229.9,260.5 230.4,260.0 230.8,261.1 231.3,260.2 231.8,260.0 232.3,259.8 232.8,260.4 233.3,260.6 233.7,259.8 234.2,257.7 234.7,255.8 235.2,258.5 235.7,260.0 236.2,259.4 236.7,259.7 237.1,259.5 237.6,259.1 238.1,261.1 238.6,260.3 239.1,260.3 239.6,259.9 240.1,259.9 240.5,261.4 241.0,260.8 241.5,264.3 242.0,263.1 242.5,262.1 243.0,260.6 243.4,258.6 243.9,258.9 244.4,255.6 244.9,254.4 245.4,254.4 245.9,254.2 246.4,255.6 246.8,257.7 247.3,255.0 247.8,253.3 248.3,252.7 248.8,253.8 249.3,253.1 249.7,249.7 250.2,250.3 250.7,250.9 251.2,252.5 251.7,251.8 252.2,251.2 252.7,251.9 253.1,253.8 253.6,253.7 254.1,254.9 254.6,253.8 255.1,251.9 255.6,252.3 256.0,251.5 256.5,248.7 257.0,249.9 257.5,249.0 258.0,250.1 258.5,251.4 259.0,250.3 259.4,250.4 259.9,252.4 260.4,252.0 260.9,250.8 261.4,248.0 261.9,249.7 262.3,249.4 262.8,248.5 263.3,248.6 263.8,249.3 264.3,246.9 264.8,246.6 265.3,251.2 265.7,248.1 266.2,247.5 266.7,246.6 267.2,247.3 267.7,246.5 268.2,244.6 268.6,244.2 269.1,243.8 269.6,244.5 270.1,244.7 270.6,244.5 271.1,247.0 271.6,243.4 272.0,244.8 272.5,245.1 273.0,245.3 273.5,244.8 274.0,247.9 274.5,245.8 274.9,247.0 275.4,246.9 275.9,247.9 276.4,247.9 276.9,245.3 277.4,246.0 277.9,245.9 278.3,246.1 278.8,247.6 279.3,247.6 279.8,248.5 280.3,247.7 280.8,250.0 281.2,248.6 281.7,246.7 282.2,245.8 282.7,245.6 283.2,246.3 283.7,248.5 284.2,246.7 284.6,246.6 285.1,246.9 285.6,248.9 286.1,247.5 286.6,245.7 287.1,246.1 287.6,247.4 288.0,246.8 288.5,247.3 289.0,247.3 289.5,246.4 290.0,246.8 290.5,247.2 290.9,247.0 291.4,248.4 291.9,249.1 292.4,247.4 292.9,248.3 293.4,247.1 293.9,249.9 294.3,246.9 294.8,247.8 295.3,245.9 295.8,250.6 296.3,251.1 296.8,247.5 297.2,248.0 297.7,248.1 298.2,248.4 298.7,248.5 299.2,248.0 299.7,249.5 300.2,248.6 300.6,246.3 301.1,246.7 301.6,247.6 302.1,246.8 302.6,245.1 303.1,245.9 303.5,245.9 304.0,244.8 304.5,243.7 305.0,242.2 305.5,243.2 306.0,242.4 306.5,240.8 306.9,243.6 307.4,241.4 307.9,239.8 308.4,239.5 308.9,240.0 309.4,237.8 309.8,235.8 310.3,236.5 310.8,237.8 311.3,238.2 311.8,236.4 312.3,236.6 312.8,238.5 313.2,240.9 313.7,242.6 314.2,242.6 314.7,243.2 315.2,243.3 315.7,245.7 316.1,245.6 316.6,244.8 317.1,247.7 317.6,243.7 318.1,244.9 318.6,245.6 319.1,248.4 319.5,249.1 320.0,246.9 320.5,246.7 321.0,251.1 321.5,248.1 322.0,247.8 322.4,247.9 322.9,250.2 323.4,249.3 323.9,250.2 324.4,249.0 324.9,247.1 325.4,248.2 325.8,248.1 326.3,249.8 326.8,251.3 327.3,250.5 327.8,249.0 328.3,247.9 328.7,249.6 329.2,249.7 329.7,250.5 330.2,252.4 330.7,250.7 331.2,249.9 331.7,250.6 332.1,250.5 332.6,252.5 333.1,250.8 333.6,248.7 334.1,249.9 334.6,249.5 335.1,249.6 335.5,251.2 336.0,250.5 336.5,251.6 337.0,247.2 337.5,249.4 338.0,251.7 338.4,253.1 338.9,249.6 339.4,249.8 339.9,250.1 340.4,252.5 340.9,252.3 341.4,253.0 341.8,250.4 342.3,251.7 342.8,249.0 343.3,250.0 343.8,251.4 344.3,249.8 344.7,253.9 345.2,253.7 345.7,253.2 346.2,251.4 346.7,251.0 347.2,251.9 347.7,255.1 348.1,254.6 348.6,255.4 349.1,252.8 349.6,254.3 350.1,253.5 350.6,251.6 351.0,253.5 351.5,253.1 352.0,254.3 352.5,254.1 353.0,254.1 353.5,254.1 354.0,254.1 354.4,254.6 354.9,251.9 355.4,254.3 355.9,253.8 356.4,254.2 356.9,256.8 357.3,253.4 357.8,253.2 358.3,255.1 358.8,254.8 359.3,255.7 359.8,253.5 360.3,251.2 360.7,250.8 361.2,253.8 361.7,254.9 362.2,252.2 362.7,249.6 363.2,250.7 363.6,249.5 364.1,252.0 364.6,250.9 365.1,249.6 365.6,250.1 366.1,249.8 366.6,248.3 367.0,249.1 367.5,249.4 368.0,246.9 368.5,246.4 369.0,247.4 369.5,245.5 369.9,245.8 370.4,243.9 370.9,243.8 371.4,243.7 371.9,243.9 372.4,242.3 372.9,241.9 373.3,238.9 373.8,240.2 374.3,241.9 374.8,237.8 375.3,241.5 375.8,238.5 376.2,241.1 376.7,239.4 377.2,241.2 377.7,241.1 378.2,242.0 378.7,242.5 379.2,242.1 379.6,243.6 380.1,242.7 380.6,244.7 381.1,244.9 381.6,244.9 382.1,244.5 382.6,242.9 383.0,245.2 383.5,246.1 384.0,246.8 384.5,246.3 385.0,245.1 385.5,246.5 385.9,246.6 386.4,247.1 386.9,246.6 387.4,249.2 387.9,246.9 388.4,245.9 388.9,248.0 389.3,247.8 389.8,248.7 390.3,246.4 390.8,246.1 391.3,243.1 391.8,246.0 392.2,247.7 392.7,247.6 393.2,248.5 393.7,246.8 394.2,246.1 394.7,245.0 395.2,245.5 395.6,247.2 396.1,246.0 396.6,246.9 397.1,247.2 397.6,250.3 398.1,251.2 398.5,251.6 399.0,251.8 399.5,254.6 400.0,251.5 400.5,252.7 401.0,252.2 401.5,252.7 401.9,252.4 402.4,253.9 402.9,255.1 403.4,257.4 403.9,257.5 404.4,255.9 404.8,260.4 405.3,260.8 405.8,260.2 406.3,258.8" fill="none" stroke="#1f77b4" stroke-width="1.5" stroke-linejoin="round" stroke-linecap="butt"/>
<polyline clip-path="url(#ca2)" points="67.5,248.9 68.0,251.8 68.5,251.0 69.0,247.7 69.4,245.4 69.9,250.8 70.4,249.7 70.9,251.0 71.4,249.7 71.9,249.5 72.3,250.2 72.8,249.2 73.3,247.6 73.8,249.2 74.3,249.7 74.8,249.9 75.3,248.7 75.7,247.8 76.2,248.6 76.7,248.3 77.2,245.7 77.7,249.2 78.2,249.4 78.6,247.9 79.1,248.6 79.6,248.1 80.1,247.7 80.6,249.0 81.1,250.0 81.6,249.5 82.0,249.0 82.5,248.9 83.0,248.8 83.5,246.8 84.0,247.0 84.5,247.3 84.9,244.8 85.4,245.5 85.9,245.0 86.4,243.1 86.9,227.5 87.4,243.7 87.9,244.5 88.3,245.1 88.8,243.2 89.3,241.8 89.8,244.4 90.3,242.3 90.8,242.5 91.2,242.1 91.7,245.0 92.2,244.7 92.7,242.3 93.2,244.3 93.7,244.3 94.2,243.7 94.6,243.9 95.1,245.2 95.6,245.0 96.1,243.5 96.6,243.3 97.1,243.7 97.6,240.9 98.0,240.6 98.5,241.2 99.0,240.1 99.5,237.2 100.0,239.3 100.5,235.3 100.9,234.6 101.4,233.5 101.9,232.3 102.4,233.4 102.9,230.9 103.4,234.9 103.9,234.7 104.3,237.0 104.8,234.6 105.3,236.6 105.8,235.9 106.3,235.0 106.8,235.4 107.2,236.5 107.7,236.4 108.2,238.9 108.7,240.1 109.2,241.4 109.7,239.9 110.2,239.1 110.6,242.2 111.1,242.6 111.6,243.6 112.1,243.4 112.6,246.6 113.1,244.4 113.5,244.9 114.0,247.6 114.5,248.4 115.0,249.0 115.5,248.2 116.0,247.5 116.5,250.3 116.9,251.1 117.4,249.6 117.9,249.6 118.4,249.4 118.9,251.2 119.4,249.6 119.8,249.2 120.3,253.5 120.8,251.7 121.3,266.3 121.8,250.2 122.3,253.0 122.8,256.2 123.2,244.9 123.7,255.9 124.2,254.3 124.7,251.3 125.2,255.9 125.7,254.9 126.1,258.7 126.6,254.3 127.1,258.5 127.6,260.0 128.1,253.4 128.6,257.6 129.1,257.2 129.5,264.1 130.0,256.1 130.5,255.5 131.0,260.1 131.5,260.6 132.0,261.4 132.4,257.5 132.9,264.0 133.4,259.5 133.9,255.6 134.4,260.2 134.9,255.9 135.4,260.8 135.8,261.9 136.3,259.3 136.8,262.0 137.3,260.3 137.8,263.5 138.3,265.8 138.7,264.0 139.2,261.8 139.7,261.3 140.2,264.4 140.7,263.8 141.2,267.4 141.7,266.3 142.1,266.9 142.6,267.5 143.1,267.7 143.6,267.7 144.1,265.4 144.6,266.1 145.1,266.2 145.5,270.0 146.0,268.6 146.5,267.3 147.0,265.7 147.5,264.1 148.0,270.1 148.4,265.2 148.9,265.2 149.4,266.2 149.9,272.2 150.4,264.6 150.9,265.4 151.4,263.8 151.8,269.8 152.3,267.0 152.8,261.0 153.3,264.2 153.8,266.6 154.3,265.5 154.7,267.9 155.2,261.2 155.7,261.2 156.2,262.5 156.7,261.7 157.2,263.5 157.7,261.5 158.1,263.2 158.6,261.4 159.1,265.0 159.6,265.3 160.1,266.6 160.6,266.5 161.0,269.3 161.5,262.3 162.0,262.2 162.5,264.0 163.0,263.4 163.5,265.4 164.0,264.6 164.4,266.0 164.9,265.5 165.4,269.6 165.9,269.3 166.4,265.4 166.9,265.2 167.3,266.8 167.8,260.8 168.3,261.3 168.8,264.8 169.3,266.4 169.8,264.7 170.3,261.3 170.7,268.5 171.2,261.8 171.7,264.3 172.2,265.1 172.7,261.6 173.2,264.2 173.6,265.0 174.1,261.4 174.6,268.6 175.1,260.6 175.6,266.6 176.1,266.5 176.6,260.3 177.0,255.8 177.5,260.9 178.0,266.0 178.5,269.3 179.0,263.1 179.5,263.6 179.9,268.4 180.4,263.7 180.9,264.9 181.4,261.0 181.9,263.2 182.4,263.4 182.9,268.3 183.3,262.0 183.8,266.2 184.3,260.6 184.8,262.4 185.3,267.3 185.8,263.5 186.2,265.0 186.7,260.6 187.2,260.9 187.7,259.4 188.2,264.0 188.7,260.8 189.2,265.5 189.6,261.2 190.1,262.6 190.6,260.2 191.1,262.1 191.6,259.5 192.1,263.0 192.6,262.7 193.0,258.8 193.5,262.7 194.0,263.9 194.5,265.0 195.0,262.8 195.5,263.0 195.9,261.4 196.4,263.6 196.9,261.5 197.4,264.1 197.9,254.9 198.4,264.0 198.9,262.4 199.3,263.3 199.8,258.6 200.3,262.1 200.8,260.6 201.3,262.9 201.8,270.6 202.2,270.4 202.7,271.1 203.2,267.9 203.7,266.9 204.2,265.9 204.7,268.2 205.2,266.5 205.6,267.2 206.1,263.5 206.6,263.4 207.1,264.4 207.6,263.4 208.1,260.5 208.5,263.1 209.0,268.6 209.5,265.1 210.0,265.2 210.5,262.2 211.0,263.0 211.5,261.9 211.9,268.0 212.4,258.5 212.9,264.2 213.4,261.2 213.9,262.3 214.4,265.8 214.8,265.8 215.3,262.4 215.8,261.2 216.3,266.8 216.8,267.6 217.3,270.2 217.8,267.6 218.2,267.3 218.7,266.4 219.2,264.3 219.7,267.4 220.2,269.0 220.7,266.9 221.1,265.9 221.6,265.1 222.1,264.9 222.6,265.5 223.1,263.3 223.6,265.3 224.1,258.8 224.5,264.5 225.0,266.8 225.5,265.8 226.0,257.0 226.5,264.5 227.0,261.1 227.4,266.9 227.9,247.7 228.4,258.5 228.9,265.1 229.4,263.7 229.9,253.8 230.4,260.4 230.8,265.0 231.3,264.2 231.8,259.9 232.3,259.6 232.8,258.3 233.3,260.4 233.7,258.1 234.2,256.3 234.7,262.5 235.2,256.4 235.7,261.3 236.2,255.2 236.7,259.4 237.1,248.9 237.6,259.1 238.1,261.3 238.6,258.6 239.1,260.8 239.6,264.9 240.1,262.2 240.5,266.5 241.0,268.7 241.5,267.6 242.0,263.5 242.5,260.9 243.0,261.6 243.4,258.6 243.9,253.4 244.4,261.1 244.9,255.4 245.4,254.7 245.9,258.6 246.4,256.2 246.8,253.7 247.3,253.7 247.8,255.9 248.3,250.6 248.8,251.8 249.3,250.1 249.7,244.9 250.2,255.7 250.7,249.0 251.2,250.9 251.7,255.5 252.2,253.3 252.7,254.8 253.1,257.5 253.6,251.5 254.1,259.2 254.6,259.9 255.1,249.8 255.6,253.4 256.0,249.9 256.5,249.7 257.0,251.2 257.5,251.4 258.0,258.8 258.5,251.4 259.0,253.9 259.4,248.0 259.9,252.5 260.4,252.0 260.9,249.2 261.4,254.6 261.9,252.0 262.3,251.1 262.8,247.8 263.3,240.9 263.8,244.8 264.3,249.6 264.8,270.3 265.3,247.5 265.7,244.7 266.2,243.9 266.7,252.3 267.2,242.6 267.7,247.6 268.2,242.2 268.6,251.5 269.1,247.7 269.6,247.3 270.1,251.8 270.6,272.9 271.1,237.1 271.6,241.4 272.0,243.2 272.5,222.2 273.0,247.6 273.5,237.1 274.0,251.1 274.5,248.4 274.9,248.0 275.4,240.2 275.9,247.0 276.4,241.7 276.9,251.7 277.4,236.9 277.9,268.3 278.3,242.2 278.8,247.3 279.3,248.8 279.8,242.0 280.3,253.8 280.8,250.3 281.2,254.2 281.7,248.1 282.2,240.0 282.7,249.4 283.2,243.2 283.7,252.1 284.2,249.9 284.6,235.6 285.1,243.3 285.6,251.3 286.1,266.3 286.6,247.6 287.1,231.5 287.6,247.4 288.0,230.0 288.5,266.3 289.0,248.7 289.5,215.5 290.0,250.0 290.5,251.4 290.9,247.2 291.4,249.0 291.9,261.5 292.4,251.0 292.9,247.5 293.4,243.3 293.9,243.0 294.3,251.1 294.8,238.2 295.3,249.4 295.8,254.1 296.3,240.4 296.8,251.5 297.2,256.4 297.7,257.3 298.2,253.0 298.7,247.5 299.2,259.6 299.7,254.0 300.2,243.9 300.6,246.5 301.1,246.2 301.6,246.8 302.1,271.6 302.6,258.1 303.1,248.4 303.5,247.6 304.0,243.7 304.5,248.7 305.0,242.5 305.5,243.7 306.0,237.0 306.5,245.4 306.9,241.7 307.4,222.2 307.9,221.1 308.4,234.3 308.9,237.0 309.4,244.1 309.8,230.7 310.3,245.2 310.8,234.7 311.3,232.4 311.8,241.1 312.3,239.0 312.8,239.5 313.2,244.4 313.7,239.2 314.2,245.6 314.7,232.9 315.2,240.9 315.7,239.8 316.1,239.4 316.6,243.6 317.1,251.6 317.6,259.6 318.1,246.7 318.6,219.3 319.1,243.8 319.5,245.5 320.0,247.8 320.5,246.1 321.0,253.1 321.5,251.0 322.0,248.0 322.4,244.4 322.9,242.2 323.4,253.8 323.9,254.5 324.4,262.8 324.9,242.2 325.4,275.6 325.8,240.4 326.3,255.0 326.8,250.9 327.3,304.0 327.8,254.8 328.3,250.1 328.7,252.5 329.2,249.6 329.7,251.7 330.2,264.9 330.7,247.8 331.2,247.9 331.7,252.0 332.1,259.2 332.6,259.9 333.1,240.9 333.6,248.8 334.1,247.6 334.6,250.1 335.1,273.5 335.5,260.9 336.0,240.7 336.5,253.5 337.0,251.9 337.5,235.6 338.0,258.2 338.4,247.8 338.9,249.4 339.4,255.5 339.9,242.2 340.4,253.8 340.9,284.9 341.4,249.0 341.8,251.1 342.3,265.0 342.8,250.1 343.3,255.5 343.8,248.9 344.3,251.9 344.7,255.4 345.2,247.4 345.7,250.6 346.2,258.6 346.7,249.6 347.2,252.2 347.7,232.9 348.1,255.4 348.6,258.0 349.1,260.0 349.6,264.9 350.1,252.4 350.6,255.7 351.0,253.3 351.5,270.3 352.0,255.8 352.5,252.2 353.0,252.3 353.5,248.4 354.0,256.2 354.4,252.9 354.9,255.0 355.4,253.4 355.9,249.0 356.4,252.4 356.9,257.2 357.3,240.9 357.8,256.2 358.3,278.3 358.8,256.3 359.3,255.5 359.8,254.0 360.3,251.8 360.7,256.6 361.2,238.2 361.7,252.4 362.2,286.3 362.7,245.7 363.2,249.4 363.6,250.1 364.1,246.2 364.6,251.0 365.1,256.3 365.6,248.4 366.1,253.5 366.6,227.5 367.0,246.7 367.5,248.3 368.0,286.3 368.5,245.1 369.0,247.2 369.5,241.5 369.9,272.9 370.4,246.0 370.9,244.1 371.4,251.9 371.9,191.5 372.4,248.5 372.9,240.4 373.3,242.1 373.8,240.8 374.3,243.9 374.8,233.4 375.3,248.1 375.8,226.1 376.2,224.9 376.7,247.6 377.2,235.8 377.7,241.3 378.2,232.6 378.7,239.5 379.2,240.9 379.6,240.9 380.1,248.6 380.6,248.9 381.1,255.6 381.6,240.7 382.1,247.3 382.6,244.0 383.0,244.0 383.5,240.0 384.0,243.7 384.5,248.2 385.0,242.3 385.5,248.0 385.9,243.7 386.4,248.6 386.9,259.2 387.4,240.1 387.9,238.2 388.4,243.1 388.9,252.7 389.3,249.7 389.8,252.2 390.3,254.2 390.8,246.3 391.3,241.9 391.8,245.6 392.2,243.0 392.7,245.8 393.2,234.2 393.7,249.6 394.2,244.8 394.7,251.1 395.2,247.7 395.6,247.3 396.1,243.0 396.6,241.5 397.1,257.0 397.6,247.5 398.1,242.4 398.5,255.9 399.0,255.3 399.5,246.7 400.0,235.6 400.5,254.9 401.0,252.4 401.5,268.9 401.9,254.2 402.4,253.7 402.9,255.1 403.4,261.4 403.9,256.4 404.4,256.2 404.8,258.9 405.3,259.5 405.8,260.2 406.3,260.9" fill="none" stroke="#ff7f0e" stroke-width="1.5" stroke-linejoin="round" stroke-linecap="butt"/>
<path d="M67.50 315.40v4.30M123.97 315.40v4.30M180.43 315.40v4.30M236.90 315.40v4.30M293.37 315.40v4.30M349.83 315.40v4.30M406.30 315.40v4.30M50.60 195.50h-4.30M50.60 222.20h-4.30M50.60 248.90h-4.30M50.60 275.60h-4.30M50.60 302.30h-4.30" stroke="#000" stroke-width="1.15" fill="none"/>
<rect x="50.60" y="185.60" width="372.70" height="129.80" fill="none" stroke="#000" stroke-width="1.15"/>
<text x="67.50" y="333.20" font-size="12.35" text-anchor="middle" textLength="6.51" lengthAdjust="spacingAndGlyphs">0</text>
<text x="123.97" y="333.20" font-size="12.35" text-anchor="middle" textLength="13.02" lengthAdjust="spacingAndGlyphs">10</text>
<text x="180.43" y="333.20" font-size="12.35" text-anchor="middle" textLength="13.02" lengthAdjust="spacingAndGlyphs">20</text>
<text x="236.90" y="333.20" font-size="12.35" text-anchor="middle" textLength="13.02" lengthAdjust="spacingAndGlyphs">30</text>
<text x="293.37" y="333.20" font-size="12.35" text-anchor="middle" textLength="13.02" lengthAdjust="spacingAndGlyphs">40</text>
<text x="349.83" y="333.20" font-size="12.35" text-anchor="middle" textLength="13.02" lengthAdjust="spacingAndGlyphs">50</text>
<text x="406.30" y="333.20" font-size="12.35" text-anchor="middle" textLength="13.02" lengthAdjust="spacingAndGlyphs">60</text>
<text x="43.00" y="200.10" font-size="12.35" text-anchor="end" textLength="14.00" lengthAdjust="spacingAndGlyphs">40</text>
<text x="43.00" y="226.80" font-size="12.35" text-anchor="end" textLength="14.00" lengthAdjust="spacingAndGlyphs">20</text>
<text x="43.00" y="253.50" font-size="12.35" text-anchor="end" textLength="7.00" lengthAdjust="spacingAndGlyphs">0</text>
<text x="43.00" y="280.20" font-size="12.35" text-anchor="end" textLength="23.21" lengthAdjust="spacingAndGlyphs">−20</text>
<text x="43.00" y="306.90" font-size="12.35" text-anchor="end" textLength="23.21" lengthAdjust="spacingAndGlyphs">−40</text>
<rect x="298.60" y="286.60" width="119.40" height="22.70" rx="2.5" fill="#fff" fill-opacity="0.8" stroke="#cccccc" stroke-width="0.9"/>
<path d="M301.5 298.3H325.5" stroke="#1f77b4" stroke-width="1.5"/><path d="M367.5 298.3H392" stroke="#ff7f0e" stroke-width="1.5"/>
<text x="333.80" y="302.40" font-size="12.72" font-style="italic">x<tspan font-size="8.90" font-style="normal" dy="2.80">2</tspan></text>
<text x="399.60" y="302.40" font-size="12.72" font-style="italic">x<tspan font-size="8.90" font-style="normal" dy="2.80">2</tspan></text>
<path d="M400.96 293.36L403.60 291.20L406.24 293.36" stroke="#000" stroke-width="0.96" fill="none"/>
<text x="11.40" y="99.80" font-size="16" font-family='"Liberation Serif", serif' font-style="italic" class="t" transform="rotate(-90 11.40 99.80)">x<tspan font-size="12.5" font-style="normal" dy="4.2">1</tspan></text>
<text x="11.40" y="256.00" font-size="16" font-family='"Liberation Serif", serif' font-style="italic" class="t" transform="rotate(-90 11.40 256.00)">x<tspan font-size="12.5" font-style="normal" dy="4.2">2</tspan></text>
<path d="M83.70 378.20V493.30M137.68 378.20V493.30M191.67 378.20V493.30M245.65 378.20V493.30M299.63 378.20V493.30M353.62 378.20V493.30M407.60 378.20V493.30M67.60 391.40H423.50M67.60 415.95H423.50M67.60 440.50H423.50M67.60 465.05H423.50M67.60 489.60H423.50" stroke="#b0b0b0" stroke-width="0.9" fill="none"/>
<polyline clip-path="url(#cb)" points="83.7,437.4 84.3,437.4 84.9,437.3 85.6,438.9 86.2,438.1 86.8,438.7 87.4,438.6 88.1,439.4 88.7,439.1 89.3,441.0 89.9,439.1 90.6,439.0 91.2,440.6 91.8,439.9 92.4,439.9 93.1,441.9 93.7,440.4 94.3,441.0 94.9,440.9 95.6,441.1 96.2,441.1 96.8,440.6 97.4,440.4 98.1,441.9 98.7,441.1 99.3,441.9 99.9,442.0 100.6,441.3 101.2,440.0 101.8,439.8 102.4,440.8 103.0,441.2 103.7,441.4 104.3,440.7 104.9,439.7 105.5,440.3 106.2,439.8 106.8,440.0 107.4,439.0 108.0,441.8 108.7,442.8 109.3,441.4 109.9,440.2 110.5,440.8 111.2,440.2 111.8,441.4 112.4,441.9 113.0,441.5 113.7,440.1 114.3,439.8 114.9,440.9 115.5,440.5 116.2,441.1 116.8,440.6 117.4,441.5 118.0,440.8 118.6,441.3 119.3,440.8 119.9,441.2 120.5,441.4 121.1,440.7 121.8,440.8 122.4,440.6 123.0,440.9 123.6,440.1 124.3,441.1 124.9,440.0 125.5,439.2 126.1,440.3 126.8,438.9 127.4,438.2 128.0,439.4 128.6,441.4 129.3,442.2 129.9,441.2 130.5,439.1 131.1,439.6 131.8,439.6 132.4,440.4 133.0,441.1 133.6,440.4 134.3,441.4 134.9,441.0 135.5,440.2 136.1,440.4 136.7,440.0 137.4,440.7 138.0,440.0 138.6,440.0 139.2,441.8 139.9,441.8 140.5,441.5 141.1,440.2 141.7,440.2 142.4,440.1 143.0,440.2 143.6,439.9 144.2,439.5 144.9,440.7 145.5,442.0 146.1,440.3 146.7,440.6 147.4,440.5 148.0,440.7 148.6,441.5 149.2,442.1 149.9,440.1 150.5,439.4 151.1,439.4 151.7,440.0 152.3,440.1 153.0,440.7 153.6,440.5 154.2,440.9 154.8,441.1 155.5,440.5 156.1,439.0 156.7,441.7 157.3,440.3 158.0,439.9 158.6,441.4 159.2,440.5 159.8,440.4 160.5,440.9 161.1,441.0 161.7,441.9 162.3,439.4 163.0,438.1 163.6,438.4 164.2,440.1 164.8,440.1 165.5,440.1 166.1,441.1 166.7,440.9 167.3,440.2 168.0,440.8 168.6,442.1 169.2,442.1 169.8,440.8 170.4,440.9 171.1,440.9 171.7,439.4 172.3,440.1 172.9,441.0 173.6,440.7 174.2,438.7 174.8,440.9 175.4,439.1 176.1,438.8 176.7,440.1 177.3,440.7 177.9,439.3 178.6,439.9 179.2,440.8 179.8,439.0 180.4,439.9 181.1,440.0 181.7,440.3 182.3,440.7 182.9,440.5 183.6,440.8 184.2,440.1 184.8,439.5 185.4,439.2 186.0,439.1 186.7,438.8 187.3,439.3 187.9,440.7 188.5,439.7 189.2,441.7 189.8,441.5 190.4,440.5 191.0,442.0 191.7,439.7 192.3,441.1 192.9,442.0 193.5,441.6 194.2,441.5 194.8,440.8 195.4,440.7 196.0,439.7 196.7,440.4 197.3,440.3 197.9,441.3 198.5,440.3 199.2,441.1 199.8,442.4 200.4,439.9 201.0,441.3 201.7,441.7 202.3,441.6 202.9,440.3 203.5,441.8 204.1,441.2 204.8,440.2 205.4,438.7 206.0,440.2 206.6,440.4 207.3,441.2 207.9,439.0 208.5,440.2 209.1,440.5 209.8,440.4 210.4,441.3 211.0,440.7 211.6,441.7 212.3,439.5 212.9,440.3 213.5,440.6 214.1,439.5 214.8,441.3 215.4,439.5 216.0,438.9 216.6,440.7 217.3,439.9 217.9,440.4 218.5,439.7 219.1,440.2 219.8,441.2 220.4,440.2 221.0,440.6 221.6,440.4 222.2,439.6 222.9,439.2 223.5,439.5 224.1,441.5 224.7,440.2 225.4,440.7 226.0,439.6 226.6,440.4 227.2,439.2 227.9,439.7 228.5,440.2 229.1,440.2 229.7,441.9 230.4,440.4 231.0,440.4 231.6,441.4 232.2,440.4 232.9,440.2 233.5,440.1 234.1,440.5 234.7,439.8 235.4,439.6 236.0,440.1 236.6,440.4 237.2,440.9 237.8,441.1 238.5,440.2 239.1,440.9 239.7,441.9 240.3,440.7 241.0,439.6 241.6,440.5 242.2,439.7 242.8,439.8 243.5,441.2 244.1,440.4 244.7,440.6 245.3,439.9 246.0,442.8 246.6,440.5 247.2,439.8 247.8,441.1 248.5,439.7 249.1,440.4 249.7,440.3 250.3,439.7 251.0,439.1 251.6,439.9 252.2,439.7 252.8,439.9 253.5,440.9 254.1,439.2 254.7,439.4 255.3,440.0 255.9,439.4 256.6,439.7 257.2,440.7 257.8,439.7 258.4,440.2 259.1,439.8 259.7,439.4 260.3,439.3 260.9,438.5 261.6,439.7 262.2,440.4 262.8,441.1 263.4,441.2 264.1,440.1 264.7,440.0 265.3,441.1 265.9,441.2 266.6,441.1 267.2,439.3 267.8,440.9 268.4,440.3 269.1,441.8 269.7,441.1 270.3,439.4 270.9,441.2 271.5,439.7 272.2,441.9 272.8,440.8 273.4,441.5 274.0,440.8 274.7,440.8 275.3,439.8 275.9,440.0 276.5,440.2 277.2,440.8 277.8,440.2 278.4,441.1 279.0,441.2 279.7,441.2 280.3,440.2 280.9,438.4 281.5,439.9 282.2,438.6 282.8,440.8 283.4,441.1 284.0,440.2 284.7,439.8 285.3,439.6 285.9,438.8 286.5,440.1 287.2,439.4 287.8,439.9 288.4,442.8 289.0,442.0 289.6,441.4 290.3,440.6 290.9,440.0 291.5,440.6 292.1,439.3 292.8,441.0 293.4,440.6 294.0,439.7 294.6,441.2 295.3,439.6 295.9,439.3 296.5,440.3 297.1,440.4 297.8,440.5 298.4,440.4 299.0,439.3 299.6,439.7 300.3,441.4 300.9,442.1 301.5,440.4 302.1,442.7 302.8,442.5 303.4,441.6 304.0,440.8 304.6,439.4 305.3,440.0 305.9,437.2 306.5,439.3 307.1,439.4 307.7,439.2 308.4,440.2 309.0,439.5 309.6,439.7 310.2,440.0 310.9,440.9 311.5,441.0 312.1,439.9 312.7,440.3 313.4,440.1 314.0,440.0 314.6,440.1 315.2,440.3 315.9,439.9 316.5,439.6 317.1,439.0 317.7,439.6 318.4,440.7 319.0,441.1 319.6,440.1 320.2,441.7 320.9,441.3 321.5,439.8 322.1,440.5 322.7,441.1 323.3,439.6 324.0,442.5 324.6,441.1 325.2,441.1 325.8,441.1 326.5,439.8 327.1,439.0 327.7,439.0 328.3,439.5 329.0,439.9 329.6,440.5 330.2,440.5 330.8,441.9 331.5,441.3 332.1,440.2 332.7,440.5 333.3,439.7 334.0,441.6 334.6,441.3 335.2,441.6 335.8,439.9 336.5,440.5 337.1,440.7 337.7,441.6 338.3,441.2 339.0,441.6 339.6,441.3 340.2,438.8 340.8,441.0 341.4,440.8 342.1,441.4 342.7,439.6 343.3,441.1 343.9,441.4 344.6,440.4 345.2,439.0 345.8,439.8 346.4,440.8 347.1,442.8 347.7,444.3 348.3,441.7 348.9,440.8 349.6,439.5 350.2,439.8 350.8,440.5 351.4,439.4 352.1,438.6 352.7,440.5 353.3,439.7 353.9,439.2 354.6,440.8 355.2,440.1 355.8,440.4 356.4,439.4 357.0,439.2 357.7,442.0 358.3,441.1 358.9,439.5 359.5,439.7 360.2,441.2 360.8,441.1 361.4,441.6 362.0,440.5 362.7,441.6 363.3,439.8 363.9,439.5 364.5,438.7 365.2,439.0 365.8,439.1 366.4,439.3 367.0,439.6 367.7,441.9 368.3,440.4 368.9,441.1 369.5,442.8 370.2,439.8 370.8,440.3 371.4,441.8 372.0,440.6 372.7,440.1 373.3,440.2 373.9,439.1 374.5,441.0 375.1,439.8 375.8,441.1 376.4,440.2 377.0,439.8 377.6,440.7 378.3,438.3 378.9,441.4 379.5,442.0 380.1,441.3 380.8,441.5 381.4,439.8 382.0,440.8 382.6,439.4 383.3,440.5 383.9,439.8 384.5,439.6 385.1,440.1 385.8,439.7 386.4,439.9 387.0,438.4 387.6,437.8 388.3,440.0 388.9,439.9 389.5,439.3 390.1,439.6 390.7,438.5 391.4,437.5 392.0,441.3 392.6,441.2 393.2,439.5 393.9,439.7 394.5,440.9 395.1,440.8 395.7,440.4 396.4,439.0 397.0,440.8 397.6,440.4 398.2,439.1 398.9,439.1 399.5,440.2 400.1,440.6 400.7,442.1 401.4,442.4 402.0,441.8 402.6,440.1 403.2,439.6 403.9,439.1 404.5,439.2 405.1,439.4 405.7,440.0 406.4,441.0 407.0,439.6 407.6,440.5" fill="none" stroke="#1f77b4" stroke-width="1.5" stroke-linejoin="round" stroke-linecap="butt"/>
<polyline clip-path="url(#cb)" points="83.7,441.7 84.3,439.7 84.9,440.8 85.6,434.2 86.2,441.8 86.8,439.9 87.4,444.3 88.1,439.3 88.7,440.2 89.3,443.2 89.9,440.2 90.6,444.2 91.2,439.5 91.8,441.8 92.4,439.9 93.1,443.4 93.7,443.0 94.3,441.3 94.9,438.3 95.6,439.9 96.2,447.2 96.8,438.8 97.4,441.5 98.1,439.4 98.7,438.1 99.3,438.9 99.9,443.6 100.6,442.9 101.2,440.3 101.8,438.7 102.4,455.2 103.0,451.5 103.7,444.6 104.3,440.8 104.9,444.0 105.5,434.8 106.2,438.8 106.8,438.2 107.4,439.9 108.0,443.6 108.7,449.0 109.3,437.1 109.9,440.1 110.5,446.3 111.2,432.8 111.8,438.7 112.4,436.6 113.0,442.0 113.7,446.0 114.3,443.6 114.9,438.8 115.5,446.5 116.2,442.0 116.8,436.9 117.4,437.1 118.0,440.1 118.6,448.2 119.3,441.7 119.9,436.9 120.5,438.1 121.1,441.8 121.8,439.2 122.4,438.7 123.0,442.0 123.6,443.1 124.3,442.6 124.9,442.8 125.5,440.6 126.1,440.3 126.8,438.6 127.4,438.0 128.0,440.0 128.6,445.5 129.3,437.6 129.9,441.6 130.5,433.8 131.1,439.8 131.8,432.5 132.4,437.3 133.0,434.3 133.6,438.5 134.3,437.4 134.9,425.8 135.5,440.1 136.1,433.1 136.7,437.1 137.4,451.5 138.0,436.6 138.6,440.5 139.2,437.8 139.9,442.7 140.5,439.6 141.1,444.9 141.7,441.8 142.4,440.7 143.0,443.1 143.6,440.9 144.2,440.0 144.9,440.1 145.5,446.9 146.1,441.4 146.7,441.3 147.4,443.0 148.0,443.4 148.6,434.9 149.2,438.1 149.9,437.9 150.5,437.7 151.1,443.8 151.7,441.7 152.3,446.6 153.0,441.0 153.6,447.3 154.2,443.5 154.8,439.0 155.5,439.6 156.1,443.8 156.7,443.5 157.3,437.2 158.0,440.1 158.6,442.6 159.2,441.1 159.8,440.9 160.5,444.8 161.1,443.4 161.7,447.7 162.3,440.6 163.0,440.7 163.6,438.3 164.2,438.4 164.8,442.7 165.5,436.8 166.1,443.8 166.7,438.8 167.3,443.1 168.0,443.6 168.6,445.5 169.2,442.1 169.8,435.2 170.4,441.5 171.1,440.9 171.7,443.2 172.3,440.6 172.9,439.8 173.6,440.4 174.2,437.5 174.8,441.7 175.4,440.1 176.1,436.8 176.7,439.5 177.3,443.5 177.9,437.5 178.6,439.3 179.2,443.9 179.8,443.7 180.4,442.8 181.1,439.2 181.7,440.4 182.3,438.5 182.9,434.3 183.6,436.0 184.2,440.4 184.8,442.4 185.4,436.1 186.0,442.2 186.7,442.3 187.3,440.8 187.9,439.8 188.5,441.6 189.2,439.8 189.8,447.9 190.4,440.9 191.0,439.8 191.7,437.5 192.3,438.6 192.9,440.4 193.5,432.4 194.2,436.6 194.8,437.5 195.4,438.3 196.0,438.2 196.7,441.8 197.3,442.6 197.9,439.2 198.5,444.7 199.2,438.5 199.8,441.7 200.4,438.0 201.0,440.0 201.7,442.8 202.3,442.9 202.9,442.2 203.5,437.2 204.1,436.9 204.8,441.6 205.4,440.6 206.0,443.6 206.6,436.6 207.3,439.9 207.9,442.7 208.5,444.8 209.1,439.4 209.8,435.4 210.4,440.9 211.0,443.6 211.6,443.3 212.3,442.5 212.9,447.5 213.5,438.1 214.1,442.2 214.8,446.1 215.4,449.3 216.0,439.5 216.6,440.1 217.3,436.9 217.9,438.3 218.5,442.8 219.1,446.9 219.8,441.1 220.4,443.5 221.0,441.6 221.6,446.2 222.2,442.6 222.9,442.1 223.5,445.1 224.1,446.7 224.7,447.6 225.4,440.4 226.0,436.9 226.6,440.6 227.2,448.3 227.9,440.5 228.5,445.5 229.1,439.5 229.7,434.7 230.4,439.0 231.0,448.3 231.6,437.0 232.2,439.2 232.9,434.7 233.5,438.6 234.1,438.0 234.7,445.9 235.4,435.9 236.0,444.3 236.6,447.2 237.2,439.6 237.8,439.0 238.5,437.3 239.1,447.9 239.7,439.9 240.3,440.0 241.0,438.4 241.6,439.8 242.2,439.7 242.8,447.4 243.5,441.3 244.1,442.1 244.7,439.4 245.3,443.4 246.0,437.6 246.6,437.9 247.2,443.7 247.8,439.9 248.5,438.2 249.1,443.3 249.7,446.9 250.3,440.6 251.0,439.1 251.6,439.9 252.2,436.2 252.8,439.2 253.5,435.1 254.1,442.1 254.7,435.3 255.3,441.5 255.9,438.4 256.6,446.6 257.2,443.4 257.8,436.7 258.4,440.5 259.1,440.2 259.7,444.4 260.3,437.8 260.9,443.7 261.6,434.9 262.2,437.6 262.8,441.2 263.4,442.0 264.1,441.0 264.7,433.1 265.3,438.5 265.9,445.5 266.6,438.4 267.2,444.1 267.8,433.6 268.4,447.8 269.1,436.8 269.7,445.5 270.3,439.1 270.9,436.6 271.5,424.5 272.2,446.2 272.8,450.3 273.4,435.1 274.0,444.3 274.7,437.4 275.3,435.5 275.9,447.4 276.5,431.8 277.2,452.8 277.8,441.6 278.4,417.2 279.0,439.9 279.7,439.1 280.3,461.4 280.9,436.7 281.5,430.7 282.2,441.4 282.8,446.6 283.4,440.5 284.0,439.9 284.7,434.9 285.3,436.8 285.9,431.9 286.5,445.3 287.2,449.4 287.8,442.1 288.4,440.8 289.0,449.4 289.6,442.4 290.3,439.6 290.9,439.6 291.5,446.8 292.1,443.4 292.8,424.5 293.4,436.3 294.0,439.4 294.6,422.1 295.3,443.6 295.9,434.2 296.5,467.5 297.1,440.1 297.8,452.8 298.4,449.3 299.0,446.2 299.6,433.9 300.3,436.5 300.9,432.6 301.5,438.5 302.1,449.1 302.8,437.2 303.4,442.9 304.0,441.3 304.6,441.8 305.3,444.8 305.9,431.5 306.5,437.6 307.1,439.8 307.7,438.6 308.4,442.9 309.0,420.9 309.6,450.3 310.2,439.3 310.9,449.9 311.5,434.6 312.1,449.3 312.7,444.4 313.4,463.8 314.0,440.0 314.6,448.5 315.2,436.3 315.9,437.5 316.5,436.6 317.1,449.1 317.7,442.7 318.4,439.8 319.0,445.1 319.6,442.7 320.2,438.8 320.9,446.7 321.5,442.0 322.1,430.7 322.7,437.5 323.3,438.9 324.0,443.4 324.6,437.7 325.2,432.5 325.8,436.2 326.5,440.4 327.1,440.1 327.7,430.7 328.3,443.4 329.0,440.1 329.6,439.7 330.2,423.3 330.8,447.4 331.5,447.5 332.1,446.6 332.7,444.1 333.3,442.3 334.0,446.5 334.6,450.3 335.2,450.6 335.8,443.0 336.5,441.1 337.1,444.8 337.7,449.3 338.3,430.8 339.0,430.7 339.6,440.4 340.2,452.7 340.8,445.9 341.4,441.5 342.1,442.8 342.7,441.9 343.3,442.6 343.9,446.1 344.6,446.9 345.2,403.7 345.8,446.1 346.4,446.6 347.1,441.2 347.7,441.5 348.3,445.2 348.9,438.1 349.6,443.3 350.2,444.7 350.8,439.5 351.4,458.9 352.1,450.6 352.7,441.2 353.3,450.3 353.9,444.4 354.6,441.5 355.2,439.5 355.8,447.2 356.4,444.8 357.0,425.8 357.7,433.9 358.3,434.0 358.9,439.4 359.5,435.4 360.2,445.7 360.8,444.3 361.4,419.6 362.0,439.7 362.7,450.6 363.3,437.7 363.9,447.0 364.5,443.5 365.2,448.3 365.8,403.7 366.4,437.8 367.0,449.0 367.7,462.6 368.3,442.3 368.9,439.2 369.5,433.8 370.2,401.2 370.8,436.4 371.4,458.9 372.0,444.4 372.7,413.5 373.3,437.1 373.9,445.5 374.5,489.6 375.1,447.6 375.8,447.8 376.4,447.7 377.0,446.3 377.6,430.7 378.3,455.2 378.9,442.1 379.5,439.8 380.1,451.8 380.8,450.3 381.4,448.1 382.0,450.3 382.6,434.1 383.3,439.0 383.9,448.6 384.5,429.3 385.1,438.2 385.8,447.9 386.4,449.8 387.0,440.0 387.6,449.7 388.3,431.9 388.9,438.4 389.5,446.2 390.1,445.9 390.7,446.1 391.4,449.1 392.0,439.2 392.6,440.1 393.2,439.1 393.9,430.7 394.5,445.4 395.1,441.2 395.7,439.2 396.4,443.8 397.0,444.2 397.6,447.2 398.2,437.6 398.9,440.2 399.5,442.5 400.1,442.6 400.7,441.6 401.4,456.5 402.0,439.1 402.6,425.8 403.2,440.4 403.9,443.2 404.5,445.4 405.1,439.2 405.7,439.0 406.4,437.3 407.0,444.5 407.6,445.5" fill="none" stroke="#ff7f0e" stroke-width="1.5" stroke-linejoin="round" stroke-linecap="butt"/>
<path d="M83.70 493.30v4.30M137.68 493.30v4.30M191.67 493.30v4.30M245.65 493.30v4.30M299.63 493.30v4.30M353.62 493.30v4.30M407.60 493.30v4.30M67.60 391.40h-4.30M67.60 415.95h-4.30M67.60 440.50h-4.30M67.60 465.05h-4.30M67.60 489.60h-4.30" stroke="#000" stroke-width="1.15" fill="none"/>
<rect x="67.60" y="378.20" width="355.90" height="115.10" fill="none" stroke="#000" stroke-width="1.15"/>
<text x="83.70" y="510.40" font-size="12.35" text-anchor="middle" textLength="6.51" lengthAdjust="spacingAndGlyphs">0</text>
<text x="137.68" y="510.40" font-size="12.35" text-anchor="middle" textLength="13.02" lengthAdjust="spacingAndGlyphs">10</text>
<text x="191.67" y="510.40" font-size="12.35" text-anchor="middle" textLength="13.02" lengthAdjust="spacingAndGlyphs">20</text>
<text x="245.65" y="510.40" font-size="12.35" text-anchor="middle" textLength="13.02" lengthAdjust="spacingAndGlyphs">30</text>
<text x="299.63" y="510.40" font-size="12.35" text-anchor="middle" textLength="13.02" lengthAdjust="spacingAndGlyphs">40</text>
<text x="353.62" y="510.40" font-size="12.35" text-anchor="middle" textLength="13.02" lengthAdjust="spacingAndGlyphs">50</text>
<text x="407.60" y="510.40" font-size="12.35" text-anchor="middle" textLength="13.02" lengthAdjust="spacingAndGlyphs">60</text>
<text x="60.00" y="396.00" font-size="12.35" text-anchor="end" textLength="14.00" lengthAdjust="spacingAndGlyphs">40</text>
<text x="60.00" y="420.55" font-size="12.35" text-anchor="end" textLength="14.00" lengthAdjust="spacingAndGlyphs">20</text>
<text x="60.00" y="445.10" font-size="12.35" text-anchor="end" textLength="7.00" lengthAdjust="spacingAndGlyphs">0</text>
<text x="60.00" y="469.65" font-size="12.35" text-anchor="end" textLength="23.21" lengthAdjust="spacingAndGlyphs">−20</text>
<text x="60.00" y="494.20" font-size="12.35" text-anchor="end" textLength="23.21" lengthAdjust="spacingAndGlyphs">−40</text>
<rect x="283.40" y="382.60" width="135.30" height="17.10" rx="2.5" fill="#fff" fill-opacity="0.8" stroke="#cccccc" stroke-width="0.9"/>
<path d="M286.5 391.0H305" stroke="#1f77b4" stroke-width="1.5"/><path d="M359.6 391.0H378.1" stroke="#ff7f0e" stroke-width="1.5"/>
<text x="240.00" y="372.50" font-size="13.53" text-anchor="middle" textLength="209.20" lengthAdjust="spacingAndGlyphs" class="t">Error state estimation using SNN</text>
<text x="12.60" y="372.40" font-size="13.00" text-anchor="start" class="t">(b)</text>
<text x="31.60" y="435.40" font-size="11.23" text-anchor="middle" textLength="56.06" lengthAdjust="spacingAndGlyphs" transform="rotate(-90 31.60 435.40)">Error state</text>
<text x="228.50" y="525.90" font-size="12.00" text-anchor="middle" textLength="35.20" lengthAdjust="spacingAndGlyphs" class="t">time[s]</text>
<text x="311.00" y="394.30" font-size="9.75" textLength="30.50" lengthAdjust="spacingAndGlyphs"><tspan font-style="italic">x</tspan><tspan font-size="6.82" dy="1.95">1</tspan><tspan dy="-1.95"> − </tspan><tspan font-style="italic">x</tspan><tspan font-size="6.82" dy="1.95">1</tspan></text>
<path d="M331.58 387.86L333.60 386.20L335.62 387.86" stroke="#000" stroke-width="0.74" fill="none"/>
<text x="384.30" y="394.30" font-size="9.75" textLength="31.00" lengthAdjust="spacingAndGlyphs"><tspan font-style="italic">x</tspan><tspan font-size="6.82" dy="1.95">2</tspan><tspan dy="-1.95"> − </tspan><tspan font-style="italic">x</tspan><tspan font-size="6.82" dy="1.95">2</tspan></text>
<path d="M405.58 387.86L407.60 386.20L409.62 387.86" stroke="#000" stroke-width="0.74" fill="none"/>
<path d="M510.50 21.40V110.40M552.17 21.40V110.40M593.83 21.40V110.40M635.50 21.40V110.40M677.17 21.40V110.40M718.83 21.40V110.40M760.50 21.40V110.40M498.00 26.30H773.20M498.00 47.67H773.20M498.00 69.03H773.20M498.00 90.40H773.20" stroke="#b0b0b0" stroke-width="0.8" fill="none"/>
<polyline clip-path="url(#cc)" points="510.5,26.3 510.9,26.2 511.3,26.4 511.8,26.2 512.2,26.9 512.6,26.2 513.0,26.4 513.4,27.0 513.8,27.3 514.3,27.4 514.7,27.2 515.1,26.4 515.5,26.4 515.9,26.9 516.3,27.1 516.8,26.2 517.2,26.4 517.6,27.2 518.0,27.2 518.4,27.3 518.8,27.2 519.3,27.0 519.7,27.6 520.1,27.7 520.5,27.7 520.9,27.8 521.4,28.6 521.8,28.8 522.2,28.1 522.6,28.5 523.0,28.4 523.4,28.1 523.9,28.3 524.3,28.1 524.7,27.1 525.1,26.9 525.5,27.5 525.9,27.1 526.4,27.3 526.8,27.3 527.2,26.5 527.6,25.9 528.0,26.5 528.4,26.2 528.9,27.2 529.3,27.2 529.7,27.3 530.1,27.5 530.5,27.3 531.0,27.5 531.4,28.2 531.8,29.2 532.2,29.6 532.6,30.0 533.0,30.7 533.5,31.7 533.9,32.5 534.3,32.1 534.7,32.5 535.1,32.4 535.5,31.7 536.0,31.1 536.4,31.0 536.8,30.7 537.2,29.7 537.6,29.2 538.0,28.8 538.5,28.7 538.9,28.9 539.3,29.1 539.7,29.0 540.1,29.1 540.6,28.7 541.0,28.5 541.4,28.0 541.8,27.7 542.2,28.1 542.6,28.0 543.1,28.6 543.5,28.5 543.9,28.5 544.3,27.9 544.7,27.9 545.1,27.9 545.6,27.4 546.0,27.9 546.4,27.2 546.8,26.7 547.2,26.1 547.6,26.8 548.1,26.6 548.5,27.4 548.9,26.4 549.3,26.8 549.7,26.9 550.1,27.8 550.6,27.6 551.0,27.9 551.4,28.3 551.8,28.5 552.2,28.7 552.7,29.0 553.1,29.7 553.5,28.8 553.9,29.4 554.3,29.7 554.7,30.1 555.2,30.6 555.6,30.9 556.0,31.0 556.4,31.5 556.8,30.9 557.2,31.3 557.7,30.9 558.1,31.5 558.5,31.2 558.9,30.9 559.3,30.6 559.7,30.4 560.2,31.3 560.6,31.4 561.0,30.6 561.4,31.2 561.8,31.8 562.3,31.0 562.7,31.0 563.1,31.7 563.5,31.7 563.9,31.0 564.3,31.5 564.8,31.8 565.2,31.9 565.6,31.3 566.0,32.4 566.4,32.1 566.8,32.2 567.3,32.1 567.7,32.1 568.1,32.5 568.5,32.5 568.9,32.6 569.3,32.1 569.8,33.3 570.2,32.8 570.6,32.5 571.0,32.9 571.4,31.9 571.9,31.8 572.3,32.6 572.7,32.3 573.1,31.7 573.5,31.8 573.9,32.2 574.4,31.7 574.8,31.7 575.2,32.2 575.6,32.1 576.0,31.4 576.4,31.3 576.9,32.1 577.3,32.2 577.7,31.5 578.1,31.7 578.5,32.0 578.9,32.3 579.4,32.3 579.8,32.0 580.2,33.3 580.6,32.5 581.0,33.0 581.5,33.3 581.9,33.2 582.3,33.4 582.7,33.4 583.1,33.1 583.5,33.2 584.0,32.7 584.4,33.5 584.8,32.9 585.2,33.5 585.6,33.2 586.0,33.2 586.5,32.6 586.9,33.3 587.3,32.9 587.7,32.1 588.1,31.9 588.5,32.4 589.0,32.1 589.4,31.8 589.8,31.9 590.2,31.6 590.6,31.6 591.1,32.8 591.5,32.0 591.9,30.6 592.3,31.7 592.7,32.0 593.1,31.9 593.6,32.2 594.0,32.0 594.4,31.7 594.8,30.7 595.2,31.1 595.6,30.8 596.1,30.9 596.5,31.1 596.9,30.9 597.3,31.0 597.7,29.8 598.1,30.0 598.6,30.5 599.0,29.9 599.4,28.8 599.8,29.0 600.2,29.1 600.7,28.9 601.1,29.0 601.5,29.1 601.9,28.1 602.3,29.6 602.7,28.9 603.2,28.9 603.6,28.5 604.0,28.6 604.4,27.8 604.8,27.4 605.2,27.8 605.7,28.5 606.1,28.4 606.5,28.3 606.9,28.4 607.3,28.6 607.7,27.4 608.2,27.4 608.6,28.1 609.0,28.3 609.4,27.9 609.8,28.1 610.2,27.7 610.7,27.4 611.1,27.6 611.5,28.1 611.9,27.9 612.3,28.4 612.8,28.0 613.2,27.0 613.6,27.7 614.0,27.3 614.4,27.0 614.8,26.7 615.3,27.8 615.7,27.7 616.1,27.8 616.5,27.0 616.9,26.9 617.3,27.7 617.8,27.7 618.2,27.3 618.6,26.5 619.0,27.2 619.4,26.8 619.8,27.5 620.3,27.8 620.7,27.1 621.1,27.5 621.5,27.9 621.9,26.9 622.4,26.8 622.8,27.6 623.2,26.9 623.6,26.9 624.0,26.8 624.4,27.5 624.9,27.4 625.3,28.1 625.7,28.3 626.1,27.2 626.5,27.3 626.9,27.1 627.4,27.2 627.8,27.4 628.2,27.4 628.6,27.0 629.0,27.2 629.4,27.8 629.9,26.8 630.3,26.5 630.7,26.6 631.1,26.3 631.5,26.8 632.0,27.0 632.4,26.6 632.8,26.7 633.2,27.5 633.6,27.3 634.0,27.1 634.5,26.2 634.9,26.8 635.3,27.3 635.7,27.6 636.1,27.2 636.5,27.3 637.0,27.1 637.4,27.4 637.8,27.7 638.2,27.2 638.6,26.8 639.0,26.7 639.5,27.4 639.9,27.1 640.3,26.7 640.7,26.9 641.1,27.5 641.6,27.7 642.0,27.8 642.4,27.7 642.8,28.0 643.2,27.9 643.6,28.1 644.1,28.2 644.5,28.0 644.9,27.9 645.3,28.5 645.7,28.6 646.1,28.2 646.6,28.6 647.0,29.1 647.4,29.0 647.8,29.2 648.2,29.0 648.6,28.9 649.1,28.5 649.5,28.9 649.9,29.0 650.3,28.8 650.7,29.1 651.2,30.0 651.6,30.0 652.0,30.4 652.4,30.4 652.8,29.9 653.2,29.1 653.7,29.8 654.1,30.3 654.5,30.9 654.9,30.8 655.3,30.3 655.7,31.2 656.2,31.0 656.6,30.8 657.0,30.7 657.4,30.1 657.8,30.9 658.2,31.1 658.7,31.7 659.1,31.6 659.5,31.8 659.9,31.5 660.3,31.3 660.8,31.1 661.2,31.1 661.6,31.6 662.0,32.0 662.4,32.2 662.8,32.0 663.3,32.0 663.7,32.3 664.1,31.8 664.5,32.3 664.9,32.0 665.3,31.9 665.8,31.4 666.2,31.1 666.6,31.5 667.0,31.0 667.4,30.1 667.8,30.3 668.3,30.9 668.7,29.7 669.1,30.6 669.5,30.2 669.9,30.8 670.3,30.3 670.8,30.5 671.2,30.3 671.6,30.4 672.0,31.1 672.4,31.4 672.9,31.2 673.3,30.4 673.7,30.3 674.1,29.9 674.5,29.7 674.9,29.4 675.4,30.4 675.8,30.7 676.2,30.7 676.6,29.7 677.0,30.1 677.4,29.8 677.9,29.1 678.3,29.8 678.7,30.0 679.1,30.2 679.5,29.4 679.9,29.1 680.4,29.4 680.8,29.6 681.2,29.5 681.6,29.4 682.0,29.1 682.5,30.0 682.9,30.2 683.3,29.7 683.7,29.6 684.1,29.9 684.5,30.2 685.0,29.9 685.4,30.2 685.8,31.1 686.2,31.1 686.6,30.4 687.0,30.6 687.5,30.5 687.9,31.3 688.3,30.5 688.7,30.6 689.1,30.9 689.5,30.9 690.0,31.0 690.4,31.0 690.8,31.8 691.2,31.5 691.6,30.6 692.1,30.8 692.5,31.1 692.9,30.6 693.3,30.1 693.7,30.5 694.1,30.3 694.6,30.8 695.0,31.5 695.4,30.4 695.8,31.0 696.2,30.5 696.6,30.3 697.1,30.0 697.5,30.8 697.9,30.4 698.3,31.2 698.7,31.7 699.1,32.0 699.6,31.4 700.0,32.0 700.4,30.6 700.8,30.8 701.2,31.0 701.7,31.4 702.1,31.3 702.5,31.9 702.9,32.4 703.3,32.5 703.7,32.0 704.2,32.1 704.6,32.1 705.0,32.9 705.4,32.3 705.8,31.9 706.2,32.3 706.7,33.4 707.1,33.0 707.5,32.7 707.9,32.1 708.3,32.3 708.7,32.1 709.2,32.7 709.6,32.8 710.0,32.8 710.4,31.9 710.8,32.9 711.3,32.6 711.7,33.1 712.1,31.8 712.5,31.7 712.9,32.3 713.3,31.8 713.8,31.6 714.2,31.9 714.6,31.7 715.0,32.0 715.4,32.1 715.8,32.8 716.3,32.7 716.7,32.1 717.1,32.2 717.5,31.5 717.9,31.7 718.3,32.1 718.8,33.3 719.2,33.1 719.6,32.6 720.0,31.8 720.4,32.1 720.9,33.0 721.3,32.3 721.7,32.0 722.1,31.8 722.5,31.6 722.9,32.5 723.4,32.6 723.8,32.5 724.2,32.5 724.6,33.2 725.0,33.0 725.4,33.1 725.9,34.5 726.3,33.9 726.7,34.0 727.1,34.5 727.5,34.8 727.9,34.6 728.4,34.2 728.8,34.8 729.2,35.9 729.6,36.0 730.0,35.9 730.4,37.1 730.9,36.6 731.3,36.9 731.7,36.8 732.1,37.1 732.5,36.5 733.0,36.9 733.4,37.0 733.8,36.5 734.2,36.0 734.6,36.4 735.0,36.4 735.5,35.9 735.9,35.6 736.3,35.4 736.7,34.7 737.1,34.3 737.5,34.7 738.0,34.6 738.4,33.2 738.8,33.5 739.2,33.9 739.6,33.1 740.0,32.6 740.5,32.1 740.9,31.4 741.3,32.0 741.7,32.8 742.1,32.5 742.6,31.7 743.0,31.1 743.4,31.5 743.8,31.8 744.2,31.6 744.6,31.9 745.1,31.8 745.5,30.2 745.9,29.9 746.3,30.7 746.7,31.1 747.1,30.2 747.6,30.0 748.0,29.9 748.4,30.7 748.8,30.2 749.2,30.2 749.6,29.3 750.1,30.5 750.5,29.4 750.9,29.5 751.3,28.8 751.7,29.1 752.2,28.4 752.6,28.6 753.0,28.6 753.4,28.4 753.8,27.4 754.2,27.8 754.7,27.3 755.1,26.7 755.5,27.2 755.9,26.6 756.3,26.4 756.7,25.7 757.2,26.4 757.6,26.2 758.0,26.8 758.4,27.1 758.8,26.4 759.2,26.1 759.7,26.1 760.1,27.5 760.5,26.1" fill="none" stroke="#1f77b4" stroke-width="1.35" stroke-linejoin="round" stroke-linecap="butt"/>
<polyline clip-path="url(#cc)" points="510.5,26.3 510.9,26.7 511.3,26.4 511.8,27.2 512.2,28.1 512.6,29.2 513.0,29.5 513.4,29.6 513.8,31.2 514.3,31.0 514.7,31.7 515.1,32.4 515.5,32.3 515.9,33.2 516.3,34.5 516.8,35.0 517.2,35.0 517.6,35.4 518.0,36.9 518.4,37.4 518.8,37.5 519.3,37.6 519.7,38.4 520.1,39.6 520.5,39.9 520.9,41.2 521.4,41.5 521.8,42.3 522.2,42.5 522.6,42.9 523.0,43.4 523.4,44.1 523.9,44.5 524.3,44.6 524.7,43.9 525.1,44.7 525.5,44.8 525.9,45.0 526.4,45.5 526.8,44.8 527.2,44.8 527.6,45.5 528.0,46.3 528.4,46.9 528.9,47.4 529.3,48.4 529.7,48.6 530.1,48.4 530.5,48.9 531.0,49.8 531.4,50.0 531.8,50.9 532.2,51.7 532.6,52.1 533.0,52.5 533.5,52.5 533.9,53.6 534.3,54.4 534.7,54.8 535.1,56.1 535.5,55.8 536.0,55.6 536.4,56.5 536.8,57.2 537.2,57.2 537.6,57.4 538.0,58.0 538.5,58.8 538.9,58.5 539.3,58.9 539.7,58.3 540.1,59.0 540.6,59.3 541.0,59.5 541.4,60.2 541.8,60.6 542.2,59.7 542.6,59.8 543.1,61.1 543.5,61.0 543.9,61.5 544.3,61.5 544.7,61.8 545.1,62.7 545.6,62.7 546.0,63.6 546.4,63.8 546.8,63.7 547.2,64.3 547.6,65.0 548.1,65.0 548.5,66.1 548.9,66.3 549.3,67.0 549.7,68.0 550.1,68.0 550.6,68.1 551.0,69.5 551.4,70.1 551.8,69.9 552.2,70.1 552.7,70.5 553.1,70.2 553.5,69.8 553.9,71.3 554.3,71.9 554.7,72.7 555.2,72.6 555.6,74.1 556.0,73.6 556.4,74.9 556.8,74.5 557.2,74.6 557.7,75.3 558.1,75.3 558.5,74.9 558.9,75.6 559.3,75.9 559.7,76.7 560.2,76.8 560.6,77.5 561.0,76.7 561.4,77.3 561.8,77.1 562.3,77.3 562.7,78.1 563.1,78.1 563.5,78.1 563.9,78.1 564.3,80.0 564.8,78.9 565.2,78.2 565.6,78.2 566.0,78.2 566.4,77.8 566.8,77.3 567.3,78.7 567.7,77.8 568.1,79.0 568.5,78.2 568.9,78.9 569.3,79.1 569.8,79.7 570.2,80.5 570.6,81.3 571.0,81.5 571.4,81.2 571.9,81.8 572.3,82.1 572.7,82.5 573.1,83.1 573.5,83.2 573.9,82.6 574.4,82.5 574.8,82.0 575.2,83.5 575.6,84.2 576.0,84.0 576.4,84.7 576.9,84.3 577.3,83.8 577.7,84.3 578.1,84.8 578.5,85.7 578.9,85.4 579.4,85.8 579.8,85.5 580.2,85.6 580.6,86.7 581.0,86.8 581.5,86.8 581.9,86.4 582.3,86.2 582.7,87.1 583.1,87.2 583.5,87.0 584.0,87.8 584.4,88.0 584.8,88.0 585.2,88.2 585.6,87.4 586.0,87.7 586.5,88.6 586.9,87.7 587.3,88.2 587.7,88.4 588.1,87.8 588.5,88.3 589.0,88.8 589.4,89.1 589.8,88.9 590.2,88.4 590.6,88.3 591.1,88.7 591.5,89.2 591.9,88.5 592.3,89.3 592.7,89.0 593.1,88.5 593.6,89.0 594.0,88.9 594.4,89.1 594.8,89.1 595.2,89.0 595.6,88.5 596.1,88.9 596.5,89.0 596.9,88.2 597.3,88.0 597.7,88.1 598.1,88.5 598.6,88.7 599.0,88.5 599.4,88.6 599.8,88.6 600.2,88.2 600.7,87.7 601.1,88.3 601.5,88.6 601.9,88.5 602.3,88.7 602.7,88.9 603.2,88.5 603.6,88.5 604.0,87.8 604.4,87.9 604.8,87.9 605.2,88.2 605.7,87.6 606.1,87.2 606.5,87.4 606.9,87.9 607.3,87.8 607.7,89.0 608.2,88.0 608.6,87.6 609.0,88.3 609.4,87.8 609.8,88.3 610.2,88.2 610.7,88.2 611.1,87.3 611.5,87.4 611.9,87.7 612.3,87.8 612.8,86.8 613.2,87.5 613.6,87.6 614.0,88.8 614.4,87.6 614.8,87.7 615.3,88.2 615.7,88.2 616.1,88.0 616.5,88.0 616.9,88.6 617.3,88.4 617.8,88.5 618.2,88.8 618.6,87.9 619.0,88.3 619.4,89.2 619.8,88.9 620.3,88.9 620.7,88.7 621.1,89.1 621.5,89.7 621.9,89.7 622.4,88.4 622.8,87.8 623.2,88.8 623.6,90.1 624.0,89.9 624.4,89.3 624.9,88.8 625.3,88.9 625.7,88.8 626.1,89.0 626.5,89.3 626.9,89.6 627.4,89.9 627.8,90.5 628.2,90.3 628.6,90.0 629.0,89.5 629.4,90.4 629.9,89.5 630.3,90.4 630.7,89.5 631.1,90.2 631.5,89.9 632.0,90.1 632.4,90.1 632.8,90.5 633.2,90.2 633.6,90.4 634.0,90.1 634.5,90.2 634.9,90.5 635.3,91.1 635.7,90.7 636.1,91.6 636.5,91.0 637.0,90.9 637.4,90.6 637.8,91.7 638.2,91.0 638.6,91.3 639.0,91.2 639.5,91.6 639.9,91.7 640.3,91.2 640.7,91.8 641.1,91.8 641.6,92.2 642.0,92.2 642.4,91.9 642.8,92.5 643.2,92.6 643.6,92.3 644.1,92.5 644.5,93.1 644.9,93.2 645.3,93.8 645.7,93.8 646.1,94.3 646.6,93.9 647.0,93.8 647.4,94.8 647.8,94.0 648.2,94.1 648.6,94.7 649.1,95.1 649.5,95.4 649.9,95.3 650.3,95.3 650.7,95.1 651.2,94.5 651.6,95.3 652.0,95.5 652.4,96.4 652.8,96.3 653.2,95.9 653.7,96.0 654.1,96.8 654.5,96.1 654.9,96.3 655.3,97.1 655.7,96.5 656.2,97.2 656.6,97.6 657.0,97.7 657.4,97.3 657.8,96.6 658.2,96.8 658.7,97.4 659.1,96.8 659.5,97.2 659.9,97.1 660.3,98.1 660.8,97.7 661.2,97.9 661.6,98.5 662.0,97.8 662.4,97.9 662.8,98.0 663.3,98.4 663.7,98.8 664.1,98.0 664.5,98.3 664.9,98.0 665.3,98.1 665.8,97.9 666.2,98.1 666.6,97.6 667.0,97.5 667.4,97.5 667.8,97.3 668.3,96.9 668.7,96.6 669.1,96.7 669.5,97.2 669.9,96.8 670.3,97.1 670.8,98.0 671.2,97.9 671.6,97.2 672.0,97.4 672.4,97.1 672.9,97.0 673.3,96.5 673.7,96.8 674.1,98.7 674.5,98.2 674.9,98.6 675.4,97.9 675.8,97.8 676.2,97.3 676.6,97.3 677.0,97.2 677.4,97.7 677.9,97.9 678.3,97.5 678.7,97.6 679.1,97.7 679.5,96.9 679.9,97.2 680.4,97.3 680.8,97.0 681.2,97.1 681.6,96.7 682.0,96.5 682.5,97.2 682.9,96.9 683.3,96.7 683.7,96.8 684.1,97.3 684.5,96.2 685.0,96.8 685.4,96.9 685.8,97.5 686.2,96.6 686.6,97.5 687.0,98.0 687.5,98.3 687.9,98.0 688.3,98.5 688.7,98.3 689.1,98.1 689.5,97.7 690.0,97.6 690.4,97.6 690.8,97.6 691.2,97.1 691.6,97.8 692.1,97.6 692.5,97.8 692.9,98.0 693.3,99.0 693.7,98.6 694.1,97.9 694.6,98.8 695.0,98.9 695.4,98.7 695.8,98.5 696.2,98.6 696.6,98.8 697.1,99.5 697.5,98.7 697.9,99.1 698.3,99.3 698.7,99.4 699.1,99.1 699.6,100.3 700.0,100.3 700.4,99.3 700.8,99.3 701.2,100.0 701.7,99.1 702.1,99.9 702.5,100.0 702.9,99.8 703.3,100.4 703.7,100.1 704.2,100.2 704.6,100.8 705.0,101.3 705.4,100.4 705.8,100.8 706.2,100.2 706.7,100.5 707.1,100.7 707.5,100.9 707.9,101.2 708.3,100.9 708.7,101.1 709.2,100.3 709.6,100.1 710.0,101.2 710.4,101.2 710.8,101.3 711.3,100.6 711.7,100.6 712.1,100.6 712.5,101.0 712.9,100.8 713.3,101.7 713.8,101.1 714.2,101.1 714.6,101.2 715.0,101.5 715.4,102.6 715.8,101.4 716.3,102.0 716.7,101.6 717.1,102.0 717.5,101.6 717.9,101.7 718.3,101.5 718.8,101.8 719.2,101.7 719.6,101.7 720.0,102.8 720.4,101.8 720.9,101.8 721.3,102.0 721.7,102.2 722.1,101.9 722.5,102.5 722.9,102.4 723.4,102.4 723.8,101.7 724.2,102.8 724.6,103.6 725.0,103.5 725.4,103.6 725.9,103.6 726.3,103.7 726.7,103.5 727.1,103.6 727.5,103.9 727.9,103.1 728.4,103.6 728.8,104.0 729.2,104.6 729.6,105.3 730.0,105.1 730.4,106.2 730.9,106.1 731.3,106.2 731.7,106.3 732.1,105.0 732.5,104.8 733.0,105.4 733.4,105.8 733.8,105.1 734.2,105.1 734.6,105.1 735.0,104.7 735.5,105.2 735.9,104.6 736.3,103.4 736.7,103.5 737.1,103.4 737.5,102.6 738.0,102.5 738.4,102.0 738.8,102.6 739.2,102.6 739.6,102.2 740.0,102.2 740.5,102.3 740.9,101.0 741.3,101.3 741.7,101.8 742.1,101.1 742.6,100.8 743.0,100.7 743.4,100.4 743.8,100.1 744.2,100.5 744.6,100.2 745.1,99.8 745.5,99.3 745.9,99.5 746.3,99.9 746.7,99.2 747.1,99.6 747.6,99.2 748.0,98.8 748.4,98.8 748.8,98.3 749.2,98.4 749.6,98.5 750.1,98.3 750.5,97.9 750.9,97.5 751.3,98.2 751.7,97.5 752.2,97.4 752.6,96.7 753.0,97.5 753.4,96.7 753.8,96.8 754.2,96.6 754.7,96.6 755.1,95.5 755.5,96.2 755.9,95.3 756.3,95.9 756.7,95.3 757.2,96.0 757.6,95.8 758.0,95.0 758.4,95.2 758.8,96.3 759.2,95.9 759.7,97.1 760.1,96.2 760.5,96.9" fill="none" stroke="#ff7f0e" stroke-width="1.35" stroke-linejoin="round" stroke-linecap="butt"/>
<path d="M510.50 110.40v3.00M552.17 110.40v3.00M593.83 110.40v3.00M635.50 110.40v3.00M677.17 110.40v3.00M718.83 110.40v3.00M760.50 110.40v3.00M498.00 26.30h-3.00M498.00 47.67h-3.00M498.00 69.03h-3.00M498.00 90.40h-3.00" stroke="#000" stroke-width="0.85" fill="none"/>
<rect x="498.00" y="21.40" width="275.20" height="89.00" fill="none" stroke="#000" stroke-width="0.95"/>
<text x="510.50" y="122.90" font-size="9.21" text-anchor="middle" textLength="4.85" lengthAdjust="spacingAndGlyphs">0</text>
<text x="552.17" y="122.90" font-size="9.21" text-anchor="middle" textLength="9.70" lengthAdjust="spacingAndGlyphs">10</text>
<text x="593.83" y="122.90" font-size="9.21" text-anchor="middle" textLength="9.70" lengthAdjust="spacingAndGlyphs">20</text>
<text x="635.50" y="122.90" font-size="9.21" text-anchor="middle" textLength="9.70" lengthAdjust="spacingAndGlyphs">30</text>
<text x="677.17" y="122.90" font-size="9.21" text-anchor="middle" textLength="9.70" lengthAdjust="spacingAndGlyphs">40</text>
<text x="718.83" y="122.90" font-size="9.21" text-anchor="middle" textLength="9.70" lengthAdjust="spacingAndGlyphs">50</text>
<text x="760.50" y="122.90" font-size="9.21" text-anchor="middle" textLength="9.70" lengthAdjust="spacingAndGlyphs">60</text>
<text x="492.20" y="29.30" font-size="9.21" text-anchor="end" textLength="28.69" lengthAdjust="spacingAndGlyphs">0.0000</text>
<text x="492.20" y="50.67" font-size="9.21" text-anchor="end" textLength="35.56" lengthAdjust="spacingAndGlyphs">−0.0025</text>
<text x="492.20" y="72.03" font-size="9.21" text-anchor="end" textLength="35.56" lengthAdjust="spacingAndGlyphs">−0.0050</text>
<text x="492.20" y="93.40" font-size="9.21" text-anchor="end" textLength="35.56" lengthAdjust="spacingAndGlyphs">−0.0075</text>
<rect x="501.80" y="92.40" width="87.50" height="14.00" rx="2.5" fill="#fff" fill-opacity="0.8" stroke="#cccccc" stroke-width="0.9"/>
<path d="M504.7 98.5H522.3" stroke="#1f77b4" stroke-width="1.2"/><path d="M553.1 98.5H570.7" stroke="#ff7f0e" stroke-width="1.2"/>
<text x="528.30" y="101.6" font-size="9.54" font-style="italic">κ<tspan font-size="7.42" font-style="normal" dy="1.8">1</tspan></text>
<text x="576.60" y="101.6" font-size="9.54" font-style="italic">κ<tspan font-size="7.42" font-style="normal" dy="1.8">2</tspan></text>
<text x="563.60" y="17.40" font-size="10.43" text-anchor="start" textLength="135.80" lengthAdjust="spacingAndGlyphs">SNN Kalman Gain Evolution</text>
<text x="435.70" y="14.00" font-size="13.00" text-anchor="start" class="t">(c)</text>
<path d="M510.50 143.40V232.50M552.17 143.40V232.50M593.83 143.40V232.50M635.50 143.40V232.50M677.17 143.40V232.50M718.83 143.40V232.50M760.50 143.40V232.50M498.00 154.20H773.20M498.00 172.85H773.20M498.00 191.50H773.20M498.00 210.15H773.20M498.00 228.80H773.20" stroke="#b0b0b0" stroke-width="0.8" fill="none"/>
<polyline clip-path="url(#cd)" points="510.5,217.6 511.1,217.9 511.8,218.1 512.4,218.1 513.0,218.5 513.6,218.9 514.3,219.2 514.9,219.1 515.5,219.5 516.1,220.0 516.8,220.4 517.4,220.6 518.0,220.9 518.6,220.9 519.3,221.4 519.9,222.1 520.5,222.1 521.2,222.5 521.8,222.8 522.4,223.3 523.0,223.8 523.7,223.7 524.3,224.2 524.9,224.4 525.5,225.1 526.2,225.4 526.8,226.1 527.4,226.9 528.0,227.4 528.7,227.8 529.3,228.8 529.9,228.8 530.6,228.6 531.2,228.4 531.8,228.5 532.4,228.4 533.1,228.2 533.7,228.1 534.3,228.4 534.9,228.4 535.6,228.5 536.2,228.3 536.8,228.8 537.4,228.8 538.1,228.8 538.7,228.8 539.3,228.8 539.9,228.8 540.6,228.8 541.2,228.8" fill="none" stroke="#1f77b4" stroke-width="1.35" stroke-linejoin="round" stroke-linecap="butt"/>
<polyline clip-path="url(#cd)" points="510.5,213.1 511.1,212.9 511.8,212.7 512.4,212.7 513.0,212.6 513.6,212.4 514.3,212.3 514.9,212.4 515.5,212.3 516.1,212.2 516.8,212.3 517.4,212.4 518.0,212.1 518.6,211.9 519.3,211.9 519.9,211.9 520.5,211.9 521.2,211.9 521.8,212.2 522.4,212.2 523.0,212.2 523.7,212.4 524.3,213.0 524.9,213.3 525.5,213.7 526.2,214.1 526.8,214.6 527.4,214.9 528.0,214.9 528.7,215.2 529.3,215.4 529.9,215.7 530.6,215.7 531.2,216.0 531.8,216.5 532.4,217.0 533.1,217.0 533.7,217.2 534.3,217.4 534.9,217.3 535.6,217.4 536.2,217.6 536.8,217.6 537.4,217.6 538.1,217.8 538.7,218.1 539.3,218.5 539.9,218.5 540.6,218.5 541.2,218.9 541.8,219.2 542.5,219.5 543.1,219.6 543.7,219.9 544.3,219.7 545.0,219.9 545.6,219.5 546.2,219.4 546.8,219.6 547.5,219.9 548.1,220.0 548.7,219.9 549.3,219.9 550.0,219.9 550.6,219.9 551.2,219.9 551.9,219.9 552.5,220.0 553.1,219.9 553.7,219.9 554.4,220.1 555.0,220.2 555.6,220.5 556.2,220.5 556.9,221.0 557.5,221.1 558.1,221.2 558.7,221.4 559.4,221.8 560.0,221.9 560.6,222.2 561.3,222.2 561.9,222.9 562.5,223.5 563.1,223.6 563.8,223.9 564.4,224.2 565.0,224.5 565.6,224.6 566.3,224.6 566.9,225.0 567.5,225.0 568.1,225.3 568.8,225.5 569.4,225.8 570.0,226.1 570.7,226.2 571.3,226.6 571.9,226.8 572.5,227.0 573.2,227.4 573.8,227.9 574.4,228.3 575.0,228.4 575.7,228.8" fill="none" stroke="#ff7f0e" stroke-width="1.35" stroke-linejoin="round" stroke-linecap="butt"/>
<polyline clip-path="url(#cd)" points="510.5,210.2 511.1,210.4 511.8,210.3 512.4,210.0 513.0,210.5 513.6,211.0 514.3,211.3 514.9,211.9 515.5,212.3 516.1,212.8 516.8,213.3 517.4,214.2 518.0,214.7 518.6,215.2 519.3,215.8 519.9,216.6 520.5,217.1 521.2,217.8 521.8,217.8 522.4,218.2 523.0,218.2 523.7,218.6 524.3,218.8 524.9,219.1 525.5,219.3 526.2,219.4 526.8,219.9 527.4,219.8 528.0,220.0 528.7,220.3 529.3,220.6 529.9,221.0 530.6,221.4 531.2,221.5 531.8,221.8 532.4,221.8 533.1,221.9 533.7,222.0 534.3,222.3 534.9,222.7 535.6,222.8 536.2,222.3 536.8,222.2 537.4,223.0 538.1,224.0 538.7,225.1 539.3,226.2 539.9,227.2 540.6,228.1 541.2,228.8 541.8,228.8 542.5,228.8 543.1,228.8 543.7,228.8 544.3,228.8 545.0,228.8 545.6,228.8 546.2,228.8 546.8,228.8 547.5,228.8 548.1,228.8 548.7,228.8 549.3,228.8 550.0,228.8 550.6,228.8 551.2,228.8 551.9,228.8 552.5,228.8 553.1,228.8 553.7,228.8 554.4,228.8 555.0,228.8 555.6,228.8 556.2,228.8 556.9,228.8 557.5,228.8 558.1,228.8 558.7,228.8 559.4,228.8 560.0,228.8 560.6,228.8 561.3,228.8 561.9,228.8 562.5,228.8 563.1,228.8 563.8,228.8 564.4,228.8 565.0,228.8 565.6,228.8 566.3,228.8 566.9,228.8 567.5,228.8 568.1,228.8 568.8,228.8 569.4,228.8 570.0,228.8 570.7,228.8 571.3,228.8 571.9,228.8 572.5,228.8 573.2,228.8 573.8,228.8 574.4,228.8 575.0,228.8 575.7,228.8 576.3,228.8 576.9,228.8 577.5,228.8 578.2,228.8 578.8,228.8 579.4,228.8 580.0,228.8 580.7,228.8 581.3,228.8 581.9,228.8 582.6,228.8 583.2,228.8 583.8,228.8 584.4,228.8 585.1,228.8 585.7,228.8 586.3,228.8 586.9,228.8 587.6,228.8 588.2,228.8 588.8,228.8 589.4,228.8 590.1,228.8 590.7,228.8 591.3,228.8 592.0,228.8 592.6,228.8 593.2,228.8 593.8,228.8 594.5,228.8 595.1,228.8 595.7,228.8 596.3,228.8 597.0,228.8 597.6,228.8 598.2,228.8 598.8,228.8 599.5,228.8 600.1,228.8 600.7,228.8 601.4,228.8 602.0,228.8 602.6,228.8 603.2,228.8 603.9,228.8 604.5,228.8 605.1,228.8 605.7,228.8 606.4,228.8" fill="none" stroke="#2ca02c" stroke-width="1.35" stroke-linejoin="round" stroke-linecap="butt"/>
<polyline clip-path="url(#cd)" points="510.5,186.3 511.1,186.4 511.8,186.4 512.4,186.5 513.0,186.5 513.6,186.4 514.3,186.5 514.9,186.6 515.5,186.6 516.1,186.6 516.8,186.9 517.4,186.5 518.0,186.6 518.6,186.9 519.3,187.1 519.9,187.0 520.5,187.1 521.2,187.2 521.8,187.4 522.4,187.2 523.0,187.2 523.7,186.7 524.3,186.9 524.9,187.1 525.5,187.1 526.2,187.3 526.8,187.3 527.4,187.3 528.0,187.7 528.7,187.8 529.3,187.8 529.9,187.5 530.6,187.7 531.2,187.7 531.8,187.6 532.4,188.0 533.1,188.3 533.7,188.5 534.3,188.5 534.9,188.5 535.6,188.6 536.2,188.8 536.8,189.1 537.4,189.0 538.1,189.4 538.7,189.6 539.3,189.8 539.9,189.8 540.6,190.0 541.2,190.1 541.8,190.4 542.5,190.7 543.1,190.9 543.7,191.0 544.3,191.4 545.0,191.2 545.6,191.6 546.2,192.0 546.8,192.3 547.5,192.3 548.1,192.4 548.7,192.6 549.3,192.4 550.0,192.7 550.6,192.7 551.2,192.9 551.9,193.1 552.5,193.5 553.1,194.0 553.7,194.1 554.4,194.0 555.0,194.1 555.6,194.2 556.2,194.5 556.9,194.9 557.5,195.5 558.1,195.5 558.7,195.7 559.4,196.0 560.0,196.5 560.6,196.8 561.3,197.1 561.9,197.5 562.5,197.6 563.1,197.9 563.8,198.4 564.4,198.7 565.0,199.4 565.6,199.8 566.3,200.2 566.9,200.7 567.5,201.2 568.1,201.6 568.8,201.8 569.4,202.2 570.0,202.6 570.7,203.1 571.3,203.6 571.9,204.2 572.5,204.6 573.2,205.1 573.8,205.9 574.4,206.1 575.0,206.5 575.7,206.7 576.3,207.4 576.9,207.9 577.5,208.3 578.2,208.7 578.8,209.4 579.4,209.9 580.0,210.3 580.7,210.7 581.3,211.1 581.9,211.4 582.6,211.9 583.2,212.3 583.8,212.7 584.4,213.1 585.1,213.4 585.7,213.8 586.3,214.3 586.9,214.6 587.6,215.0 588.2,215.7 588.8,216.2 589.4,216.8 590.1,217.3 590.7,217.9 591.3,218.1 592.0,218.6 592.6,219.2 593.2,219.8 593.8,220.4 594.5,221.2 595.1,221.5 595.7,221.8 596.3,222.5 597.0,223.1 597.6,223.3 598.2,223.7 598.8,224.1 599.5,224.6 600.1,224.7 600.7,225.0 601.4,225.2 602.0,225.7 602.6,226.5 603.2,226.7 603.9,227.3 604.5,227.5 605.1,228.0 605.7,228.5 606.4,228.8 607.0,228.8 607.6,228.8 608.2,228.8 608.9,228.8 609.5,228.8 610.1,228.8 610.8,228.8 611.4,228.8 612.0,228.8 612.6,228.8 613.3,228.8 613.9,228.8 614.5,228.8 615.1,228.8 615.8,228.8 616.4,228.8 617.0,228.8 617.6,228.8 618.3,228.8 618.9,228.8 619.5,228.8 620.1,228.8 620.8,228.8 621.4,228.8 622.0,228.8 622.7,228.8 623.3,228.8 623.9,228.8 624.5,228.8 625.2,228.8 625.8,228.8 626.4,228.8 627.0,228.8 627.7,228.8 628.3,228.8 628.9,228.8 629.5,228.8 630.2,228.8 630.8,228.8 631.4,228.8 632.1,228.8 632.7,228.8 633.3,228.8 633.9,228.8 634.6,228.8 635.2,228.8 635.8,228.8 636.4,228.8 637.1,228.8 637.7,228.8 638.3,228.8 638.9,228.8 639.6,228.8 640.2,228.8 640.8,228.8 641.5,228.8 642.1,228.8 642.7,228.8 643.3,228.8 644.0,228.8 644.6,228.8 645.2,228.8 645.8,228.8 646.5,228.8 647.1,228.8 647.7,228.8 648.3,228.8 649.0,228.8 649.6,228.8 650.2,228.8 650.9,228.8 651.5,228.8 652.1,228.8 652.7,228.8 653.4,228.8 654.0,228.8 654.6,228.8 655.2,228.8 655.9,228.8 656.5,228.8 657.1,228.8 657.7,228.8 658.4,228.8 659.0,228.8 659.6,228.8 660.2,228.8 660.9,228.8 661.5,228.8 662.1,228.8 662.8,228.8 663.4,228.8 664.0,228.8 664.6,228.8 665.3,228.8 665.9,228.8 666.5,228.8 667.1,228.8 667.8,228.8 668.4,228.8 669.0,228.8 669.6,228.8 670.3,228.8 670.9,228.8 671.5,228.8 672.2,228.8 672.8,228.8 673.4,228.8 674.0,228.8 674.7,228.8 675.3,228.8 675.9,228.8 676.5,228.8 677.2,228.8 677.8,228.8 678.4,228.8 679.0,228.8 679.7,228.8 680.3,228.8 680.9,228.8 681.6,228.8 682.2,228.8 682.8,228.8 683.4,228.8 684.1,228.8 684.7,228.8 685.3,228.8 685.9,228.8 686.6,228.8 687.2,228.8 687.8,228.8 688.4,228.8 689.1,228.8 689.7,228.8 690.3,228.8 691.0,228.8 691.6,228.8 692.2,228.8 692.8,228.8 693.5,228.8 694.1,228.8 694.7,228.8 695.3,228.8 696.0,228.8 696.6,228.8 697.2,228.8 697.8,228.8 698.5,228.8 699.1,228.8 699.7,228.8 700.3,228.8 701.0,228.8 701.6,228.8 702.2,228.8 702.9,228.8 703.5,228.8 704.1,228.8 704.7,228.8 705.4,228.8 706.0,228.8 706.6,228.8 707.2,228.8 707.9,228.8 708.5,228.8 709.1,228.8 709.7,228.8 710.4,228.8 711.0,228.8 711.6,228.8 712.3,228.8 712.9,228.8 713.5,228.8 714.1,228.8 714.8,228.8 715.4,228.8 716.0,228.8 716.6,228.8 717.3,228.8 717.9,228.8 718.5,228.8 719.1,228.8 719.8,228.8 720.4,228.8 721.0,228.8 721.7,228.8 722.3,228.8 722.9,228.8 723.5,228.8 724.2,228.8 724.8,228.8 725.4,228.8 726.0,228.8 726.7,228.8 727.3,228.8 727.9,228.8 728.5,228.8 729.2,228.8 729.8,228.8 730.4,228.8 731.1,228.8 731.7,228.8 732.3,228.8 732.9,228.8 733.6,228.8 734.2,228.8 734.8,228.8 735.4,228.8 736.1,228.8 736.7,228.8 737.3,228.8 737.9,228.8 738.6,228.8 739.2,228.8 739.8,228.8 740.4,228.8 741.1,228.8 741.7,228.8 742.3,228.8 743.0,228.8 743.6,228.8 744.2,228.8 744.8,228.8 745.5,228.8 746.1,228.8 746.7,228.8 747.3,228.8 748.0,228.8 748.6,228.8 749.2,228.8 749.8,228.8 750.5,228.8 751.1,228.8 751.7,228.8 752.4,228.8 753.0,228.8 753.6,228.8 754.2,228.8 754.9,228.8 755.5,228.8 756.1,228.8 756.7,228.8 757.4,228.8 758.0,228.8 758.6,228.8 759.2,228.8 759.9,228.8 760.5,228.8" fill="none" stroke="#d62728" stroke-width="1.35" stroke-linejoin="round" stroke-linecap="butt"/>
<polyline clip-path="url(#cd)" points="510.5,178.1 511.1,175.8 511.8,173.6 512.4,173.6 513.0,173.4 513.6,173.1 514.3,173.0 514.9,172.8 515.5,173.0 516.1,173.0 516.8,173.0 517.4,172.9 518.0,172.6 518.6,172.5 519.3,172.7 519.9,172.7 520.5,172.9 521.2,172.8 521.8,173.0 522.4,173.3 523.0,172.9 523.7,172.5 524.3,171.5 524.9,170.8 525.5,170.2 526.2,170.2 526.8,170.0 527.4,170.0 528.0,169.8 528.7,170.1 529.3,170.0 529.9,169.7 530.6,169.8 531.2,170.0 531.8,169.9 532.4,169.8 533.1,170.0 533.7,169.4 534.3,169.8 534.9,169.7 535.6,169.7 536.2,169.6 536.8,170.0 537.4,170.2 538.1,170.2 538.7,170.4 539.3,170.6 539.9,170.7 540.6,170.8 541.2,170.9 541.8,171.2 542.5,171.1 543.1,171.2 543.7,171.4 544.3,171.3 545.0,171.4 545.6,170.9 546.2,170.9 546.8,170.5 547.5,170.3 548.1,170.2 548.7,170.2 549.3,169.5 550.0,169.8 550.6,169.4 551.2,169.3 551.9,169.4 552.5,169.2 553.1,169.2 553.7,169.1 554.4,169.1 555.0,169.3 555.6,169.2 556.2,169.0 556.9,169.2 557.5,169.1 558.1,169.3 558.7,169.3 559.4,169.7 560.0,169.6 560.6,169.9 561.3,170.2 561.9,170.1 562.5,170.1 563.1,169.9 563.8,170.2 564.4,170.3 565.0,170.6 565.6,170.8 566.3,170.7 566.9,170.6 567.5,171.0 568.1,170.7 568.8,171.0 569.4,170.7 570.0,170.8 570.7,171.0 571.3,171.3 571.9,171.3 572.5,171.5 573.2,171.4 573.8,171.6 574.4,171.6 575.0,171.8 575.7,171.9 576.3,171.6 576.9,171.7 577.5,171.6 578.2,172.0 578.8,172.0 579.4,171.8 580.0,171.9 580.7,171.9 581.3,172.2 581.9,172.3 582.6,172.5 583.2,172.1 583.8,172.4 584.4,172.4 585.1,172.6 585.7,172.8 586.3,173.2 586.9,173.0 587.6,172.8 588.2,172.9 588.8,172.9 589.4,172.8 590.1,173.0 590.7,173.3 591.3,173.4 592.0,173.6 592.6,173.4 593.2,173.5 593.8,173.6 594.5,173.4 595.1,173.5 595.7,173.6 596.3,173.9 597.0,173.7 597.6,173.8 598.2,173.9 598.8,174.0 599.5,174.0 600.1,174.0 600.7,174.3 601.4,174.8 602.0,174.5 602.6,174.5 603.2,174.7 603.9,174.6 604.5,174.8 605.1,175.0 605.7,175.2 606.4,175.1 607.0,175.2 607.6,175.0 608.2,175.0 608.9,175.1 609.5,175.1 610.1,175.3 610.8,175.4 611.4,175.7 612.0,175.5 612.6,175.3 613.3,175.4 613.9,175.4 614.5,175.6 615.1,175.8 615.8,176.2 616.4,176.3 617.0,176.4 617.6,176.4 618.3,176.2 618.9,176.6 619.5,176.8 620.1,177.0 620.8,176.8 621.4,176.5 622.0,176.7 622.7,176.8 623.3,176.6 623.9,176.9 624.5,176.8 625.2,176.9 625.8,176.9 626.4,177.3 627.0,177.4 627.7,177.6 628.3,177.5 628.9,177.7 629.5,177.7 630.2,177.2 630.8,177.0 631.4,177.0 632.1,176.8 632.7,176.6 633.3,176.8 633.9,176.5 634.6,176.7 635.2,176.7 635.8,176.7 636.4,176.3 637.1,176.5 637.7,176.1 638.3,176.1 638.9,175.8 639.6,175.9 640.2,175.8 640.8,176.1 641.5,176.1 642.1,176.1 642.7,176.1 643.3,176.2 644.0,176.5 644.6,176.3 645.2,176.1 645.8,175.9 646.5,175.7 647.1,175.6 647.7,175.1 648.3,175.0 649.0,174.9 649.6,174.6 650.2,174.7 650.9,174.6 651.5,174.3 652.1,174.3 652.7,173.9 653.4,173.6 654.0,173.6 654.6,173.2 655.2,172.8 655.9,172.6 656.5,172.0 657.1,171.3 657.7,171.2 658.4,170.8 659.0,170.4 659.6,170.0 660.2,169.4 660.9,169.0 661.5,169.4 662.1,169.5 662.8,169.5 663.4,169.6 664.0,169.9 664.6,169.9 665.3,169.6 665.9,169.4 666.5,169.0 667.1,168.7 667.8,168.4 668.4,167.8 669.0,167.2 669.6,167.0 670.3,166.6 670.9,166.2 671.5,165.7 672.2,165.3 672.8,164.7 673.4,164.4 674.0,164.3 674.7,164.4 675.3,164.5 675.9,164.5 676.5,164.7 677.2,164.8 677.8,164.7 678.4,164.7 679.0,164.5 679.7,164.5 680.3,164.7 680.9,164.5 681.6,164.4 682.2,164.4 682.8,163.8 683.4,163.5 684.1,163.0 684.7,162.6 685.3,161.8 685.9,161.9 686.6,162.0 687.2,162.0 687.8,162.2 688.4,162.5 689.1,162.4 689.7,162.3 690.3,162.4 691.0,162.4 691.6,162.4 692.2,162.4 692.8,162.1 693.5,162.4 694.1,162.2 694.7,162.3 695.3,162.3 696.0,162.2 696.6,161.8 697.2,161.7 697.8,161.5 698.5,161.4 699.1,161.1 699.7,161.1 700.3,160.6 701.0,160.3 701.6,160.1 702.2,159.9 702.9,159.9 703.5,159.9 704.1,159.9 704.7,159.6 705.4,159.4 706.0,159.2 706.6,159.1 707.2,159.4 707.9,159.0 708.5,159.1 709.1,159.0 709.7,159.1 710.4,158.8 711.0,158.9 711.6,158.8 712.3,158.5 712.9,158.6 713.5,158.5 714.1,158.6 714.8,158.3 715.4,158.6 716.0,158.8 716.6,158.6 717.3,158.4 717.9,158.3 718.5,158.0 719.1,157.5 719.8,157.6 720.4,157.4 721.0,157.3 721.7,157.3 722.3,157.3 722.9,157.2 723.5,156.8 724.2,156.5 724.8,155.9 725.4,155.7 726.0,155.6 726.7,155.4 727.3,154.9 727.9,154.3 728.5,154.0 729.2,153.4 729.8,152.9 730.4,152.5 731.1,152.0 731.7,151.7 732.3,151.3 732.9,150.7 733.6,150.4 734.2,149.9 734.8,149.6 735.4,148.7 736.1,149.2 736.7,149.2 737.3,149.5 737.9,149.8 738.6,150.1 739.2,150.5 739.8,150.6 740.4,150.8 741.1,151.0 741.7,150.9 742.3,151.1 743.0,151.3 743.6,151.5 744.2,151.3 744.8,151.7 745.5,151.6 746.1,151.6 746.7,151.7 747.3,151.8 748.0,152.1 748.6,152.3 749.2,152.7 749.8,152.8 750.5,153.2 751.1,153.2 751.7,153.3 752.4,153.6 753.0,153.3 753.6,153.4 754.2,153.3 754.9,153.3 755.5,152.9 756.1,152.8 756.7,152.9 757.4,153.2 758.0,153.4 758.6,153.7 759.2,153.7 759.9,154.0 760.5,154.3" fill="none" stroke="#9467bd" stroke-width="1.35" stroke-linejoin="round" stroke-linecap="butt"/>
<polyline clip-path="url(#cd)" points="510.5,224.3 511.1,223.6 511.8,223.0 512.4,222.3 513.0,221.7 513.6,221.1 514.3,220.8 514.9,220.4 515.5,220.1 516.1,219.9 516.8,219.3 517.4,218.9 518.0,218.7 518.6,218.4 519.3,218.2 519.9,218.0 520.5,217.6 521.2,217.3 521.8,216.7 522.4,216.2 523.0,215.6 523.7,215.6 524.3,215.4 524.9,215.1 525.5,214.6 526.2,214.0 526.8,213.4 527.4,212.9 528.0,212.4 528.7,211.9 529.3,211.5 529.9,210.8 530.6,210.2 531.2,209.8 531.8,209.6 532.4,209.3 533.1,209.1 533.7,208.9 534.3,208.3 534.9,207.5 535.6,207.1 536.2,207.4 536.8,207.5 537.4,207.8 538.1,207.6 538.7,207.5 539.3,207.6 539.9,207.6 540.6,207.0 541.2,206.1 541.8,205.5 542.5,204.8 543.1,204.5 543.7,203.8 544.3,203.1 545.0,202.6 545.6,202.1 546.2,201.6 546.8,201.2 547.5,200.8 548.1,200.1 548.7,200.0 549.3,199.2 550.0,198.9 550.6,198.4 551.2,197.6 551.9,196.9 552.5,196.5 553.1,196.3 553.7,195.8 554.4,195.4 555.0,195.2 555.6,194.9 556.2,194.6 556.9,194.1 557.5,194.0 558.1,193.8 558.7,193.3 559.4,193.0 560.0,192.8 560.6,192.2 561.3,191.9 561.9,191.7 562.5,191.6 563.1,191.5 563.8,191.1 564.4,190.9 565.0,190.7 565.6,190.2 566.3,190.3 566.9,190.1 567.5,189.9 568.1,189.8 568.8,189.3 569.4,189.0 570.0,189.0 570.7,189.2 571.3,188.8 571.9,188.6 572.5,188.4 573.2,188.5 573.8,188.3 574.4,188.5 575.0,188.3 575.7,188.2 576.3,188.0 576.9,187.9 577.5,187.9 578.2,187.7 578.8,187.3 579.4,187.0 580.0,187.1 580.7,187.3 581.3,186.9 581.9,186.7 582.6,186.6 583.2,186.8 583.8,186.6 584.4,186.5 585.1,186.3 585.7,186.4 586.3,185.9 586.9,185.8 587.6,186.2 588.2,185.9 588.8,186.2 589.4,186.1 590.1,186.0 590.7,185.8 591.3,185.7 592.0,185.6 592.6,185.5 593.2,185.8 593.8,185.6 594.5,185.2 595.1,185.4 595.7,185.0 596.3,185.2 597.0,185.3 597.6,184.7 598.2,184.8 598.8,184.4 599.5,184.4 600.1,184.2 600.7,183.7 601.4,183.5 602.0,183.7 602.6,183.5 603.2,183.3 603.9,183.5 604.5,183.3 605.1,183.1 605.7,183.3 606.4,183.2 607.0,183.4 607.6,183.5 608.2,183.3 608.9,183.5 609.5,183.2 610.1,183.1 610.8,183.1 611.4,183.4 612.0,183.2 612.6,183.3 613.3,183.5 613.9,183.3 614.5,183.5 615.1,183.4 615.8,183.7 616.4,183.7 617.0,183.9 617.6,184.0 618.3,183.8 618.9,183.7 619.5,184.2 620.1,184.4 620.8,184.4 621.4,184.6 622.0,184.7 622.7,184.6 623.3,184.8 623.9,185.1 624.5,185.2 625.2,185.2 625.8,185.3 626.4,185.3 627.0,185.4 627.7,185.5 628.3,185.3 628.9,185.1 629.5,185.1 630.2,185.2 630.8,185.0 631.4,184.7 632.1,184.5 632.7,184.2 633.3,183.8 633.9,183.3 634.6,183.0 635.2,182.7 635.8,182.5 636.4,182.0 637.1,181.7 637.7,181.7 638.3,181.3 638.9,180.8 639.6,180.4 640.2,180.3 640.8,180.2 641.5,180.0 642.1,179.8 642.7,179.8 643.3,179.8 644.0,179.6 644.6,179.3 645.2,179.1 645.8,178.9 646.5,179.0 647.1,178.6 647.7,178.7 648.3,178.6 649.0,178.4 649.6,178.3 650.2,177.8 650.9,177.7 651.5,177.5 652.1,177.7 652.7,177.2 653.4,176.9 654.0,176.5 654.6,176.2 655.2,175.8 655.9,175.4 656.5,174.9 657.1,174.5 657.7,173.7 658.4,173.3 659.0,173.1 659.6,173.0 660.2,172.4 660.9,172.2 661.5,172.0 662.1,172.3 662.8,172.5 663.4,172.8 664.0,172.8 664.6,172.7 665.3,172.1 665.9,171.6 666.5,171.2 667.1,170.8 667.8,170.7 668.4,170.2 669.0,169.8 669.6,169.3 670.3,168.9 670.9,168.5 671.5,167.9 672.2,167.3 672.8,167.0 673.4,167.1 674.0,167.0 674.7,166.9 675.3,166.7 675.9,166.7 676.5,166.9 677.2,167.1 677.8,166.8 678.4,166.8 679.0,166.5 679.7,166.4 680.3,166.1 680.9,166.0 681.6,165.8 682.2,165.4 682.8,165.3 683.4,165.0 684.1,164.6 684.7,164.6 685.3,164.2 685.9,164.0 686.6,164.1 687.2,164.1 687.8,163.9 688.4,163.8 689.1,163.8 689.7,163.6 690.3,163.6 691.0,163.6 691.6,163.5 692.2,163.3 692.8,163.5 693.5,163.2 694.1,163.0 694.7,162.9 695.3,162.6 696.0,162.7 696.6,162.5 697.2,162.5 697.8,162.3 698.5,162.0 699.1,162.0 699.7,161.9 700.3,161.6 701.0,161.4 701.6,161.0 702.2,160.5 702.9,160.4 703.5,160.3 704.1,160.1 704.7,160.0 705.4,160.1 706.0,159.9 706.6,160.1 707.2,159.9 707.9,159.6 708.5,159.8 709.1,159.7 709.7,159.8 710.4,159.6 711.0,159.5 711.6,159.7 712.3,159.6 712.9,159.6 713.5,159.5 714.1,159.4 714.8,159.4 715.4,159.4 716.0,159.0 716.6,158.8 717.3,158.7 717.9,158.6 718.5,158.6 719.1,158.4 719.8,158.3 720.4,158.0 721.0,157.9 721.7,157.9 722.3,157.4 722.9,156.9 723.5,156.7 724.2,156.5 724.8,156.5 725.4,155.9 726.0,155.7 726.7,155.8 727.3,155.6 727.9,155.0 728.5,154.8 729.2,154.7 729.8,153.9 730.4,153.5 731.1,153.2 731.7,152.8 732.3,152.4 732.9,151.8 733.6,151.2 734.2,150.6 734.8,150.1 735.4,149.9 736.1,149.9 736.7,149.8 737.3,150.2 737.9,150.6 738.6,151.0 739.2,151.0 739.8,151.5 740.4,151.4 741.1,151.3 741.7,151.5 742.3,151.6 743.0,151.9 743.6,152.1 744.2,152.2 744.8,152.5 745.5,152.6 746.1,152.7 746.7,152.7 747.3,152.9 748.0,152.9 748.6,152.8 749.2,152.9 749.8,153.3 750.5,153.5 751.1,153.7 751.7,153.6 752.4,153.8 753.0,153.8 753.6,153.7 754.2,153.6 754.9,153.9 755.5,154.1 756.1,154.1 756.7,154.1 757.4,154.1 758.0,154.3 758.6,154.4 759.2,154.4 759.9,154.6 760.5,154.9" fill="none" stroke="#8c564b" stroke-width="1.35" stroke-linejoin="round" stroke-linecap="butt"/>
<path d="M510.50 232.50v3.00M552.17 232.50v3.00M593.83 232.50v3.00M635.50 232.50v3.00M677.17 232.50v3.00M718.83 232.50v3.00M760.50 232.50v3.00M498.00 154.20h-3.00M498.00 172.85h-3.00M498.00 191.50h-3.00M498.00 210.15h-3.00M498.00 228.80h-3.00" stroke="#000" stroke-width="0.85" fill="none"/>
<rect x="498.00" y="143.40" width="275.20" height="89.10" fill="none" stroke="#000" stroke-width="0.95"/>
<text x="510.50" y="244.50" font-size="9.21" text-anchor="middle" textLength="4.85" lengthAdjust="spacingAndGlyphs">0</text>
<text x="552.17" y="244.50" font-size="9.21" text-anchor="middle" textLength="9.70" lengthAdjust="spacingAndGlyphs">10</text>
<text x="593.83" y="244.50" font-size="9.21" text-anchor="middle" textLength="9.70" lengthAdjust="spacingAndGlyphs">20</text>
<text x="635.50" y="244.50" font-size="9.21" text-anchor="middle" textLength="9.70" lengthAdjust="spacingAndGlyphs">30</text>
<text x="677.17" y="244.50" font-size="9.21" text-anchor="middle" textLength="9.70" lengthAdjust="spacingAndGlyphs">40</text>
<text x="718.83" y="244.50" font-size="9.21" text-anchor="middle" textLength="9.70" lengthAdjust="spacingAndGlyphs">50</text>
<text x="760.50" y="244.50" font-size="9.21" text-anchor="middle" textLength="9.70" lengthAdjust="spacingAndGlyphs">60</text>
<text x="492.00" y="157.20" font-size="9.21" text-anchor="end" textLength="18.26" lengthAdjust="spacingAndGlyphs">1.00</text>
<text x="492.00" y="175.85" font-size="9.21" text-anchor="end" textLength="18.26" lengthAdjust="spacingAndGlyphs">0.75</text>
<text x="492.00" y="194.50" font-size="9.21" text-anchor="end" textLength="18.26" lengthAdjust="spacingAndGlyphs">0.50</text>
<text x="492.00" y="213.15" font-size="9.21" text-anchor="end" textLength="18.26" lengthAdjust="spacingAndGlyphs">0.25</text>
<text x="492.00" y="231.80" font-size="9.21" text-anchor="end" textLength="18.26" lengthAdjust="spacingAndGlyphs">0.00</text>
<text x="545.8" y="138.6" font-size="10.38" textLength="176.3" lengthAdjust="spacingAndGlyphs">Synaptic Weight Evolution for <tspan font-style="italic">Ens</tspan> +</text>
<text x="435.70" y="140.20" font-size="13.00" text-anchor="start" class="t">(d)</text>
<text x="469.0" y="188.1" font-size="8.79" text-anchor="middle" textLength="75.5" lengthAdjust="spacingAndGlyphs" transform="rotate(-90 469.0 188.1)">Conductance[<tspan font-style="italic">mS</tspan>]</text>
<path d="M510.50 264.50V354.10M552.17 264.50V354.10M593.83 264.50V354.10M635.50 264.50V354.10M677.17 264.50V354.10M718.83 264.50V354.10M760.50 264.50V354.10M498.00 274.40H773.20M498.00 293.30H773.20M498.00 312.20H773.20M498.00 331.10H773.20M498.00 350.00H773.20" stroke="#b0b0b0" stroke-width="0.8" fill="none"/>
<polyline clip-path="url(#ce)" points="510.5,331.1 511.1,331.3 511.8,331.0 512.4,331.2 513.0,331.8 513.6,332.0 514.3,332.3 514.9,332.9 515.5,333.4 516.1,333.4 516.8,334.1 517.4,334.6 518.0,334.9 518.6,335.3 519.3,335.7 519.9,336.3 520.5,337.0 521.2,337.6 521.8,338.3 522.4,338.8 523.0,339.3 523.7,339.8 524.3,339.9 524.9,340.2 525.5,340.1 526.2,339.9 526.8,339.6 527.4,339.9 528.0,339.9 528.7,340.3 529.3,340.2 529.9,341.1 530.6,341.8 531.2,342.5 531.8,343.4 532.4,344.3 533.1,345.5 533.7,346.6 534.3,347.5 534.9,348.4 535.6,349.3 536.2,350.0" fill="none" stroke="#1f77b4" stroke-width="1.35" stroke-linejoin="round" stroke-linecap="butt"/>
<polyline clip-path="url(#ce)" points="510.5,278.2 511.1,278.5 511.8,279.0 512.4,279.5 513.0,279.8 513.6,280.1 514.3,280.7 514.9,281.1 515.5,281.4 516.1,281.9 516.8,282.0 517.4,282.3 518.0,282.9 518.6,283.3 519.3,283.8 519.9,284.7 520.5,285.3 521.2,285.6 521.8,286.2 522.4,286.8 523.0,287.2 523.7,287.9 524.3,288.7 524.9,289.7 525.5,290.5 526.2,291.4 526.8,292.2 527.4,293.1 528.0,293.5 528.7,293.9 529.3,294.7 529.9,294.6 530.6,294.9 531.2,295.3 531.8,295.8 532.4,296.7 533.1,297.8 533.7,298.3 534.3,299.3 534.9,299.8 535.6,300.5 536.2,301.6 536.8,302.3 537.4,303.3 538.1,304.0 538.7,304.9 539.3,305.7 539.9,306.4 540.6,306.9 541.2,307.0 541.8,307.7 542.5,307.9 543.1,308.4 543.7,308.7 544.3,309.5 545.0,309.9 545.6,310.2 546.2,310.9 546.8,311.3 547.5,311.7 548.1,312.4 548.7,313.0 549.3,313.6 550.0,314.2 550.6,314.8 551.2,315.4 551.9,315.7 552.5,316.4 553.1,317.0 553.7,317.5 554.4,318.0 555.0,318.3 555.6,319.0 556.2,319.7 556.9,320.4 557.5,321.1 558.1,321.7 558.7,322.4 559.4,323.1 560.0,323.8 560.6,324.4 561.3,325.2 561.9,326.0 562.5,326.7 563.1,327.2 563.8,328.1 564.4,328.5 565.0,329.1 565.6,329.9 566.3,330.4 566.9,331.1 567.5,331.9 568.1,332.6 568.8,333.5 569.4,334.1 570.0,334.8 570.7,335.1 571.3,335.5 571.9,335.9 572.5,336.4 573.2,337.1 573.8,338.2 574.4,338.8 575.0,339.6 575.7,340.4 576.3,341.0 576.9,341.8 577.5,342.6 578.2,343.5 578.8,344.2 579.4,345.3 580.0,345.9 580.7,346.3 581.3,347.2 581.9,348.2 582.6,349.2 583.2,350.0" fill="none" stroke="#ff7f0e" stroke-width="1.35" stroke-linejoin="round" stroke-linecap="butt"/>
<polyline clip-path="url(#ce)" points="510.5,342.4 511.1,342.6 511.8,342.4 512.4,342.4 513.0,342.6 513.6,342.7 514.3,342.9 514.9,343.3 515.5,343.6 516.1,344.2 516.8,344.5 517.4,344.9 518.0,345.9 518.6,346.1 519.3,346.4 519.9,347.0 520.5,347.6 521.2,348.1 521.8,348.7 522.4,349.1 523.0,349.8 523.7,350.0 524.3,350.0 524.9,350.0 525.5,350.0 526.2,350.0 526.8,350.0 527.4,350.0 528.0,350.0 528.7,350.0 529.3,350.0 529.9,350.0 530.6,350.0 531.2,350.0 531.8,350.0 532.4,350.0 533.1,350.0 533.7,350.0 534.3,350.0 534.9,350.0 535.6,350.0 536.2,350.0 536.8,350.0 537.4,350.0 538.1,350.0 538.7,350.0 539.3,350.0 539.9,350.0 540.6,350.0" fill="none" stroke="#2ca02c" stroke-width="1.35" stroke-linejoin="round" stroke-linecap="butt"/>
<polyline clip-path="url(#ce)" points="510.5,314.5 511.1,314.9 511.8,315.1 512.4,315.6 513.0,316.1 513.6,316.5 514.3,317.1 514.9,317.7 515.5,318.2 516.1,318.8 516.8,319.3 517.4,319.9 518.0,320.6 518.6,321.4 519.3,321.8 519.9,322.1 520.5,322.8 521.2,323.4 521.8,323.9 522.4,324.5 523.0,325.1 523.7,325.9 524.3,327.0 524.9,327.8 525.5,328.2 526.2,328.3 526.8,328.6 527.4,328.8 528.0,329.4 528.7,330.2 529.3,330.5 529.9,331.2 530.6,331.8 531.2,332.6 531.8,333.4 532.4,334.4 533.1,335.4 533.7,336.2 534.3,337.7 534.9,338.9 535.6,340.3 536.2,341.2 536.8,342.4 537.4,343.3 538.1,344.7 538.7,345.7 539.3,346.7 539.9,348.5 540.6,350.0 541.2,350.0 541.8,350.0 542.5,350.0 543.1,350.0 543.7,350.0 544.3,350.0 545.0,350.0 545.6,350.0 546.2,350.0 546.8,350.0 547.5,350.0 548.1,350.0 548.7,350.0 549.3,350.0 550.0,350.0 550.6,350.0 551.2,350.0 551.9,350.0 552.5,350.0 553.1,350.0 553.7,350.0 554.4,350.0 555.0,350.0 555.6,350.0 556.2,350.0 556.9,350.0 557.5,350.0 558.1,350.0 558.7,350.0 559.4,350.0 560.0,350.0 560.6,350.0 561.3,350.0 561.9,350.0 562.5,350.0 563.1,350.0 563.8,350.0 564.4,350.0 565.0,350.0 565.6,350.0 566.3,350.0 566.9,350.0 567.5,350.0 568.1,350.0 568.8,350.0 569.4,350.0 570.0,350.0 570.7,350.0 571.3,350.0 571.9,350.0 572.5,350.0 573.2,350.0 573.8,350.0 574.4,350.0 575.0,350.0 575.7,350.0 576.3,350.0 576.9,350.0 577.5,350.0 578.2,350.0 578.8,350.0 579.4,350.0 580.0,350.0 580.7,350.0 581.3,350.0 581.9,350.0 582.6,350.0 583.2,350.0 583.8,350.0 584.4,350.0 585.1,350.0 585.7,350.0 586.3,350.0 586.9,350.0 587.6,350.0 588.2,350.0 588.8,350.0 589.4,350.0 590.1,350.0 590.7,350.0 591.3,350.0 592.0,350.0 592.6,350.0 593.2,350.0 593.8,350.0 594.5,350.0 595.1,350.0 595.7,350.0 596.3,350.0 597.0,350.0 597.6,350.0 598.2,350.0 598.8,350.0 599.5,350.0 600.1,350.0 600.7,350.0 601.4,350.0 602.0,350.0 602.6,350.0 603.2,350.0 603.9,350.0 604.5,350.0 605.1,350.0 605.7,350.0 606.4,350.0 607.0,350.0 607.6,350.0 608.2,350.0 608.9,350.0 609.5,350.0 610.1,350.0 610.8,350.0 611.4,350.0 612.0,350.0 612.6,350.0 613.3,350.0 613.9,350.0 614.5,350.0 615.1,350.0 615.8,350.0 616.4,350.0 617.0,350.0 617.6,350.0 618.3,350.0 618.9,350.0 619.5,350.0 620.1,350.0 620.8,350.0 621.4,350.0 622.0,350.0 622.7,350.0 623.3,350.0 623.9,350.0 624.5,350.0 625.2,350.0 625.8,350.0 626.4,350.0 627.0,350.0 627.7,350.0 628.3,350.0 628.9,350.0 629.5,350.0 630.2,350.0 630.8,350.0 631.4,350.0 632.1,350.0 632.7,350.0 633.3,350.0 633.9,350.0 634.6,350.0 635.2,350.0 635.8,350.0 636.4,350.0 637.1,350.0 637.7,350.0 638.3,350.0 638.9,350.0 639.6,350.0 640.2,350.0 640.8,350.0 641.5,350.0 642.1,350.0 642.7,350.0 643.3,350.0 644.0,350.0 644.6,350.0 645.2,350.0 645.8,350.0 646.5,350.0 647.1,350.0 647.7,350.0 648.3,350.0 649.0,350.0 649.6,350.0 650.2,350.0 650.9,350.0 651.5,350.0 652.1,350.0 652.7,350.0 653.4,350.0 654.0,350.0 654.6,350.0 655.2,350.0 655.9,350.0 656.5,350.0 657.1,350.0 657.7,350.0 658.4,350.0 659.0,350.0 659.6,350.0 660.2,350.0 660.9,350.0 661.5,350.0 662.1,350.0 662.8,350.0 663.4,350.0 664.0,350.0 664.6,350.0 665.3,350.0 665.9,350.0 666.5,350.0 667.1,350.0 667.8,350.0 668.4,350.0 669.0,350.0 669.6,350.0 670.3,350.0 670.9,350.0 671.5,350.0 672.2,350.0 672.8,350.0 673.4,350.0 674.0,350.0 674.7,350.0 675.3,350.0 675.9,350.0 676.5,350.0 677.2,350.0 677.8,350.0 678.4,350.0 679.0,350.0 679.7,350.0 680.3,350.0 680.9,350.0 681.6,350.0 682.2,350.0 682.8,350.0 683.4,350.0 684.1,350.0 684.7,350.0 685.3,350.0 685.9,350.0 686.6,350.0 687.2,350.0 687.8,350.0 688.4,350.0 689.1,350.0 689.7,350.0 690.3,350.0 691.0,350.0 691.6,350.0 692.2,350.0 692.8,350.0 693.5,350.0 694.1,350.0 694.7,350.0 695.3,350.0 696.0,350.0 696.6,350.0 697.2,350.0 697.8,350.0 698.5,350.0 699.1,350.0 699.7,350.0 700.3,350.0 701.0,350.0 701.6,350.0 702.2,350.0 702.9,350.0 703.5,350.0 704.1,350.0 704.7,350.0 705.4,350.0 706.0,350.0 706.6,350.0 707.2,350.0 707.9,350.0 708.5,350.0 709.1,350.0 709.7,350.0 710.4,350.0 711.0,350.0 711.6,350.0 712.3,350.0 712.9,350.0 713.5,350.0 714.1,350.0 714.8,350.0 715.4,350.0 716.0,350.0 716.6,350.0 717.3,350.0 717.9,350.0 718.5,350.0 719.1,350.0 719.8,350.0 720.4,350.0 721.0,350.0 721.7,350.0 722.3,350.0 722.9,350.0 723.5,350.0 724.2,350.0 724.8,350.0 725.4,350.0 726.0,350.0 726.7,350.0 727.3,350.0 727.9,350.0 728.5,350.0 729.2,350.0 729.8,350.0 730.4,350.0 731.1,350.0 731.7,350.0 732.3,350.0 732.9,350.0 733.6,350.0 734.2,350.0 734.8,350.0 735.4,350.0 736.1,350.0 736.7,350.0 737.3,350.0 737.9,350.0 738.6,350.0 739.2,350.0 739.8,350.0 740.4,350.0 741.1,350.0 741.7,350.0 742.3,350.0 743.0,350.0 743.6,350.0 744.2,350.0 744.8,350.0 745.5,350.0 746.1,350.0 746.7,350.0 747.3,350.0 748.0,350.0 748.6,350.0 749.2,350.0 749.8,350.0 750.5,350.0 751.1,350.0 751.7,350.0 752.4,350.0 753.0,350.0 753.6,350.0 754.2,350.0 754.9,350.0 755.5,350.0 756.1,350.0 756.7,350.0 757.4,350.0 758.0,350.0 758.6,350.0 759.2,350.0 759.9,350.0 760.5,350.0" fill="none" stroke="#d62728" stroke-width="1.35" stroke-linejoin="round" stroke-linecap="butt"/>
<polyline clip-path="url(#ce)" points="510.5,297.1 511.1,296.8 511.8,296.6 512.4,296.2 513.0,296.0 513.6,295.4 514.3,295.1 514.9,294.9 515.5,294.7 516.1,294.3 516.8,294.4 517.4,294.3 518.0,294.1 518.6,294.2 519.3,294.0 519.9,293.8 520.5,293.2 521.2,293.3 521.8,292.8 522.4,292.6 523.0,292.6 523.7,292.1 524.3,291.3 524.9,290.8 525.5,291.0 526.2,290.9 526.8,290.9 527.4,291.0 528.0,290.8 528.7,290.4 529.3,290.6 529.9,290.4 530.6,290.5 531.2,290.5 531.8,290.4 532.4,290.4 533.1,290.4 533.7,290.3 534.3,290.3 534.9,290.4 535.6,290.2 536.2,290.0 536.8,290.2 537.4,290.4 538.1,290.2 538.7,290.2 539.3,290.1 539.9,290.0 540.6,289.8 541.2,290.0 541.8,290.0 542.5,289.9 543.1,289.7 543.7,290.0 544.3,289.8 545.0,289.7 545.6,289.4 546.2,289.6 546.8,289.9 547.5,289.6 548.1,289.7 548.7,289.4 549.3,289.1 550.0,288.9 550.6,288.8 551.2,289.1 551.9,289.0 552.5,289.1 553.1,289.5 553.7,289.1 554.4,289.0 555.0,289.0 555.6,289.3 556.2,289.5 556.9,289.6 557.5,290.2 558.1,290.2 558.7,290.1 559.4,290.1 560.0,290.3 560.6,290.2 561.3,290.3 561.9,290.4 562.5,290.6 563.1,290.7 563.8,290.8 564.4,290.6 565.0,290.7 565.6,290.7 566.3,290.7 566.9,290.8 567.5,290.7 568.1,290.6 568.8,291.1 569.4,291.4 570.0,291.4 570.7,291.2 571.3,291.6 571.9,291.4 572.5,291.7 573.2,291.6 573.8,291.7 574.4,292.1 575.0,292.5 575.7,292.3 576.3,292.5 576.9,292.7 577.5,292.7 578.2,292.8 578.8,292.6 579.4,292.4 580.0,292.2 580.7,292.6 581.3,292.4 581.9,292.4 582.6,292.4 583.2,292.6 583.8,292.3 584.4,292.4 585.1,292.4 585.7,292.5 586.3,292.5 586.9,292.7 587.6,292.7 588.2,292.9 588.8,292.9 589.4,292.6 590.1,292.9 590.7,292.7 591.3,292.7 592.0,293.2 592.6,293.0 593.2,293.3 593.8,293.5 594.5,293.7 595.1,293.8 595.7,293.8 596.3,293.6 597.0,293.6 597.6,294.1 598.2,294.0 598.8,293.7 599.5,293.6 600.1,293.5 600.7,293.4 601.4,293.1 602.0,293.1 602.6,293.1 603.2,293.2 603.9,293.6 604.5,293.6 605.1,293.3 605.7,293.3 606.4,293.4 607.0,293.4 607.6,293.3 608.2,293.2 608.9,293.3 609.5,293.5 610.1,293.5 610.8,293.5 611.4,293.4 612.0,293.6 612.6,293.9 613.3,294.0 613.9,293.9 614.5,294.0 615.1,294.1 615.8,294.5 616.4,294.7 617.0,294.9 617.6,294.8 618.3,294.8 618.9,294.7 619.5,294.9 620.1,294.9 620.8,295.0 621.4,295.4 622.0,295.6 622.7,295.1 623.3,295.3 623.9,295.3 624.5,295.5 625.2,295.6 625.8,295.6 626.4,295.6 627.0,295.2 627.7,295.1 628.3,295.2 628.9,295.4 629.5,295.2 630.2,295.2 630.8,295.1 631.4,294.9 632.1,294.9 632.7,294.9 633.3,294.9 633.9,294.8 634.6,295.0 635.2,294.9 635.8,295.0 636.4,294.6 637.1,294.7 637.7,294.5 638.3,294.4 638.9,294.2 639.6,293.8 640.2,293.9 640.8,294.3 641.5,294.6 642.1,294.7 642.7,294.5 643.3,294.8 644.0,295.1 644.6,295.1 645.2,294.6 645.8,294.4 646.5,294.3 647.1,294.3 647.7,294.0 648.3,294.0 649.0,294.2 649.6,294.3 650.2,294.5 650.9,294.6 651.5,294.6 652.1,295.0 652.7,294.6 653.4,294.2 654.0,293.7 654.6,293.4 655.2,292.7 655.9,292.5 656.5,292.3 657.1,291.8 657.7,291.1 658.4,290.5 659.0,290.0 659.6,289.5 660.2,288.9 660.9,288.7 661.5,288.7 662.1,288.8 662.8,289.0 663.4,288.9 664.0,288.9 664.6,288.8 665.3,288.8 665.9,289.0 666.5,288.9 667.1,288.8 667.8,288.8 668.4,289.0 669.0,288.8 669.6,288.2 670.3,287.9 670.9,287.3 671.5,286.7 672.2,286.2 672.8,285.8 673.4,285.7 674.0,285.7 674.7,285.3 675.3,285.4 675.9,285.5 676.5,285.3 677.2,285.2 677.8,285.5 678.4,285.3 679.0,285.5 679.7,285.6 680.3,285.7 680.9,285.9 681.6,285.8 682.2,285.2 682.8,284.5 683.4,284.2 684.1,283.5 684.7,282.9 685.3,282.3 685.9,282.1 686.6,282.2 687.2,282.5 687.8,282.8 688.4,283.0 689.1,283.3 689.7,283.4 690.3,283.3 691.0,283.4 691.6,283.5 692.2,283.4 692.8,283.6 693.5,283.8 694.1,283.5 694.7,283.3 695.3,282.9 696.0,282.5 696.6,282.6 697.2,282.2 697.8,282.0 698.5,282.0 699.1,282.0 699.7,281.7 700.3,281.6 701.0,281.3 701.6,281.1 702.2,281.0 702.9,281.0 703.5,281.0 704.1,281.0 704.7,281.1 705.4,280.8 706.0,280.6 706.6,280.4 707.2,280.1 707.9,279.8 708.5,279.5 709.1,279.3 709.7,279.4 710.4,279.3 711.0,278.9 711.6,278.8 712.3,278.6 712.9,278.1 713.5,278.0 714.1,278.1 714.8,277.9 715.4,277.8 716.0,278.0 716.6,278.1 717.3,277.8 717.9,278.0 718.5,278.1 719.1,278.3 719.8,278.1 720.4,278.0 721.0,278.0 721.7,277.7 722.3,277.5 722.9,277.4 723.5,277.2 724.2,277.0 724.8,276.8 725.4,276.6 726.0,276.4 726.7,276.2 727.3,275.9 727.9,275.1 728.5,274.4 729.2,273.8 729.8,273.1 730.4,272.6 731.1,271.7 731.7,271.1 732.3,271.0 732.9,271.2 733.6,270.7 734.2,270.8 734.8,270.6 735.4,270.5 736.1,270.7 736.7,270.9 737.3,271.2 737.9,271.4 738.6,271.5 739.2,271.6 739.8,271.6 740.4,271.8 741.1,271.9 741.7,272.1 742.3,272.0 743.0,272.0 743.6,272.2 744.2,272.3 744.8,272.2 745.5,272.1 746.1,272.3 746.7,272.1 747.3,272.1 748.0,271.9 748.6,272.1 749.2,272.0 749.8,272.0 750.5,272.0 751.1,272.0 751.7,271.9 752.4,271.9 753.0,272.2 753.6,272.1 754.2,272.1 754.9,272.1 755.5,272.1 756.1,272.0 756.7,272.2 757.4,272.2 758.0,272.3 758.6,272.6 759.2,272.8 759.9,272.9 760.5,273.3" fill="none" stroke="#9467bd" stroke-width="1.35" stroke-linejoin="round" stroke-linecap="butt"/>
<polyline clip-path="url(#ce)" points="510.5,280.4 511.1,281.1 511.8,281.5 512.4,282.1 513.0,282.2 513.6,282.5 514.3,282.5 514.9,282.7 515.5,282.8 516.1,282.9 516.8,282.9 517.4,283.0 518.0,283.3 518.6,283.4 519.3,283.6 519.9,283.9 520.5,283.8 521.2,284.1 521.8,284.0 522.4,284.0 523.0,284.2 523.7,283.3 524.3,282.4 524.9,281.6 525.5,281.5 526.2,281.9 526.8,282.4 527.4,282.8 528.0,282.8 528.7,282.8 529.3,282.7 529.9,282.8 530.6,282.8 531.2,283.1 531.8,283.4 532.4,283.7 533.1,284.3 533.7,284.6 534.3,284.8 534.9,285.0 535.6,285.1 536.2,285.5 536.8,285.6 537.4,285.6 538.1,285.9 538.7,286.0 539.3,286.4 539.9,286.6 540.6,286.9 541.2,287.1 541.8,287.1 542.5,287.3 543.1,287.7 543.7,288.0 544.3,288.2 545.0,288.4 545.6,288.5 546.2,288.6 546.8,288.7 547.5,288.8 548.1,288.9 548.7,288.8 549.3,288.5 550.0,288.2 550.6,288.2 551.2,288.0 551.9,288.0 552.5,288.3 553.1,288.6 553.7,288.6 554.4,289.3 555.0,289.2 555.6,289.4 556.2,289.4 556.9,289.8 557.5,289.9 558.1,289.8 558.7,289.9 559.4,290.0 560.0,290.3 560.6,290.5 561.3,290.6 561.9,290.4 562.5,290.2 563.1,290.2 563.8,290.6 564.4,290.9 565.0,290.8 565.6,291.0 566.3,291.0 566.9,291.1 567.5,291.1 568.1,290.8 568.8,291.2 569.4,291.2 570.0,291.5 570.7,291.5 571.3,291.5 571.9,291.4 572.5,291.3 573.2,291.6 573.8,291.9 574.4,292.0 575.0,292.1 575.7,292.2 576.3,292.2 576.9,292.5 577.5,292.6 578.2,292.7 578.8,292.6 579.4,292.5 580.0,292.5 580.7,292.6 581.3,292.6 581.9,292.6 582.6,292.5 583.2,292.4 583.8,292.6 584.4,292.7 585.1,292.7 585.7,292.5 586.3,292.6 586.9,292.7 587.6,293.0 588.2,292.9 588.8,293.1 589.4,293.0 590.1,293.2 590.7,293.1 591.3,293.0 592.0,293.2 592.6,293.0 593.2,293.2 593.8,293.3 594.5,293.5 595.1,293.8 595.7,293.7 596.3,293.8 597.0,293.7 597.6,293.9 598.2,293.8 598.8,293.6 599.5,293.5 600.1,293.8 600.7,293.6 601.4,293.6 602.0,293.7 602.6,293.6 603.2,293.5 603.9,293.4 604.5,293.5 605.1,293.3 605.7,293.4 606.4,293.2 607.0,293.3 607.6,293.2 608.2,293.3 608.9,293.3 609.5,293.1 610.1,293.1 610.8,293.2 611.4,293.4 612.0,293.2 612.6,293.3 613.3,293.4 613.9,293.5 614.5,293.9 615.1,294.2 615.8,294.4 616.4,294.5 617.0,294.4 617.6,294.6 618.3,294.6 618.9,294.7 619.5,294.4 620.1,294.9 620.8,294.9 621.4,295.5 622.0,295.5 622.7,295.7 623.3,296.1 623.9,295.8 624.5,295.7 625.2,295.8 625.8,295.9 626.4,295.7 627.0,295.4 627.7,295.4 628.3,295.5 628.9,295.5 629.5,295.6 630.2,295.1 630.8,294.9 631.4,294.6 632.1,294.5 632.7,294.9 633.3,294.9 633.9,295.1 634.6,295.1 635.2,294.6 635.8,294.7 636.4,294.9 637.1,294.6 637.7,294.7 638.3,294.5 638.9,294.3 639.6,294.2 640.2,294.3 640.8,294.4 641.5,294.5 642.1,294.4 642.7,294.5 643.3,294.5 644.0,294.9 644.6,294.6 645.2,294.5 645.8,294.5 646.5,294.6 647.1,294.3 647.7,294.1 648.3,294.1 649.0,293.9 649.6,294.1 650.2,294.1 650.9,294.5 651.5,294.7 652.1,294.8 652.7,294.4 653.4,294.0 654.0,293.7 654.6,293.2 655.2,293.0 655.9,292.7 656.5,292.2 657.1,291.8 657.7,291.4 658.4,291.2 659.0,290.3 659.6,289.8 660.2,289.4 660.9,289.2 661.5,289.5 662.1,289.0 662.8,288.8 663.4,288.7 664.0,288.6 664.6,288.7 665.3,288.8 665.9,288.8 666.5,288.7 667.1,288.7 667.8,288.7 668.4,288.6 669.0,288.5 669.6,288.0 670.3,287.7 670.9,287.2 671.5,286.9 672.2,286.4 672.8,286.2 673.4,285.8 674.0,285.8 674.7,285.7 675.3,286.0 675.9,285.8 676.5,285.8 677.2,285.8 677.8,285.8 678.4,285.7 679.0,285.8 679.7,286.0 680.3,285.9 680.9,285.9 681.6,285.6 682.2,284.8 682.8,284.2 683.4,283.7 684.1,283.0 684.7,282.8 685.3,282.0 685.9,281.8 686.6,282.2 687.2,282.7 687.8,282.8 688.4,282.9 689.1,283.1 689.7,283.5 690.3,283.5 691.0,283.5 691.6,283.5 692.2,283.4 692.8,283.3 693.5,283.4 694.1,283.1 694.7,283.1 695.3,282.7 696.0,282.6 696.6,282.1 697.2,282.3 697.8,282.1 698.5,281.7 699.1,281.7 699.7,281.6 700.3,281.4 701.0,281.5 701.6,281.2 702.2,281.3 702.9,280.9 703.5,280.9 704.1,280.7 704.7,280.8 705.4,280.7 706.0,280.6 706.6,280.5 707.2,280.2 707.9,280.1 708.5,279.9 709.1,279.5 709.7,279.5 710.4,279.1 711.0,279.0 711.6,278.7 712.3,278.5 712.9,278.6 713.5,278.5 714.1,278.4 714.8,278.4 715.4,278.5 716.0,278.3 716.6,278.4 717.3,278.2 717.9,277.8 718.5,277.8 719.1,277.9 719.8,277.9 720.4,277.7 721.0,277.4 721.7,277.5 722.3,277.4 722.9,277.4 723.5,277.2 724.2,277.0 724.8,277.0 725.4,277.1 726.0,276.6 726.7,276.4 727.3,276.0 727.9,274.8 728.5,274.2 729.2,273.4 729.8,272.9 730.4,272.1 731.1,271.6 731.7,271.4 732.3,271.1 732.9,271.1 733.6,270.9 734.2,270.9 734.8,270.9 735.4,270.6 736.1,270.4 736.7,270.6 737.3,270.9 737.9,271.0 738.6,270.9 739.2,271.0 739.8,271.2 740.4,271.5 741.1,271.7 741.7,272.0 742.3,272.3 743.0,272.1 743.6,272.0 744.2,271.9 744.8,272.1 745.5,272.0 746.1,272.1 746.7,272.0 747.3,272.0 748.0,271.9 748.6,271.7 749.2,271.9 749.8,272.2 750.5,272.2 751.1,272.3 751.7,272.4 752.4,272.3 753.0,272.2 753.6,272.0 754.2,272.1 754.9,272.4 755.5,272.3 756.1,272.4 756.7,272.1 757.4,272.0 758.0,272.1 758.6,272.0 759.2,272.3 759.9,272.6 760.5,273.1" fill="none" stroke="#8c564b" stroke-width="1.35" stroke-linejoin="round" stroke-linecap="butt"/>
<path d="M510.50 354.10v3.00M552.17 354.10v3.00M593.83 354.10v3.00M635.50 354.10v3.00M677.17 354.10v3.00M718.83 354.10v3.00M760.50 354.10v3.00M498.00 274.40h-3.00M498.00 293.30h-3.00M498.00 312.20h-3.00M498.00 331.10h-3.00M498.00 350.00h-3.00" stroke="#000" stroke-width="0.85" fill="none"/>
<rect x="498.00" y="264.50" width="275.20" height="89.60" fill="none" stroke="#000" stroke-width="0.95"/>
<text x="510.50" y="366.10" font-size="9.21" text-anchor="middle" textLength="4.85" lengthAdjust="spacingAndGlyphs">0</text>
<text x="552.17" y="366.10" font-size="9.21" text-anchor="middle" textLength="9.70" lengthAdjust="spacingAndGlyphs">10</text>
<text x="593.83" y="366.10" font-size="9.21" text-anchor="middle" textLength="9.70" lengthAdjust="spacingAndGlyphs">20</text>
<text x="635.50" y="366.10" font-size="9.21" text-anchor="middle" textLength="9.70" lengthAdjust="spacingAndGlyphs">30</text>
<text x="677.17" y="366.10" font-size="9.21" text-anchor="middle" textLength="9.70" lengthAdjust="spacingAndGlyphs">40</text>
<text x="718.83" y="366.10" font-size="9.21" text-anchor="middle" textLength="9.70" lengthAdjust="spacingAndGlyphs">50</text>
<text x="760.50" y="366.10" font-size="9.21" text-anchor="middle" textLength="9.70" lengthAdjust="spacingAndGlyphs">60</text>
<text x="492.00" y="277.40" font-size="9.21" text-anchor="end" textLength="18.26" lengthAdjust="spacingAndGlyphs">1.00</text>
<text x="492.00" y="296.30" font-size="9.21" text-anchor="end" textLength="18.26" lengthAdjust="spacingAndGlyphs">0.75</text>
<text x="492.00" y="315.20" font-size="9.21" text-anchor="end" textLength="18.26" lengthAdjust="spacingAndGlyphs">0.50</text>
<text x="492.00" y="334.10" font-size="9.21" text-anchor="end" textLength="18.26" lengthAdjust="spacingAndGlyphs">0.25</text>
<text x="492.00" y="353.00" font-size="9.21" text-anchor="end" textLength="18.26" lengthAdjust="spacingAndGlyphs">0.00</text>
<text x="545.7" y="259.4" font-size="10.38" textLength="176.5" lengthAdjust="spacingAndGlyphs">Synaptic Weight Evolution for <tspan font-style="italic">Ens</tspan> −</text>
<text x="435.60" y="256.90" font-size="13.00" text-anchor="start" class="t">(e)</text>
<text x="469.1" y="309.0" font-size="8.79" text-anchor="middle" textLength="75.8" lengthAdjust="spacingAndGlyphs" transform="rotate(-90 469.1 309.0)">Conductance[<tspan font-style="italic">mS</tspan>]</text>
<path d="M499.40 396.50V490.00M542.88 396.50V490.00M586.37 396.50V490.00M629.85 396.50V490.00M673.33 396.50V490.00M716.82 396.50V490.00M760.30 396.50V490.00M486.50 424.10H773.30M486.50 460.20H773.30" stroke="#b0b0b0" stroke-width="0.8" fill="none"/>
<polyline clip-path="url(#cf)" points="499.4,423.7 499.6,423.2 499.8,423.8 500.0,423.5 500.1,423.7 500.3,424.2 500.5,423.1 500.7,423.6 500.9,423.8 501.1,423.6 501.3,424.3 501.5,424.1 501.6,423.7 501.8,423.9 502.0,423.4 502.2,423.4 502.4,423.8 502.6,423.9 502.8,424.5 502.9,423.6 503.1,423.3 503.3,423.8 503.5,423.8 503.7,424.0 503.9,423.7 504.1,423.6 504.2,424.3 504.4,423.4 504.6,424.2 504.8,423.5 505.0,424.0 505.2,423.7 505.4,423.2 505.6,423.8 505.7,423.6 505.9,424.2 506.1,423.4 506.3,424.8 506.5,423.7 506.7,423.8 506.9,423.9 507.0,423.6 507.2,424.4 507.4,423.5 507.6,423.0 507.8,423.5 508.0,424.1 508.2,424.1 508.4,423.9 508.5,423.5 508.7,424.0 508.9,423.7 509.1,423.3 509.3,423.6 509.5,423.2 509.7,424.2 509.8,423.6 510.0,423.2 510.2,424.0 510.4,423.5 510.6,423.6 510.8,424.2 511.0,424.0 511.1,423.1 511.3,423.8 511.5,423.5 511.7,423.6 511.9,424.0 512.1,423.1 512.3,423.7 512.5,423.3 512.6,423.7 512.8,423.7 513.0,423.6 513.2,423.9 513.4,423.9 513.6,423.7 513.8,423.7 513.9,423.5 514.1,423.6 514.3,424.2 514.5,423.0 514.7,423.8 514.9,424.0 515.1,424.1 515.3,424.2 515.4,423.2 515.6,424.0 515.8,423.8 516.0,424.0 516.2,423.6 516.4,423.9 516.6,423.4 516.7,423.7 516.9,423.9 517.1,423.7 517.3,423.3 517.5,423.9 517.7,423.9 517.9,423.9 518.0,423.7 518.2,423.9 518.4,423.6 518.6,423.6 518.8,423.4 519.0,424.1 519.2,423.6 519.4,423.8 519.5,424.0 519.7,423.6 519.9,424.1 520.1,424.0 520.3,423.0 520.5,424.2 520.7,423.7 520.8,423.1 521.0,423.8 521.2,423.8 521.4,424.1 521.6,423.5 521.8,423.7 522.0,423.7 522.2,423.5 522.3,423.2 522.5,423.4 522.7,424.2 522.9,423.9 523.1,423.8 523.3,423.2 523.5,423.9 523.6,424.4 523.8,423.4 524.0,423.6 524.2,423.9 524.4,423.7 524.6,424.0 524.8,423.9 524.9,423.8 525.1,423.2 525.3,423.3 525.5,423.4 525.7,424.1 525.9,424.3 526.1,423.3 526.3,424.3 526.4,423.7 526.6,424.1 526.8,424.1 527.0,424.2 527.2,423.5 527.4,424.0 527.6,423.7 527.7,423.6 527.9,423.9 528.1,423.8 528.3,423.9 528.5,423.6 528.7,422.9 528.9,423.3 529.1,424.3 529.2,423.7 529.4,423.9 529.6,424.5 529.8,423.8 530.0,423.9 530.2,423.2 530.4,424.4 530.5,423.4 530.7,423.8 530.9,423.5 531.1,424.1 531.3,423.7 531.5,423.7 531.7,423.7 531.8,424.3 532.0,423.9 532.2,424.4 532.4,423.5 532.6,423.2 532.8,423.6 533.0,423.5 533.2,423.5 533.3,423.4 533.5,423.7 533.7,423.9 533.9,423.4 534.1,423.8 534.3,424.0 534.5,423.9 534.6,423.8 534.8,423.6 535.0,423.4 535.2,424.1 535.4,423.8 535.6,424.3 535.8,424.4 536.0,424.0 536.1,423.5 536.3,424.4 536.5,424.3 536.7,424.0 536.9,423.3 537.1,423.7 537.3,424.7 537.4,423.8 537.6,424.3 537.8,424.4 538.0,423.7 538.2,423.7 538.4,424.2 538.6,423.1 538.7,423.4 538.9,423.3 539.1,424.1 539.3,423.6 539.5,423.3 539.7,424.2 539.9,423.2 540.1,423.5 540.2,424.5 540.4,424.3 540.6,423.5 540.8,423.6 541.0,423.1 541.2,423.9 541.4,423.5 541.5,423.9 541.7,424.2 541.9,423.6 542.1,423.1 542.3,424.4 542.5,423.9 542.7,422.9 542.9,423.4 543.0,422.9 543.2,424.0 543.4,423.8 543.6,424.3 543.8,423.7 544.0,423.6 544.2,423.5 544.3,424.3 544.5,423.5 544.7,423.7 544.9,423.9 545.1,423.7 545.3,423.4 545.5,423.7 545.6,423.8 545.8,423.9 546.0,424.2 546.2,424.0 546.4,423.8 546.6,423.4 546.8,424.3 547.0,423.2 547.1,424.1 547.3,424.8 547.5,422.9 547.7,424.5 547.9,423.5 548.1,423.6 548.3,423.4 548.4,423.9 548.6,423.2 548.8,423.6 549.0,423.8 549.2,423.9 549.4,423.6 549.6,424.2 549.8,423.6 549.9,423.7 550.1,423.2 550.3,423.6 550.5,423.6 550.7,423.0 550.9,423.5 551.1,423.6 551.2,424.0 551.4,424.2 551.6,424.1 551.8,424.0 552.0,423.2 552.2,423.9 552.4,423.8 552.5,424.4 552.7,423.8 552.9,423.0 553.1,422.6 553.3,423.3 553.5,423.1 553.7,424.1 553.9,423.6 554.0,423.6 554.2,424.3 554.4,424.0 554.6,424.4 554.8,423.9 555.0,423.8 555.2,424.5 555.3,423.9 555.5,424.0 555.7,423.6 555.9,424.1 556.1,423.8 556.3,423.7 556.5,423.7 556.7,423.8 556.8,423.4 557.0,424.1 557.2,423.6 557.4,423.6 557.6,423.9 557.8,423.9 558.0,424.0 558.1,423.6 558.3,423.6 558.5,424.2 558.7,424.0 558.9,423.9 559.1,423.6 559.3,423.1 559.4,423.8 559.6,423.7 559.8,424.0 560.0,424.1 560.2,424.2 560.4,423.9 560.6,423.8 560.8,423.8 560.9,423.7 561.1,423.6 561.3,423.8 561.5,423.6 561.7,423.0 561.9,423.4 562.1,423.9 562.2,423.4 562.4,423.6 562.6,424.0 562.8,423.3 563.0,423.2 563.2,424.0 563.4,423.4 563.6,423.9 563.7,423.8 563.9,423.9 564.1,423.1 564.3,424.2 564.5,423.6 564.7,424.0 564.9,424.2 565.0,424.7 565.2,423.9 565.4,423.8 565.6,423.5 565.8,424.0 566.0,423.9 566.2,423.7 566.4,423.9 566.5,423.4 566.7,423.3 566.9,423.3 567.1,423.6 567.3,423.4 567.5,423.7 567.7,423.2 567.8,423.7 568.0,424.7 568.2,423.3 568.4,423.9 568.6,423.8 568.8,423.8 569.0,424.0 569.1,423.9 569.3,423.7 569.5,423.9 569.7,423.1 569.9,423.5 570.1,423.7 570.3,423.8 570.5,424.0 570.6,423.4 570.8,423.3 571.0,424.2 571.2,424.0 571.4,423.7 571.6,423.7 571.8,423.7 571.9,423.7 572.1,424.0 572.3,423.7 572.5,423.8 572.7,423.6 572.9,423.8 573.1,423.8 573.3,423.8 573.4,424.2 573.6,423.9 573.8,423.8 574.0,423.4 574.2,424.3 574.4,424.1 574.6,423.9 574.7,423.7 574.9,423.8 575.1,423.7 575.3,424.3 575.5,424.6 575.7,424.1 575.9,423.3 576.0,423.4 576.2,423.3 576.4,424.0 576.6,424.2 576.8,423.7 577.0,423.8 577.2,424.0 577.4,424.6 577.5,424.3 577.7,424.1 577.9,423.3 578.1,424.3 578.3,423.6 578.5,423.7 578.7,424.2 578.8,423.3 579.0,423.7 579.2,423.0 579.4,423.6 579.6,423.5 579.8,423.2 580.0,423.5 580.2,423.9 580.3,423.0 580.5,423.7 580.7,423.9 580.9,424.0 581.1,423.9 581.3,424.0 581.5,423.8 581.6,424.0 581.8,423.2 582.0,423.4 582.2,424.1 582.4,423.9 582.6,424.0 582.8,423.2 582.9,423.2 583.1,424.0 583.3,423.8 583.5,423.6 583.7,423.8 583.9,424.0 584.1,423.7 584.3,423.0 584.4,424.4 584.6,423.9 584.8,424.4 585.0,423.1 585.2,423.5 585.4,423.8 585.6,423.6 585.7,424.2 585.9,423.5 586.1,424.1 586.3,423.4 586.5,423.9 586.7,424.0 586.9,423.7 587.1,423.6 587.2,423.5 587.4,423.9 587.6,423.1 587.8,424.1 588.0,423.7 588.2,423.4 588.4,423.6 588.5,423.5 588.7,423.2 588.9,423.7 589.1,424.1 589.3,423.8 589.5,423.7 589.7,423.7 589.8,423.6 590.0,423.4 590.2,423.9 590.4,423.7 590.6,424.1 590.8,424.0 591.0,424.1 591.2,423.6 591.3,423.7 591.5,423.8 591.7,423.7 591.9,423.9 592.1,424.5 592.3,423.9 592.5,423.2 592.6,424.0 592.8,423.6 593.0,423.7 593.2,424.2 593.4,424.5 593.6,423.5 593.8,423.6 594.0,424.0 594.1,423.2 594.3,423.4 594.5,422.8 594.7,423.1 594.9,423.5 595.1,424.3 595.3,423.8 595.4,423.8 595.6,423.4 595.8,423.8 596.0,423.9 596.2,423.2 596.4,423.7 596.6,423.7 596.7,423.6 596.9,423.8 597.1,423.4 597.3,423.6 597.5,423.3 597.7,423.8 597.9,423.5 598.1,423.9 598.2,424.0 598.4,423.3 598.6,423.4 598.8,423.5 599.0,423.4 599.2,423.8 599.4,423.5 599.5,424.3 599.7,423.8 599.9,423.4 600.1,423.5 600.3,423.5 600.5,423.8 600.7,423.7 600.9,423.3 601.0,424.5 601.2,423.3 601.4,423.5 601.6,423.9 601.8,423.5 602.0,423.3 602.2,424.3 602.3,424.0 602.5,424.1 602.7,423.8 602.9,423.7 603.1,423.9 603.3,423.9 603.5,423.1 603.6,423.6 603.8,424.0 604.0,424.0 604.2,424.0 604.4,423.4 604.6,423.4 604.8,423.9 605.0,423.8 605.1,423.0 605.3,423.6 605.5,423.4 605.7,424.2 605.9,423.7 606.1,423.4 606.3,423.8 606.4,423.8 606.6,424.2 606.8,423.4 607.0,423.6 607.2,424.0 607.4,423.8 607.6,423.9 607.8,423.1 607.9,423.9 608.1,423.7 608.3,423.5 608.5,423.6 608.7,423.4 608.9,423.8 609.1,423.7 609.2,423.9 609.4,423.4 609.6,423.6 609.8,423.9 610.0,423.2 610.2,423.2 610.4,423.7 610.5,423.4 610.7,423.8 610.9,424.5 611.1,423.9 611.3,423.5 611.5,423.8 611.7,423.5 611.9,424.1 612.0,423.5 612.2,423.4 612.4,423.0 612.6,423.6 612.8,423.7 613.0,423.9 613.2,423.6 613.3,423.3 613.5,423.8 613.7,424.1 613.9,424.1 614.1,424.1 614.3,424.0 614.5,423.5 614.7,424.3 614.8,423.7 615.0,423.0 615.2,423.2 615.4,423.6 615.6,424.1 615.8,423.5 616.0,423.6 616.1,424.1 616.3,423.8 616.5,423.8 616.7,423.9 616.9,423.6 617.1,423.4 617.3,423.6 617.4,423.3 617.6,424.0 617.8,423.8 618.0,423.0 618.2,424.0 618.4,423.9 618.6,423.8 618.8,424.0 618.9,423.9 619.1,424.4 619.3,424.0 619.5,423.3 619.7,424.3 619.9,422.9 620.1,423.7 620.2,423.8 620.4,423.6 620.6,423.8 620.8,423.8 621.0,424.4 621.2,423.9 621.4,424.1 621.6,423.6 621.7,423.2 621.9,424.2 622.1,423.8 622.3,423.9 622.5,423.1 622.7,423.8 622.9,423.4 623.0,423.6 623.2,424.1 623.4,423.4 623.6,423.7 623.8,423.3 624.0,423.7 624.2,424.1 624.3,424.2 624.5,424.3 624.7,424.0 624.9,423.5 625.1,424.3 625.3,423.5 625.5,424.0 625.7,423.9 625.8,423.6 626.0,424.1 626.2,423.7 626.4,423.6 626.6,424.2 626.8,424.3 627.0,424.0 627.1,423.6 627.3,423.1 627.5,424.4 627.7,424.1 627.9,423.7 628.1,423.3 628.3,423.4 628.5,423.3 628.6,424.2 628.8,423.6 629.0,424.1 629.2,424.1 629.4,423.7 629.6,423.4 629.8,424.1 629.9,423.6 630.1,424.4 630.3,424.1 630.5,423.7 630.7,424.2 630.9,423.3 631.1,424.0 631.2,423.4 631.4,423.7 631.6,423.9 631.8,424.2 632.0,424.1 632.2,423.9 632.4,423.6 632.6,424.6 632.7,423.1 632.9,424.0 633.1,423.7 633.3,423.4 633.5,423.8 633.7,423.1 633.9,423.7 634.0,423.6 634.2,423.2 634.4,423.2 634.6,424.1 634.8,424.6 635.0,423.9 635.2,423.6 635.4,423.9 635.5,423.8 635.7,423.8 635.9,424.8 636.1,423.6 636.3,423.5 636.5,424.0 636.7,423.5 636.8,423.7 637.0,423.7 637.2,423.4 637.4,423.6 637.6,422.9 637.8,423.1 638.0,424.5 638.1,423.4 638.3,423.6 638.5,423.3 638.7,423.7 638.9,423.6 639.1,422.9 639.3,424.4 639.5,423.7 639.6,424.6 639.8,424.0 640.0,423.6 640.2,424.2 640.4,424.0 640.6,423.6 640.8,423.9 640.9,423.5 641.1,424.3 641.3,423.4 641.5,423.1 641.7,424.3 641.9,424.0 642.1,424.2 642.3,424.1 642.4,423.5 642.6,423.6 642.8,423.7 643.0,424.0 643.2,423.7 643.4,424.1 643.6,423.9 643.7,423.3 643.9,423.3 644.1,423.6 644.3,423.5 644.5,424.0 644.7,423.3 644.9,424.2 645.0,424.2 645.2,423.6 645.4,423.8 645.6,424.2 645.8,423.6 646.0,423.2 646.2,423.5 646.4,424.2 646.5,424.0 646.7,423.7 646.9,423.6 647.1,424.0 647.3,423.5 647.5,423.3 647.7,424.0 647.8,423.6 648.0,424.0 648.2,424.2 648.4,423.2 648.6,423.6 648.8,423.9 649.0,423.7 649.2,423.4 649.3,423.3 649.5,423.9 649.7,423.0 649.9,423.0 650.1,423.5 650.3,423.8 650.5,423.5 650.6,423.2 650.8,423.4 651.0,423.4 651.2,424.0 651.4,423.8 651.6,423.4 651.8,424.1 651.9,423.0 652.1,424.1 652.3,424.0 652.5,424.4 652.7,423.6 652.9,424.2 653.1,423.8 653.3,423.6 653.4,423.6 653.6,423.2 653.8,423.9 654.0,424.1 654.2,423.9 654.4,423.5 654.6,424.0 654.7,423.7 654.9,424.2 655.1,423.3 655.3,423.4 655.5,423.1 655.7,423.7 655.9,423.9 656.1,423.5 656.2,423.8 656.4,424.5 656.6,424.1 656.8,423.7 657.0,424.3 657.2,423.9 657.4,424.0 657.5,424.0 657.7,423.8 657.9,423.5 658.1,423.4 658.3,423.3 658.5,424.5 658.7,423.6 658.8,424.1 659.0,424.0 659.2,423.5 659.4,424.3 659.6,424.2 659.8,423.8 660.0,423.3 660.2,424.4 660.3,423.8 660.5,423.0 660.7,423.7 660.9,424.0 661.1,423.7 661.3,424.2 661.5,424.1 661.6,423.1 661.8,423.6 662.0,423.9 662.2,423.5 662.4,423.3 662.6,423.0 662.8,423.9 663.0,423.1 663.1,423.4 663.3,424.2 663.5,423.2 663.7,423.2 663.9,423.4 664.1,423.8 664.3,423.9 664.4,423.8 664.6,424.6 664.8,424.0 665.0,423.8 665.2,423.4 665.4,424.0 665.6,423.4 665.7,423.5 665.9,423.6 666.1,423.7 666.3,423.7 666.5,424.0 666.7,423.7 666.9,423.5 667.1,423.5 667.2,423.9 667.4,423.6 667.6,423.9 667.8,424.0 668.0,424.0 668.2,423.6 668.4,423.7 668.5,422.8 668.7,423.9 668.9,423.2 669.1,423.5 669.3,423.6 669.5,423.3 669.7,423.9 669.9,423.5 670.0,423.7 670.2,424.3 670.4,423.8 670.6,424.0 670.8,424.5 671.0,423.1 671.2,423.5 671.3,423.7 671.5,424.0 671.7,423.6 671.9,424.0 672.1,424.0 672.3,423.8 672.5,423.5 672.6,424.4 672.8,423.9 673.0,423.7 673.2,423.7 673.4,424.0 673.6,423.8 673.8,423.2 674.0,423.7 674.1,424.0 674.3,423.2 674.5,424.2 674.7,423.7 674.9,424.4 675.1,423.9 675.3,424.1 675.4,423.8 675.6,423.6 675.8,423.4 676.0,424.1 676.2,423.7 676.4,423.5 676.6,423.3 676.8,424.1 676.9,424.0 677.1,424.0 677.3,423.7 677.5,423.5 677.7,423.8 677.9,423.8 678.1,423.4 678.2,423.4 678.4,423.6 678.6,423.5 678.8,423.7 679.0,423.6 679.2,423.9 679.4,423.2 679.5,423.6 679.7,424.4 679.9,423.6 680.1,423.5 680.3,423.4 680.5,423.9 680.7,424.2 680.9,423.5 681.0,423.8 681.2,423.7 681.4,423.4 681.6,423.9 681.8,424.1 682.0,423.9 682.2,423.9 682.3,423.8 682.5,424.0 682.7,424.8 682.9,424.0 683.1,424.5 683.3,423.8 683.5,423.7 683.7,423.6 683.8,423.5 684.0,424.0 684.2,423.2 684.4,424.0 684.6,424.2 684.8,424.0 685.0,423.3 685.1,423.5 685.3,423.2 685.5,424.2 685.7,423.9 685.9,424.2 686.1,423.4 686.3,423.5 686.4,423.4 686.6,423.4 686.8,423.7 687.0,423.9 687.2,423.6 687.4,423.4 687.6,424.0 687.8,423.6 687.9,423.4 688.1,423.7 688.3,423.6 688.5,423.6 688.7,423.2 688.9,423.8 689.1,423.3 689.2,423.9 689.4,423.7 689.6,423.9 689.8,424.1 690.0,424.0 690.2,423.2 690.4,423.8 690.6,422.8 690.7,424.2 690.9,423.4 691.1,423.9 691.3,423.6 691.5,423.7 691.7,424.1 691.9,423.8 692.0,423.3 692.2,423.9 692.4,424.0 692.6,423.7 692.8,424.1 693.0,423.5 693.2,423.8 693.3,424.1 693.5,423.7 693.7,423.6 693.9,424.1 694.1,423.9 694.3,423.2 694.5,423.4 694.7,423.6 694.8,423.7 695.0,423.4 695.2,423.6 695.4,423.5 695.6,423.9 695.8,424.1 696.0,423.9 696.1,423.5 696.3,424.1 696.5,422.9 696.7,424.2 696.9,423.7 697.1,422.6 697.3,424.1 697.5,423.2 697.6,422.8 697.8,424.0 698.0,423.6 698.2,423.8 698.4,423.8 698.6,423.6 698.8,424.2 698.9,423.5 699.1,423.8 699.3,424.3 699.5,423.7 699.7,423.9 699.9,423.7 700.1,423.9 700.3,423.8 700.4,423.3 700.6,424.4 700.8,423.8 701.0,423.8 701.2,424.3 701.4,423.5 701.6,424.0 701.7,423.5 701.9,423.6 702.1,423.8 702.3,423.7 702.5,423.9 702.7,423.7 702.9,423.9 703.0,423.8 703.2,424.2 703.4,423.7 703.6,423.7 703.8,423.9 704.0,423.6 704.2,424.3 704.4,423.5 704.5,423.8 704.7,424.5 704.9,424.1 705.1,424.3 705.3,423.8 705.5,423.6 705.7,424.0 705.8,423.6 706.0,423.9 706.2,423.9 706.4,423.6 706.6,423.5 706.8,423.4 707.0,423.5 707.2,423.8 707.3,423.9 707.5,423.3 707.7,423.7 707.9,423.5 708.1,423.4 708.3,423.3 708.5,424.0 708.6,423.8 708.8,423.6 709.0,423.7 709.2,424.1 709.4,423.7 709.6,424.1 709.8,422.8 709.9,423.5 710.1,424.1 710.3,424.3 710.5,424.0 710.7,423.4 710.9,424.0 711.1,424.0 711.3,423.5 711.4,423.7 711.6,423.8 711.8,423.8 712.0,423.4 712.2,423.7 712.4,423.6 712.6,424.1 712.7,423.6 712.9,423.8 713.1,424.1 713.3,423.5 713.5,423.0 713.7,423.4 713.9,423.9 714.1,423.4 714.2,423.5 714.4,423.9 714.6,424.3 714.8,423.8 715.0,424.0 715.2,423.9 715.4,423.1 715.5,423.7 715.7,423.5 715.9,424.5 716.1,423.7 716.3,424.1 716.5,423.7 716.7,424.3 716.8,423.7 717.0,423.8 717.2,423.9 717.4,423.4 717.6,424.1 717.8,423.7 718.0,424.0 718.2,423.7 718.3,423.7 718.5,423.5 718.7,423.7 718.9,424.4 719.1,423.7 719.3,423.7 719.5,423.3 719.6,423.8 719.8,423.6 720.0,423.3 720.2,424.0 720.4,424.1 720.6,423.3 720.8,424.0 721.0,423.6 721.1,423.0 721.3,423.9 721.5,423.8 721.7,423.1 721.9,423.7 722.1,423.9 722.3,423.6 722.4,423.9 722.6,424.0 722.8,424.4 723.0,423.5 723.2,424.1 723.4,424.2 723.6,422.7 723.7,423.7 723.9,423.6 724.1,423.9 724.3,423.5 724.5,423.9 724.7,424.2 724.9,423.0 725.1,423.6 725.2,424.1 725.4,424.0 725.6,423.7 725.8,423.7 726.0,424.1 726.2,423.5 726.4,423.5 726.5,423.7 726.7,423.7 726.9,423.7 727.1,423.4 727.3,423.6 727.5,424.1 727.7,423.6 727.9,423.8 728.0,423.8 728.2,424.1 728.4,423.8 728.6,423.9 728.8,423.2 729.0,423.7 729.2,423.7 729.3,424.1 729.5,423.9 729.7,423.0 729.9,424.1 730.1,424.3 730.3,423.4 730.5,423.6 730.6,423.8 730.8,423.8 731.0,423.6 731.2,424.1 731.4,423.8 731.6,423.6 731.8,424.0 732.0,423.3 732.1,423.6 732.3,423.9 732.5,423.6 732.7,423.7 732.9,423.0 733.1,423.7 733.3,423.4 733.4,423.6 733.6,424.5 733.8,423.5 734.0,423.7 734.2,423.3 734.4,423.9 734.6,423.0 734.8,423.7 734.9,423.9 735.1,424.0 735.3,423.5 735.5,423.6 735.7,423.4 735.9,423.5 736.1,423.8 736.2,423.8 736.4,423.4 736.6,424.1 736.8,423.8 737.0,424.1 737.2,423.8 737.4,423.8 737.5,423.8 737.7,423.6 737.9,424.1 738.1,423.8 738.3,424.0 738.5,423.0 738.7,424.0 738.9,423.8 739.0,424.3 739.2,423.9 739.4,423.5 739.6,423.4 739.8,423.9 740.0,423.4 740.2,424.6 740.3,424.0 740.5,424.2 740.7,423.9 740.9,423.6 741.1,423.8 741.3,423.2 741.5,423.5 741.7,423.9 741.8,424.1 742.0,423.4 742.2,424.3 742.4,424.6 742.6,423.8 742.8,423.7 743.0,424.2 743.1,423.0 743.3,424.0 743.5,423.5 743.7,423.7 743.9,423.5 744.1,423.4 744.3,423.5 744.4,424.1 744.6,424.2 744.8,423.5 745.0,424.2 745.2,423.4 745.4,424.1 745.6,423.6 745.8,423.6 745.9,423.9 746.1,423.7 746.3,424.0 746.5,423.8 746.7,424.1 746.9,422.9 747.1,423.3 747.2,424.1 747.4,423.8 747.6,424.2 747.8,424.3 748.0,424.0 748.2,423.1 748.4,423.4 748.6,424.2 748.7,424.0 748.9,423.5 749.1,424.2 749.3,423.4 749.5,423.8 749.7,423.4 749.9,423.5 750.0,424.1 750.2,424.1 750.4,423.3 750.6,424.1 750.8,423.8 751.0,424.4 751.2,423.4 751.3,423.4 751.5,424.7 751.7,423.9 751.9,423.5 752.1,423.5 752.3,423.4 752.5,424.2 752.7,423.3 752.8,423.4 753.0,424.0 753.2,423.9 753.4,423.9 753.6,423.5 753.8,424.2 754.0,423.2 754.1,423.2 754.3,423.6 754.5,423.2 754.7,423.7 754.9,423.9 755.1,424.0 755.3,423.3 755.5,424.2 755.6,423.8 755.8,423.5 756.0,423.5 756.2,423.7 756.4,424.1 756.6,423.7 756.8,423.8 756.9,424.0 757.1,424.1 757.3,423.8 757.5,424.1 757.7,424.4 757.9,423.4 758.1,423.6 758.2,423.3 758.4,423.5 758.6,423.6 758.8,423.8 759.0,423.9 759.2,423.8 759.4,423.7 759.6,423.7 759.7,424.1 759.9,423.9 760.1,424.0 760.3,423.7" fill="none" stroke="#1f77b4" stroke-width="2.5" stroke-linejoin="round" stroke-linecap="butt"/>
<polyline clip-path="url(#cf)" points="499.4,424.1 499.6,426.6 499.8,430.4 500.0,432.0 500.1,430.6 500.3,431.5 500.5,433.4 500.7,443.0 500.9,440.8 501.1,439.7 501.3,435.1 501.5,438.1 501.6,441.0 501.8,438.3 502.0,438.6 502.2,444.8 502.4,437.4 502.6,440.3 502.8,437.3 502.9,435.2 503.1,441.0 503.3,431.3 503.5,439.6 503.7,431.7 503.9,431.3 504.1,435.0 504.2,428.9 504.4,436.4 504.6,440.8 504.8,434.9 505.0,438.4 505.2,434.8 505.4,432.5 505.6,426.2 505.7,433.3 505.9,432.6 506.1,429.2 506.3,427.4 506.5,430.7 506.7,425.8 506.9,433.2 507.0,431.5 507.2,431.3 507.4,428.9 507.6,423.7 507.8,426.0 508.0,422.7 508.2,433.6 508.4,432.3 508.5,426.6 508.7,429.9 508.9,431.7 509.1,439.3 509.3,428.8 509.5,435.3 509.7,429.5 509.8,435.5 510.0,434.3 510.2,424.8 510.4,434.5 510.6,434.8 510.8,431.0 511.0,437.1 511.1,429.0 511.3,427.0 511.5,427.5 511.7,429.5 511.9,425.7 512.1,427.1 512.3,425.2 512.5,426.4 512.6,418.3 512.8,420.0 513.0,412.4 513.2,417.9 513.4,416.2 513.6,420.6 513.8,418.3 513.9,417.1 514.1,421.0 514.3,418.2 514.5,422.8 514.7,433.3 514.9,427.0 515.1,422.5 515.3,423.6 515.4,426.7 515.6,427.1 515.8,427.5 516.0,436.5 516.2,433.8 516.4,427.3 516.6,423.6 516.7,432.3 516.9,433.0 517.1,429.1 517.3,428.8 517.5,432.0 517.7,435.6 517.9,429.4 518.0,428.2 518.2,439.0 518.4,441.3 518.6,432.9 518.8,433.7 519.0,439.1 519.2,437.2 519.4,435.3 519.5,431.0 519.7,432.8 519.9,433.1 520.1,433.1 520.3,435.6 520.5,435.3 520.7,434.8 520.8,430.2 521.0,434.0 521.2,437.5 521.4,426.6 521.6,425.7 521.8,416.9 522.0,421.7 522.2,426.9 522.3,427.8 522.5,416.2 522.7,418.5 522.9,428.7 523.1,425.3 523.3,421.7 523.5,414.7 523.6,420.3 523.8,427.7 524.0,414.6 524.2,421.2 524.4,415.9 524.6,420.6 524.8,414.6 524.9,410.5 525.1,417.2 525.3,413.4 525.5,405.6 525.7,407.8 525.9,402.0 526.1,407.0 526.3,410.5 526.4,411.6 526.6,404.6 526.8,402.0 527.0,405.8 527.2,404.2 527.4,404.4 527.6,414.9 527.7,414.9 527.9,411.6 528.1,410.2 528.3,410.5 528.5,412.1 528.7,415.0 528.9,412.7 529.1,412.7 529.2,414.8 529.4,411.5 529.6,415.4 529.8,415.6 530.0,414.6 530.2,419.1 530.4,410.7 530.5,421.4 530.7,417.2 530.9,425.8 531.1,422.1 531.3,425.7 531.5,425.1 531.7,415.5 531.8,424.2 532.0,423.3 532.2,427.3 532.4,418.5 532.6,412.4 532.8,429.5 533.0,435.0 533.2,433.1 533.3,423.9 533.5,429.0 533.7,439.6 533.9,437.8 534.1,431.2 534.3,432.3 534.5,425.7 534.6,430.9 534.8,434.5 535.0,436.4 535.2,437.8 535.4,440.0 535.6,436.8 535.8,431.9 536.0,438.6 536.1,438.3 536.3,436.2 536.5,431.4 536.7,436.3 536.9,437.6 537.1,435.9 537.3,438.6 537.4,439.5 537.6,442.5 537.8,436.0 538.0,440.4 538.2,445.6 538.4,441.4 538.6,443.0 538.7,450.4 538.9,442.9 539.1,445.7 539.3,443.9 539.5,438.6 539.7,436.5 539.9,437.0 540.1,438.6 540.2,433.6 540.4,443.2 540.6,432.4 540.8,432.7 541.0,437.8 541.2,441.3 541.4,432.5 541.5,430.2 541.7,434.9 541.9,436.3 542.1,432.0 542.3,432.8 542.5,437.3 542.7,436.5 542.9,439.9 543.0,447.3 543.2,447.2 543.4,442.0 543.6,444.0 543.8,442.6 544.0,440.6 544.2,448.9 544.3,452.0 544.5,445.1 544.7,446.5 544.9,446.1 545.1,446.1 545.3,432.4 545.5,445.5 545.6,447.3 545.8,449.9 546.0,452.1 546.2,453.2 546.4,445.1 546.6,445.4 546.8,455.0 547.0,460.3 547.1,448.3 547.3,446.3 547.5,452.0 547.7,451.2 547.9,451.2 548.1,455.1 548.3,457.5 548.4,451.3 548.6,447.8 548.8,451.1 549.0,446.9 549.2,451.0 549.4,456.3 549.6,451.2 549.8,454.3 549.9,457.1 550.1,450.7 550.3,450.5 550.5,457.2 550.7,456.8 550.9,455.0 551.1,461.9 551.2,457.1 551.4,460.0 551.6,456.5 551.8,459.7 552.0,454.0 552.2,465.1 552.4,448.7 552.5,465.1 552.7,450.9 552.9,456.7 553.1,461.0 553.3,446.4 553.5,458.2 553.7,458.3 553.9,465.4 554.0,463.4 554.2,463.3 554.4,458.6 554.6,458.6 554.8,455.1 555.0,461.6 555.2,463.1 555.3,471.5 555.5,460.0 555.7,467.2 555.9,469.9 556.1,457.6 556.3,467.8 556.5,473.2 556.7,472.1 556.8,471.9 557.0,473.2 557.2,468.1 557.4,471.3 557.6,465.8 557.8,470.3 558.0,470.3 558.1,483.1 558.3,481.3 558.5,477.1 558.7,480.6 558.9,481.0 559.1,481.6 559.3,479.5 559.4,483.0 559.6,483.1 559.8,483.8 560.0,476.9 560.2,473.4 560.4,474.1 560.6,476.3 560.8,474.9 560.9,465.2 561.1,466.7 561.3,469.2 561.5,468.3 561.7,467.3 561.9,465.3 562.1,464.7 562.2,476.9 562.4,472.4 562.6,466.6 562.8,465.8 563.0,469.2 563.2,464.0 563.4,465.8 563.6,465.4 563.7,469.7 563.9,461.1 564.1,457.7 564.3,463.4 564.5,460.6 564.7,466.4 564.9,465.3 565.0,470.1 565.2,468.0 565.4,462.6 565.6,468.2 565.8,457.8 566.0,456.3 566.2,460.9 566.4,456.5 566.5,463.2 566.7,464.8 566.9,468.2 567.1,460.3 567.3,462.5 567.5,452.5 567.7,454.2 567.8,459.9 568.0,461.9 568.2,460.5 568.4,468.7 568.6,462.8 568.8,455.2 569.0,463.4 569.1,466.9 569.3,460.9 569.5,464.4 569.7,461.9 569.9,462.1 570.1,463.4 570.3,461.2 570.5,462.3 570.6,455.8 570.8,465.3 571.0,453.2 571.2,459.8 571.4,450.1 571.6,458.8 571.8,461.3 571.9,456.2 572.1,465.2 572.3,471.1 572.5,471.4 572.7,464.2 572.9,466.3 573.1,460.2 573.3,466.8 573.4,469.2 573.6,455.0 573.8,460.7 574.0,470.6 574.2,462.6 574.4,466.8 574.6,461.9 574.7,458.5 574.9,464.3 575.1,473.8 575.3,463.1 575.5,460.7 575.7,465.0 575.9,468.3 576.0,467.2 576.2,468.8 576.4,466.3 576.6,463.1 576.8,458.1 577.0,458.3 577.2,459.3 577.4,458.8 577.5,457.3 577.7,452.9 577.9,451.5 578.1,454.7 578.3,454.5 578.5,453.0 578.7,455.7 578.8,463.7 579.0,444.5 579.2,446.0 579.4,449.6 579.6,449.6 579.8,452.9 580.0,451.8 580.2,455.8 580.3,465.4 580.5,464.1 580.7,458.3 580.9,453.7 581.1,464.2 581.3,456.3 581.5,461.7 581.6,469.6 581.8,464.1 582.0,466.3 582.2,456.3 582.4,462.9 582.6,464.4 582.8,459.8 582.9,459.7 583.1,466.1 583.3,468.1 583.5,465.0 583.7,460.5 583.9,463.0 584.1,462.2 584.3,456.5 584.4,454.3 584.6,461.5 584.8,465.3 585.0,465.0 585.2,464.5 585.4,459.2 585.6,461.9 585.7,464.5 585.9,458.9 586.1,457.4 586.3,466.2 586.5,456.7 586.7,457.6 586.9,462.2 587.1,462.1 587.2,459.8 587.4,457.5 587.6,456.7 587.8,459.4 588.0,455.8 588.2,461.8 588.4,464.9 588.5,449.5 588.7,457.5 588.9,459.9 589.1,454.7 589.3,462.6 589.5,454.5 589.7,458.6 589.8,461.0 590.0,463.2 590.2,462.5 590.4,467.3 590.6,456.8 590.8,456.3 591.0,455.2 591.2,455.3 591.3,455.0 591.5,451.9 591.7,458.4 591.9,449.5 592.1,453.4 592.3,454.0 592.5,456.3 592.6,460.5 592.8,452.7 593.0,452.8 593.2,454.0 593.4,456.7 593.6,464.0 593.8,458.0 594.0,456.4 594.1,453.5 594.3,450.2 594.5,459.5 594.7,464.6 594.9,453.0 595.1,452.6 595.3,457.3 595.4,455.8 595.6,460.1 595.8,454.4 596.0,447.4 596.2,452.7 596.4,459.9 596.6,453.2 596.7,449.9 596.9,440.4 597.1,444.7 597.3,449.5 597.5,449.2 597.7,458.6 597.9,453.3 598.1,457.4 598.2,455.6 598.4,454.5 598.6,450.0 598.8,466.9 599.0,455.5 599.2,453.1 599.4,461.9 599.5,458.4 599.7,464.1 599.9,450.4 600.1,458.0 600.3,452.2 600.5,451.8 600.7,466.5 600.9,464.1 601.0,466.4 601.2,463.8 601.4,460.9 601.6,458.1 601.8,462.1 602.0,461.4 602.2,464.6 602.3,463.5 602.5,468.6 602.7,461.4 602.9,457.1 603.1,466.8 603.3,468.4 603.5,471.4 603.6,465.7 603.8,476.1 604.0,469.3 604.2,468.2 604.4,459.1 604.6,452.6 604.8,458.3 605.0,462.0 605.1,457.4 605.3,458.1 605.5,460.9 605.7,458.7 605.9,456.1 606.1,463.9 606.3,460.4 606.4,459.2 606.6,455.1 606.8,463.9 607.0,462.3 607.2,463.3 607.4,461.8 607.6,461.4 607.8,452.4 607.9,456.9 608.1,465.2 608.3,462.1 608.5,463.1 608.7,463.9 608.9,454.5 609.1,463.3 609.2,458.1 609.4,472.5 609.6,467.4 609.8,475.3 610.0,461.0 610.2,457.9 610.4,471.1 610.5,461.9 610.7,460.8 610.9,471.8 611.1,462.3 611.3,465.6 611.5,468.6 611.7,469.3 611.9,468.7 612.0,473.1 612.2,465.8 612.4,470.8 612.6,460.7 612.8,462.5 613.0,474.2 613.2,471.0 613.3,465.1 613.5,460.7 613.7,461.3 613.9,462.2 614.1,454.7 614.3,456.8 614.5,458.1 614.7,457.7 614.8,454.4 615.0,455.1 615.2,458.9 615.4,462.9 615.6,455.7 615.8,451.9 616.0,462.5 616.1,461.6 616.3,457.8 616.5,461.3 616.7,459.3 616.9,456.6 617.1,467.9 617.3,468.8 617.4,473.2 617.6,463.3 617.8,465.6 618.0,473.2 618.2,459.9 618.4,462.6 618.6,477.2 618.8,471.7 618.9,467.5 619.1,462.6 619.3,466.7 619.5,469.5 619.7,460.9 619.9,471.6 620.1,469.4 620.2,470.6 620.4,470.7 620.6,469.0 620.8,465.5 621.0,461.3 621.2,467.1 621.4,461.1 621.6,454.7 621.7,458.9 621.9,454.9 622.1,452.1 622.3,456.7 622.5,460.3 622.7,454.2 622.9,455.1 623.0,458.5 623.2,449.5 623.4,455.2 623.6,451.5 623.8,446.1 624.0,451.9 624.2,452.7 624.3,450.7 624.5,450.0 624.7,452.6 624.9,454.7 625.1,458.7 625.3,447.2 625.5,447.3 625.7,451.4 625.8,456.5 626.0,446.3 626.2,448.1 626.4,449.6 626.6,441.9 626.8,447.9 627.0,443.3 627.1,448.1 627.3,443.0 627.5,446.0 627.7,449.8 627.9,443.5 628.1,444.7 628.3,444.9 628.5,444.8 628.6,444.9 628.8,449.5 629.0,450.7 629.2,448.5 629.4,453.3 629.6,451.7 629.8,448.4 629.9,459.3 630.1,456.4 630.3,458.7 630.5,464.6 630.7,457.0 630.9,457.3 631.1,454.0 631.2,467.9 631.4,465.1 631.6,462.7 631.8,461.1 632.0,457.8 632.2,471.4 632.4,464.8 632.6,462.4 632.7,468.2 632.9,469.0 633.1,467.0 633.3,467.7 633.5,465.9 633.7,459.7 633.9,450.0 634.0,457.0 634.2,451.4 634.4,450.6 634.6,455.5 634.8,452.2 635.0,453.9 635.2,445.8 635.4,447.0 635.5,454.3 635.7,443.0 635.9,452.9 636.1,454.1 636.3,447.7 636.5,455.5 636.7,461.1 636.8,443.6 637.0,445.4 637.2,449.5 637.4,441.5 637.6,451.3 637.8,442.4 638.0,440.3 638.1,444.7 638.3,443.0 638.5,449.2 638.7,442.5 638.9,446.8 639.1,448.6 639.3,445.6 639.5,441.8 639.6,444.8 639.8,440.8 640.0,443.7 640.2,440.9 640.4,439.7 640.6,440.8 640.8,451.9 640.9,441.1 641.1,449.4 641.3,453.5 641.5,454.0 641.7,440.9 641.9,447.8 642.1,455.4 642.3,444.3 642.4,440.8 642.6,447.9 642.8,449.3 643.0,444.9 643.2,448.0 643.4,443.5 643.6,445.9 643.7,437.9 643.9,438.9 644.1,442.8 644.3,448.6 644.5,444.0 644.7,440.9 644.9,442.3 645.0,443.6 645.2,438.8 645.4,444.6 645.6,445.4 645.8,440.8 646.0,447.3 646.2,438.0 646.4,443.4 646.5,439.5 646.7,438.5 646.9,446.2 647.1,440.5 647.3,432.5 647.5,439.4 647.7,431.0 647.8,436.3 648.0,432.7 648.2,429.0 648.4,436.2 648.6,445.7 648.8,433.0 649.0,421.5 649.2,425.0 649.3,432.8 649.5,430.1 649.7,426.5 649.9,429.8 650.1,430.4 650.3,426.9 650.5,432.6 650.6,431.2 650.8,433.0 651.0,431.7 651.2,430.4 651.4,426.0 651.6,416.7 651.8,431.0 651.9,430.9 652.1,421.7 652.3,424.4 652.5,441.9 652.7,435.5 652.9,431.0 653.1,428.4 653.3,436.4 653.4,437.3 653.6,434.8 653.8,430.5 654.0,424.3 654.2,435.7 654.4,437.5 654.6,425.7 654.7,431.5 654.9,421.3 655.1,433.0 655.3,438.0 655.5,421.4 655.7,434.2 655.9,426.3 656.1,425.9 656.2,424.6 656.4,434.1 656.6,433.0 656.8,433.2 657.0,422.7 657.2,428.1 657.4,433.6 657.5,435.6 657.7,431.8 657.9,442.4 658.1,436.3 658.3,426.9 658.5,431.5 658.7,433.9 658.8,434.4 659.0,435.4 659.2,431.4 659.4,440.0 659.6,437.7 659.8,439.3 660.0,441.4 660.2,435.2 660.3,433.8 660.5,434.9 660.7,432.0 660.9,426.4 661.1,434.5 661.3,434.7 661.5,432.3 661.6,435.8 661.8,427.7 662.0,436.6 662.2,429.9 662.4,433.5 662.6,431.7 662.8,436.2 663.0,426.3 663.1,433.6 663.3,432.1 663.5,430.7 663.7,432.4 663.9,427.9 664.1,433.1 664.3,426.2 664.4,425.5 664.6,429.7 664.8,445.0 665.0,438.0 665.2,438.2 665.4,432.9 665.6,442.6 665.7,441.3 665.9,437.0 666.1,441.5 666.3,440.8 666.5,428.7 666.7,442.9 666.9,445.1 667.1,439.0 667.2,440.1 667.4,442.9 667.6,429.0 667.8,432.1 668.0,433.0 668.2,430.7 668.4,429.5 668.5,421.9 668.7,419.7 668.9,423.8 669.1,426.4 669.3,427.0 669.5,420.0 669.7,426.8 669.9,424.8 670.0,428.5 670.2,436.6 670.4,434.1 670.6,433.6 670.8,425.7 671.0,424.8 671.2,434.7 671.3,430.1 671.5,437.0 671.7,431.9 671.9,435.4 672.1,422.9 672.3,441.2 672.5,439.8 672.6,436.5 672.8,437.9 673.0,446.7 673.2,439.9 673.4,440.7 673.6,435.7 673.8,442.0 674.0,439.5 674.1,444.3 674.3,437.4 674.5,441.1 674.7,439.8 674.9,439.4 675.1,438.0 675.3,444.1 675.4,436.8 675.6,446.6 675.8,441.5 676.0,434.9 676.2,437.0 676.4,442.3 676.6,442.0 676.8,438.0 676.9,439.7 677.1,433.2 677.3,442.2 677.5,432.4 677.7,431.5 677.9,437.4 678.1,429.6 678.2,429.0 678.4,437.3 678.6,432.6 678.8,429.3 679.0,436.2 679.2,431.0 679.4,433.6 679.5,431.9 679.7,433.7 679.9,433.9 680.1,432.3 680.3,432.9 680.5,432.8 680.7,429.7 680.9,431.1 681.0,428.2 681.2,427.2 681.4,431.4 681.6,426.3 681.8,432.8 682.0,434.6 682.2,441.3 682.3,420.4 682.5,424.8 682.7,438.5 682.9,434.1 683.1,415.6 683.3,412.5 683.5,427.4 683.7,421.4 683.8,419.1 684.0,421.1 684.2,423.1 684.4,429.7 684.6,430.5 684.8,431.5 685.0,434.3 685.1,427.7 685.3,419.2 685.5,425.2 685.7,419.8 685.9,419.4 686.1,414.5 686.3,419.8 686.4,421.9 686.6,416.8 686.8,409.8 687.0,422.2 687.2,415.7 687.4,413.1 687.6,419.0 687.8,410.8 687.9,417.2 688.1,412.6 688.3,419.3 688.5,417.2 688.7,414.2 688.9,413.2 689.1,421.5 689.2,424.5 689.4,415.1 689.6,422.2 689.8,420.2 690.0,422.8 690.2,425.3 690.4,421.8 690.6,423.4 690.7,417.7 690.9,425.9 691.1,426.5 691.3,431.2 691.5,430.1 691.7,426.8 691.9,426.1 692.0,419.8 692.2,429.0 692.4,422.4 692.6,431.4 692.8,429.0 693.0,433.1 693.2,435.9 693.3,433.2 693.5,433.7 693.7,436.7 693.9,437.0 694.1,436.0 694.3,433.9 694.5,444.0 694.7,441.2 694.8,431.5 695.0,442.2 695.2,446.3 695.4,440.3 695.6,436.5 695.8,441.6 696.0,442.0 696.1,438.8 696.3,432.5 696.5,429.6 696.7,442.2 696.9,440.5 697.1,437.4 697.3,433.9 697.5,434.9 697.6,425.9 697.8,430.7 698.0,433.2 698.2,434.7 698.4,441.1 698.6,446.4 698.8,445.4 698.9,429.8 699.1,435.8 699.3,437.4 699.5,433.1 699.7,440.9 699.9,439.7 700.1,437.3 700.3,440.3 700.4,439.0 700.6,444.2 700.8,443.3 701.0,436.9 701.2,440.8 701.4,445.5 701.6,448.6 701.7,446.4 701.9,446.5 702.1,444.6 702.3,442.6 702.5,435.0 702.7,436.1 702.9,438.7 703.0,446.2 703.2,436.1 703.4,423.1 703.6,432.6 703.8,420.0 704.0,432.3 704.2,426.8 704.4,434.6 704.5,433.3 704.7,426.7 704.9,428.8 705.1,432.4 705.3,428.6 705.5,435.3 705.7,439.6 705.8,434.0 706.0,436.2 706.2,428.7 706.4,431.5 706.6,431.5 706.8,426.1 707.0,431.1 707.2,429.4 707.3,427.4 707.5,436.1 707.7,434.0 707.9,426.9 708.1,427.5 708.3,421.0 708.5,419.6 708.6,426.8 708.8,437.0 709.0,432.1 709.2,434.7 709.4,437.6 709.6,426.1 709.8,431.6 709.9,438.9 710.1,433.8 710.3,426.1 710.5,427.6 710.7,433.6 710.9,429.3 711.1,433.6 711.3,426.8 711.4,435.9 711.6,430.4 711.8,421.4 712.0,427.3 712.2,430.0 712.4,425.1 712.6,437.4 712.7,434.3 712.9,433.4 713.1,429.3 713.3,434.1 713.5,432.1 713.7,438.3 713.9,440.3 714.1,442.4 714.2,436.3 714.4,449.5 714.6,441.9 714.8,440.8 715.0,447.2 715.2,437.7 715.4,440.5 715.5,447.2 715.7,434.2 715.9,436.0 716.1,445.1 716.3,453.6 716.5,450.4 716.7,446.4 716.8,452.9 717.0,447.7 717.2,433.7 717.4,447.5 717.6,447.6 717.8,441.0 718.0,442.6 718.2,447.5 718.3,451.5 718.5,436.6 718.7,438.5 718.9,432.4 719.1,438.2 719.3,440.3 719.5,441.3 719.6,433.3 719.8,436.2 720.0,445.4 720.2,438.9 720.4,441.5 720.6,443.5 720.8,438.8 721.0,439.0 721.1,431.8 721.3,439.6 721.5,437.8 721.7,439.6 721.9,435.4 722.1,442.4 722.3,439.7 722.4,435.1 722.6,437.1 722.8,432.4 723.0,432.8 723.2,430.4 723.4,443.8 723.6,433.5 723.7,442.2 723.9,432.1 724.1,439.5 724.3,444.0 724.5,438.2 724.7,438.1 724.9,432.8 725.1,432.5 725.2,444.0 725.4,433.2 725.6,432.3 725.8,433.9 726.0,433.4 726.2,433.1 726.4,433.5 726.5,435.0 726.7,425.5 726.9,430.1 727.1,424.3 727.3,427.0 727.5,432.7 727.7,435.4 727.9,431.3 728.0,428.0 728.2,433.7 728.4,429.5 728.6,433.5 728.8,433.5 729.0,426.2 729.2,433.4 729.3,426.9 729.5,423.9 729.7,420.6 729.9,413.8 730.1,421.4 730.3,419.3 730.5,421.8 730.6,423.9 730.8,425.5 731.0,413.1 731.2,418.9 731.4,419.4 731.6,419.4 731.8,418.0 732.0,413.3 732.1,429.7 732.3,421.9 732.5,423.7 732.7,422.4 732.9,423.2 733.1,424.8 733.3,428.2 733.4,426.1 733.6,418.1 733.8,422.8 734.0,424.6 734.2,427.4 734.4,423.6 734.6,424.8 734.8,422.6 734.9,418.8 735.1,420.6 735.3,421.3 735.5,418.9 735.7,422.3 735.9,428.3 736.1,426.8 736.2,425.0 736.4,426.6 736.6,420.6 736.8,424.9 737.0,426.7 737.2,424.1 737.4,427.3 737.5,427.8 737.7,430.8 737.9,426.1 738.1,426.4 738.3,419.7 738.5,422.0 738.7,429.3 738.9,427.8 739.0,426.6 739.2,432.3 739.4,429.5 739.6,432.1 739.8,431.8 740.0,430.6 740.2,427.1 740.3,436.4 740.5,435.3 740.7,437.4 740.9,436.0 741.1,435.2 741.3,440.9 741.5,445.0 741.7,436.6 741.8,439.9 742.0,439.5 742.2,448.0 742.4,447.7 742.6,440.0 742.8,444.3 743.0,448.7 743.1,448.9 743.3,446.2 743.5,448.2 743.7,442.9 743.9,431.4 744.1,436.6 744.3,441.2 744.4,448.2 744.6,447.3 744.8,435.4 745.0,437.9 745.2,441.1 745.4,431.9 745.6,436.3 745.8,432.4 745.9,433.4 746.1,438.1 746.3,442.6 746.5,440.4 746.7,442.6 746.9,439.1 747.1,425.9 747.2,432.6 747.4,430.6 747.6,438.7 747.8,432.9 748.0,433.9 748.2,434.7 748.4,434.6 748.6,436.3 748.7,433.8 748.9,419.6 749.1,424.9 749.3,428.6 749.5,427.9 749.7,428.4 749.9,430.0 750.0,431.3 750.2,424.6 750.4,425.2 750.6,430.1 750.8,429.4 751.0,438.9 751.2,439.4 751.3,429.0 751.5,433.0 751.7,428.1 751.9,443.2 752.1,432.8 752.3,439.4 752.5,432.0 752.7,435.0 752.8,438.9 753.0,431.8 753.2,436.7 753.4,436.9 753.6,432.1 753.8,443.0 754.0,441.1 754.1,445.2 754.3,444.6 754.5,448.1 754.7,443.2 754.9,449.7 755.1,446.0 755.3,448.2 755.5,449.3 755.6,447.6 755.8,450.2 756.0,451.7 756.2,448.9 756.4,447.5 756.6,451.2 756.8,446.8 756.9,439.3 757.1,451.1 757.3,450.9 757.5,447.6 757.7,438.9 757.9,445.5 758.1,446.8 758.2,450.7 758.4,443.4 758.6,453.2 758.8,452.1 759.0,447.1 759.2,447.6 759.4,447.6 759.6,449.2 759.7,458.5 759.9,454.5 760.1,457.0 760.3,458.6" fill="none" stroke="#ff7f0e" stroke-width="1.6" stroke-linejoin="round" stroke-linecap="butt"/>
<path d="M499.40 490.00v3.00M542.88 490.00v3.00M586.37 490.00v3.00M629.85 490.00v3.00M673.33 490.00v3.00M716.82 490.00v3.00M760.30 490.00v3.00M486.50 424.10h-3.00M486.50 460.20h-3.00" stroke="#000" stroke-width="0.8" fill="none"/>
<rect x="486.50" y="396.50" width="286.80" height="93.50" fill="none" stroke="#000" stroke-width="1.1"/>
<text x="499.40" y="503.00" font-size="10.00" text-anchor="middle" textLength="5.27" lengthAdjust="spacingAndGlyphs">0</text>
<text x="542.88" y="503.00" font-size="10.00" text-anchor="middle" textLength="10.53" lengthAdjust="spacingAndGlyphs">10</text>
<text x="586.37" y="503.00" font-size="10.00" text-anchor="middle" textLength="10.53" lengthAdjust="spacingAndGlyphs">20</text>
<text x="629.85" y="503.00" font-size="10.00" text-anchor="middle" textLength="10.53" lengthAdjust="spacingAndGlyphs">30</text>
<text x="673.33" y="503.00" font-size="10.00" text-anchor="middle" textLength="10.53" lengthAdjust="spacingAndGlyphs">40</text>
<text x="716.82" y="503.00" font-size="10.00" text-anchor="middle" textLength="10.53" lengthAdjust="spacingAndGlyphs">50</text>
<text x="760.30" y="503.00" font-size="10.00" text-anchor="middle" textLength="10.53" lengthAdjust="spacingAndGlyphs">60</text>
<text x="480.60" y="427.40" font-size="10.00" text-anchor="end" textLength="5.66" lengthAdjust="spacingAndGlyphs">0</text>
<text x="480.60" y="463.50" font-size="10.00" text-anchor="end" textLength="18.78" lengthAdjust="spacingAndGlyphs">−10</text>
<rect x="659.70" y="399.70" width="109.30" height="13.60" rx="2.5" fill="#fff" fill-opacity="0.8" stroke="#cccccc" stroke-width="0.9"/>
<path d="M662.5 406.4H678.5" stroke="#1f77b4" stroke-width="1.5"/><path d="M722 406.4H738" stroke="#ff7f0e" stroke-width="1.5"/>
<text x="683.50" y="409.20" font-size="7.63" textLength="24.00" lengthAdjust="spacingAndGlyphs"><tspan font-style="italic">x</tspan><tspan font-size="5.34" dy="1.53">1</tspan><tspan dy="-1.53"> − </tspan><tspan font-style="italic">x</tspan><tspan font-size="5.34" dy="1.53">1</tspan></text>
<path d="M699.9 403.6H703.3" stroke="#000" stroke-width="0.7"/>
<text x="742.00" y="409.20" font-size="7.63" textLength="24.50" lengthAdjust="spacingAndGlyphs"><tspan font-style="italic">x</tspan><tspan font-size="5.34" dy="1.53">2</tspan><tspan dy="-1.53"> − </tspan><tspan font-style="italic">x</tspan><tspan font-size="5.34" dy="1.53">2</tspan></text>
<path d="M758.6 403.6H762.0" stroke="#000" stroke-width="0.7"/>
<text x="542.90" y="392.20" font-size="10.86" text-anchor="start" textLength="165.20" lengthAdjust="spacingAndGlyphs">Error state estimation using EKF</text>
<text x="437.60" y="382.50" font-size="13.00" text-anchor="start" class="t">(f)</text>
<text x="457.10" y="442.80" font-size="9.22" text-anchor="middle" textLength="46.01" lengthAdjust="spacingAndGlyphs" transform="rotate(-90 457.10 442.80)">Error state</text>
<text x="631.20" y="518.20" font-size="12.00" text-anchor="middle" textLength="35.50" lengthAdjust="spacingAndGlyphs" class="t">time[s]</text>
</svg></body></html>
